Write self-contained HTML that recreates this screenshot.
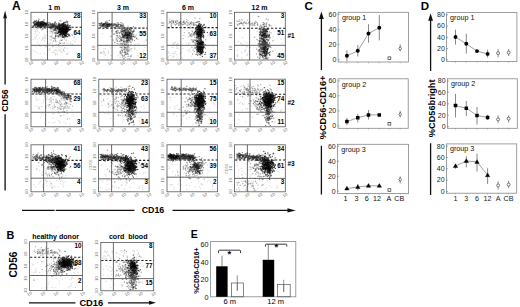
<!DOCTYPE html>
<html><head><meta charset="utf-8"><style>
html,body{margin:0;padding:0;background:#fff;width:520px;height:307px;overflow:hidden}
svg{display:block;font-family:"Liberation Sans",sans-serif}
.d{fill:none;stroke:#000;stroke-width:1.25px;stroke-linecap:round;filter:blur(.45px)}
</style></head><body><svg width="520" height="307" viewBox="0 0 520 307" ><text x="12.1" y="9.7" font-size="12" font-weight="bold" text-anchor="start" fill="#000">A</text><text x="54.3" y="9.6" font-size="7" font-weight="bold" text-anchor="middle" fill="#000">1 m</text><text x="123" y="9.6" font-size="7" font-weight="bold" text-anchor="middle" fill="#000">3 m</text><text x="188" y="9.6" font-size="7" font-weight="bold" text-anchor="middle" fill="#000">6 m</text><text x="259.5" y="9.6" font-size="7" font-weight="bold" text-anchor="middle" fill="#000">12 m</text><path d="M5.1 17V84.5M5.1 114.2V190.5" stroke="#111" stroke-width="1.3"/><path d="M5.1 10.4L3.2 18.2H7Z" fill="#111"/><text x="7.5" y="100.5" font-size="8.8" font-weight="bold" text-anchor="middle" fill="#000" transform="rotate(-90 7.5 100.5)">CD56</text><path d="M22 210.4H54.6M55.7 210.4H134.5M172.5 210.4H289" stroke="#111" stroke-width="1.2"/><path d="M295.8 210.4L287.5 208.2V212.6Z" fill="#111"/><text x="153" y="213.3" font-size="8.8" font-weight="bold" text-anchor="middle" fill="#000">CD16</text><clipPath id="k1"><rect x="31" y="12.3" width="50.599999999999994" height="47.7"/></clipPath><g clip-path="url(#k1)"><path class="d" stroke-opacity="0.7" d="M63.4 23.6h.1m2.5-1.6h.1m-7 4.3h.1m.4-2.2h.1m0 1.7h.1m1 1h.1m.1-1.7h.1m0 1.4h.1m.1-.2h.1m.2-2.3h.1m0 .5h.1m.5-.2h.1m.6 1.4h.1m.1-1.7h.1m.2 2.8h.1m.3 .1h.1m0-1.1h.1m0 1.1h.1m0-2.7h.1m0 2.5h.1m.1 .2h.1m.8-1.7h.1m.2-1h.1m.3 2.6h.1m.5 .1h.1m.9-1.1h.1m1.5 .2h.1m-11.9 2.4h.1m.5 .6h.1m.7-1.8h.1m.3 .2h.1m0 1.3h.1m0 .5h.1m0-.3h.1m-.1 1h.1m.5-.4h.1m.6-1h.1m0 1.3h.1m0 0h.1m0-2h.1m.1 .3h.1m-.1-.7h.1m0-.2h.1m-.1 2.3h.1m.5-.5h.1m.1 .2h.1m0-1.4h.1m.1 1.1h.1m0-.7h.1m-.1 .5h.1m-.1 1.2h.1m0-.2h.1m0-.6h.1m-.1 .7h.1m0-.7h.1m-.1-1.1h.1m-.1 1.9h.1m-.1-.6h.1m-.1-.3h.1m0-.1h.1m-.1-1.9h.1m0 2.8h.1m0-1.4h.1m0 1.1h.1m.1 .4h.1m-.1-1.2h.1m.1-.8h.1m-.1 1.8h.1m0-1.3h.1m-.1 0h.1m0-1.3h.1m0 1.3h.1m0 .6h.1m-.1-.5h.1m0-1.3h.1m0 2.3h.1m0-.8h.1m-.1-.7h.1m0-.3h.1m-.1 1.6h.1m-.1 .6h.1m0-.4h.1m0 .2h.1m-.1 .2h.1m-.1-.8h.1m-.1 .3h.1m.1-.1h.1m0-2.1h.1m0 .4h.1m-.1 0h.1m0 1h.1m-.1 1h.1m-.1-2.2h.1m0 .5h.1m0-.1h.1m-.1 1.5h.1m0 .4h.1m0-1.2h.1m0 1.2h.1m-.1-.7h.1m0 .8h.1m.4-1.5h.1m-.1-.1h.1m.2 1.1h.1m-.1 .3h.1m0-1h.1m0-1.2h.1m0 1.2h.1m0-.5h.1m-.1 .5h.1m.1 .3h.1m.1 0h.1m-.1-.4h.1m.1-.5h.1m.2 0h.1m-.1 1.1h.1m0 .6h.1m.7-.1h.1m0-2.6h.1m1.6 .1h.1m-12.7 4.7h.1m.3 .7h.1m1-1.4h.1m0 .4h.1m.2-1.5h.1m.4 2.2h.1m.1-1.4h.1m.3 .3h.1m.1 1.7h.1m-.1-1.9h.1m.6 .8h.1m-.1-.4h.1m.1 .7h.1m-.1-.8h.1m.1-.6h.1m.6 2.1h.1m0-2.4h.1m0 .3h.1m0 .9h.1m.4-1.2h.1m-.1 2.5h.1m0-.4h.1m-.1-.7h.1m0 .6h.1m0-1.7h.1m.2 .8h.1m0-1.4h.1m0 1.6h.1m.1-.5h.1m-.1-.1h.1m.1 1.1h.1m.1-1.1h.1m.1 1h.1m.1-.8h.1m-.1-.9h.1m-.1 1.5h.1m.2-1.1h.1m.2 1.3h.1m.5-1.5h.1m.1 .5h.1m.3 .7h.1m.3-.1h.1m-7.4 1.5h.1m1.5 .1h.1m.6 2.7h.1m.1-2.8h.1m0 .2h.1m0 1.1h.1m1.6 .8h.1m.1 .6h.1m.5-.9h.1m-.2 1.6h.1m.1-.5h.1m.3 .1h.1"/><path class="d" stroke-opacity="0.7" d="M59.7 23.9h.1m3 0h.1m.7-1.2h.1m.2 .9h.1m1-1.2h.1m-5.6 4.5h.1m2.6-2.6h.1m0 1.3h.1m0 .7h.1m.6 .5h.1m0-.1h.1m0-1.1h.1m.1 0h.1m-.1 1.1h.1m0-1.7h.1m0 1.2h.1m-.1 .5h.1m-.1-2.5h.1m.4 2.3h.1m-.1 .4h.1m0-.3h.1m-.1-.1h.1m.1 0h.1m.8 .4h.1m.2-.9h.1m0 .8h.1m.1-.1h.1m.6-1.1h.1m.3 .4h.1m.9 .9h.1m-9.5 .3h.1m.4 2.1h.1m.2-1.6h.1m0 1.5h.1m.2 .1h.1m.4-.3h.1m0-.3h.1m.1 .9h.1m.2-2.3h.1m.1 1.6h.1m0 .9h.1m.1-.5h.1m.2-.8h.1m-.1 .6h.1m.2-1.8h.1m.2 1.7h.1m0 .7h.1m0-1.5h.1m.1-1.1h.1m.3 2.8h.1m0-.5h.1m-.1-2h.1m-.1 2.1h.1m0-1.1h.1m-.1-1h.1m0 2h.1m0-2.2h.1m.1 2h.1m-.1-2.2h.1m-.1 1.3h.1m0 1.5h.1m.2-1.5h.1m-.1-.2h.1m-.1-.7h.1m.1 2.1h.1m0-1.8h.1m.1-.4h.1m.1-.3h.1m-.1 .1h.1m0 .8h.1m-.1 .5h.1m-.1-1h.1m-.1 1.7h.1m.5 0h.1m.3-.6h.1m-.1 .6h.1m0 0h.1m0-.6h.1m0 1.2h.1m.1 0h.1m-.1-2.3h.1m-.1-.1h.1m-.1 .8h.1m.1 .7h.1m0-1.1h.1m-.1 1.3h.1m0 .9h.1m.3-2.5h.1m.9 .7h.1m.9 1.3h.1m.5-1.8h.1m.6 1.9h.1m-12 2.3h.1m.8-.7h.1m0 .6h.1m.7-1.5h.1m.2 2.3h.1m-.1-2.3h.1m.2 .9h.1m.1 .4h.1m.2-.5h.1m-.1 1.3h.1m.1 0h.1m-.1-1.7h.1m-.1 2h.1m.4-1.5h.1m0-1.1h.1m0 0h.1m.1 .2h.1m.2 2.7h.1m.2-2.6h.1m0-.2h.1m0 2.6h.1m-.1-1.4h.1m-.1 .7h.1m0-.3h.1m0-.1h.1m0 .1h.1m-.1-.1h.1m-.1-1.4h.1m-.1 1.7h.1m0 .2h.1m-.1 .5h.1m-.1 0h.1m-.1-.1h.1m.2-2.4h.1m0 .1h.1m0-.1h.1m0 1h.1m0-.2h.1m-.1-.5h.1m-.1 2.2h.1m0-2.2h.1m-.1 .7h.1m-.1-1h.1m0 2.2h.1m0-2h.1m0 0h.1m.1 1.6h.1m-.1-1.2h.1m0-.5h.1m.2-.1h.1m0 2.2h.1m.4 .4h.1m0-1.6h.1m.1-1.1h.1m.4 1.9h.1m-.1-1h.1m0 .8h.1m0-.5h.1m.1-.3h.1m0-.8h.1m.2 .5h.1m.7 0h.1m-10.7 2.9h.1m1.2 1.1h.1m2.1-.6h.1m.7 .6h.1m.4-.2h.1m0-1.2h.1m-.1 .3h.1m0-.5h.1m.8 .7h.1m0 .7h.1m0-.1h.1m.3-.4h.1m.1 1.2h.1m.6-1.7h.1m1.7 .8h.1m1.2 0h.1m.2 .7h.1m0-.6h.1m0 .7h.1"/><path class="d" stroke-opacity="0.7" d="M62.6 23.8h.1m4.9-2h.1m-8.8 4.1h.1m1.6-.1h.1m.1-1.1h.1m.7 .8h.1m.1 .1h.1m.6 .5h.1m.7-1.3h.1m0 1.5h.1m.4-1.3h.1m0 1.2h.1m.2-.7h.1m0-.3h.1m0 .4h.1m.1 .2h.1m.1-.2h.1m0 .1h.1m.1-1.2h.1m.4 2.4h.1m-.1 0h.1m.2-.4h.1m.8-.9h.1m.5-.1h.1m0-.1h.1m.2-1.1h.1m-12.5 4.2h.1m3.7 1.3h.1m.5-2.8h.1m0 .1h.1m-.1 1.5h.1m.1 .2h.1m.1-1.1h.1m0 .5h.1m0-.5h.1m-.1 .5h.1m.3-.5h.1m.4 0h.1m0 2h.1m.1-1.5h.1m0-.3h.1m0-.6h.1m-.1 2.5h.1m0-.4h.1m-.1-.4h.1m0 .1h.1m-.1 .4h.1m0-2.3h.1m-.1 1.3h.1m0-1h.1m0 1.9h.1m0 .5h.1m-.1-.3h.1m.1-2h.1m0 .9h.1m0-1.3h.1m.1 .2h.1m.1 1.5h.1m0-.7h.1m0 .6h.1m-.1-1.6h.1m.1 .2h.1m0 .3h.1m0 1h.1m0 1.1h.1m.1-2.5h.1m.1 2.5h.1m.1-2.3h.1m-.1 2.3h.1m.1-.2h.1m.6-.6h.1m-.1-.7h.1m0-.5h.1m.3 1h.1m-.1 .6h.1m-.1-2.2h.1m-.1-.1h.1m.3 2.5h.1m0-1.8h.1m0 .9h.1m.1-.3h.1m.1 .4h.1m.1 .8h.1m.5-1.9h.1m0 1.9h.1m0-1.5h.1m.6 1h.1m.2 .3h.1m.7 .4h.1m-10.6 2.3h.1m0 .1h.1m.4 .5h.1m.3 .1h.1m.1-1.8h.1m.1 .3h.1m.4-.3h.1m.1-.7h.1m.4 1.4h.1m.2-.7h.1m-.1 .6h.1m.4 .6h.1m-.1 0h.1m0-1.3h.1m0 .4h.1m.3 .7h.1m-.1-1.7h.1m0 2h.1m-.1-2.1h.1m0-.1h.1m-.1 .5h.1m0-.4h.1m0 .7h.1m-.1 1.6h.1m-.1-1.3h.1m0 .7h.1m-.1-.5h.1m-.1-1.2h.1m-.1 1.8h.1m-.1-1.1h.1m0-.6h.1m-.1 .6h.1m0 .5h.1m0-1h.1m-.1 1.3h.1m.1-1.5h.1m.1 2.7h.1m0-.8h.1m.2-.9h.1m.1 1h.1m0 .3h.1m0-.2h.1m-.1-1.7h.1m0-.4h.1m.2 1.3h.1m0-1.1h.1m.1 1.2h.1m0 .4h.1m-.1-1.7h.1m.2 2.4h.1m-.1-2.1h.1m0 .1h.1m0-.6h.1m-.1 1.3h.1m.3 .6h.1m0-.6h.1m0 .6h.1m0 0h.1m1.6-1.9h.1m-8.7 4.6h.1m.1-1.6h.1m.3 .6h.1m1 .5h.1m0 1.6h.1m1.4-2.8h.1m0 1.3h.1m-.1-.2h.1m.2-.2h.1m0 .6h.1m0 .7h.1m.2-2h.1m0 1.4h.1m.4 .8h.1m.1-2.3h.1m.7 .2h.1m0 2.4h.1m.3-1.3h.1m0-1.3h.1m1.8 2.6h.1m.9 .1h.1m-6.9 1.5h.1m.5-.1h.1m.7-.7h.1m2.5 .2h.1"/><path class="d" stroke-opacity="0.4" d="M55.1 21.8h.1m9.5 .6h.1m-11.7 3.1h.1m.2-.5h.1m5-.2h.1m.2 .5h.1m1.4 .3h.1m1.8 .4h.1m2.6 .8h.1m2-2.5h.1m3.4 1.1h.1m-19.8 2.4h.1m5.6 .5h.1m.6 .1h.1m.8-.1h.1m.6-.3h.1m.4-.3h.1m5.3-.7h.1m2.2 1.2h.1m-13.2 2.1h.1m3.9 .2h.1m.4 .8h.1m-.1-.7h.1m.6 .4h.1m1.4 1h.1m.1 .3h.1m2.4-2h.1m2.1 2.3h.1m.3-1.3h.1m-10.5 4.3h.1m.2-2.1h.1m1.4-.2h.1m.7 2.4h.1m1.7 .1h.1m-.1-2h.1m.8 1h.1m4.9 .2h.1m6.6 .2h.1m-21.5 1.8h.1m2.9 1h.1m1.2-.9h.1m0 1.1h.1m1.9-2.2h.1m2.8 0h.1m.7 .7h.1m.9-.7h.1m1.3 .8h.1m1.4 .5h.1m2.4-.8h.1m-12.5 3.5h.1m.3 1.2h.1m6.3-1.3h.1m-2.5 3.1h.1m4.6 0h.1"/><path class="d" stroke-opacity="0.4" d="M59.9 20.4h.1m-4.7 2.6h.1m3.2 .6h.1m9-.5h.1m-17.9 3.7h.1m2.3-2.2h.1m4.4 2h.1m3.2-1.4h.1m-4.9 2.5h.1m-.1 2.1h.1m.2 .1h.1m.9-2.1h.1m.4 .6h.1m0 .6h.1m.7 .6h.1m4.7-2.5h.1m2.1 2.7h.1m5.6-1.6h.1m-18.6 4.7h.1m.5-1.8h.1m.6-.3h.1m.5 2.1h.1m1.4-.2h.1m.6-.8h.1m1.5 .8h.1m.7-1.3h.1m-.1 .6h.1m.6 .8h.1m2.2-.6h.1m.9-2h.1m.8 .2h.1m-6.4 2.6h.1m1.3 2.5h.1m.9-2.5h.1m1 1.3h.1m.2-.6h.1m.3 .9h.1m.7-1.6h.1m.5 0h.1m0 .6h.1m2.2 .8h.1m.6-.5h.1m-10.5 2.2h.1m.8 .1h.1m2.2 .6h.1m0-.8h.1m4.3 1.2h.1m1.5-.1h.1m-11.7 4h.1m8-.7h.1m4.7-.3h.1m-7.8 4.6h.1m1.9-1.4h.1"/><path class="d" stroke-opacity="0.4" d="M60.7 20.9h.1m-5.3 1.1h.1m.9 1.7h.1m9.8-2.5h.1m.6 1h.1m-14.7 4.1h.1m2.1-.9h.1m.4 .8h.1m1.4 .3h.1m.9-.7h.1m2-.5h.1m9.1 0h.1m-18.8 2.7h.1m4 1.1h.1m1.4-1.9h.1m0 2.4h.1m1.8-.1h.1m.3-1.3h.1m.6 .6h.1m.2 0h.1m.9-.9h.1m2.3 1.3h.1m1.2-.9h.1m-12.8 3.1h.1m3.2-1.2h.1m1.3 .7h.1m.2-.6h.1m2.1 .8h.1m.1 1.3h.1m1.6-1.4h.1m.1-.7h.1m.3 .6h.1m2.1 .9h.1m.7-.2h.1m1.6 .6h.1m-10.6 .8h.1m.7 1.8h.1m.2-1.8h.1m2.8 1.3h.1m.6 1.2h.1m.2-1.6h.1m4.9 .7h.1m0-1.1h.1m1.4-.2h.1m-16 2.7h.1m2 1.9h.1m1.3 .6h.1m1-2.5h.1m2.5 .7h.1m4 .6h.1m0 .4h.1m.2-1.7h.1m1.6 2.8h.1"/><path class="d" stroke-opacity="0.4" d="M34.7 20.6h.1m9.1 .1h.1m-9.9 1.1h.1m0 1.3h.1m.8-2.1h.1m2.7 1.7h.1m.3 .6h.1m0-.1h.1m.4 .3h.1m.9-.2h.1m.7 .5h.1m.3-1.1h.1m.2 .5h.1m0 .3h.1m1-1.8h.1m.4 2.1h.1m.2-.9h.1m-.1-.8h.1m.2 1.7h.1m.4-1.4h.1m.7 1h.1m4.1-.3h.1m.6 .3h.1m-.1-1h.1m4.6 .7h.1m.1 .1h.1m-21 2.2h.1m.2-1.4h.1m1.2 2h.1m0-1.1h.1m.1-.2h.1m.1-.1h.1m1 .3h.1m.3 .3h.1m-.1-1.1h.1m.1-.1h.1m.1 1.9h.1m.5-.7h.1m0 .9h.1m-.1-1.1h.1m.4 .7h.1m0-.2h.1m-.1-1.1h.1m.1-.2h.1m-.1 2.1h.1m0-1.6h.1m0 .1h.1m.1 1.3h.1m.5 .3h.1m.1-1.1h.1m0-1.2h.1m.4 .9h.1m.3 .5h.1m0-.7h.1m0 1.8h.1m.4-2h.1m.9 1.8h.1m.4-1.7h.1m.1 .4h.1m.1-.8h.1m.2-.1h.1m0 .6h.1m-.1 1.6h.1m0-2.2h.1m.3 .7h.1m.6 .2h.1m0 .6h.1m0 .4h.1m.2-2h.1m.5 1.2h.1m.6-.1h.1m-.1 .1h.1m.7 .5h.1m0-.9h.1m-.1 1.2h.1m0-.7h.1m0 .6h.1m1.4-1.9h.1m.5 1h.1m0-.7h.1m.3 1.8h.1m.6-2h.1m0 1.6h.1m0 .6h.1m0-2.3h.1m-.1 2.7h.1m.3-1.6h.1m.3 1.6h.1m.1-.2h.1m.4-2h.1m.1-.1h.1m-.1-.5h.1m0 2.7h.1m0-.8h.1m.2 .3h.1m.2 0h.1m.2-1.4h.1m.2 .3h.1m-.1 .9h.1m.3-.3h.1m.5-1.5h.1m.8 1.4h.1m0-.4h.1m.6 0h.1m0 1.6h.1m0-2.4h.1m.7 1.2h.1m-17.6 1.7h.1m2.2 1h.1m1.4-.5h.1m4.3-.7h.1m1 1.5h.1m.1-1.5h.1m.3 1.1h.1m.2 .9h.1m.4-2.1h.1m1 2.4h.1m.1-2h.1m.3 .3h.1m.2-.1h.1m.3 2.3h.1m0-1.6h.1m1.6-.4h.1m1-.4h.1m0-.4h.1m.4 .9h.1m-2.6 2.2h.1"/><path class="d" stroke-opacity="0.4" d="M43.9 19.6h.1m-10.5 2.9h.1m.3 .8h.1m.3-.5h.1m.6 .5h.1m.5 .3h.1m.2-2.3h.1m0 2.6h.1m.2-.1h.1m.4-1.4h.1m.2 .8h.1m.6-.3h.1m1.3-.6h.1m0 1h.1m.5-.7h.1m.1 1.3h.1m0-.5h.1m1.2 .3h.1m.1-.4h.1m.4-.6h.1m-.1 .6h.1m.1-.4h.1m.6 .9h.1m.7-.7h.1m1-.5h.1m0 .9h.1m0-.8h.1m1.4 1h.1m.1-.1h.1m3.9 .2h.1m1.3 0h.1m2-1h.1m-19.7 1.4h.1m1.6 .5h.1m.2 1.1h.1m.2-.2h.1m.3 .8h.1m-.1-2h.1m0 .5h.1m0 1.1h.1m.2-1.3h.1m.1-.6h.1m.3 1.1h.1m0-.4h.1m0-.3h.1m.2 0h.1m1 1.5h.1m-.1-.9h.1m.2-1.1h.1m0 2.1h.1m.3-.6h.1m0-1.4h.1m0-.1h.1m.2 1.1h.1m-.1-.4h.1m.6 1.8h.1m0-2.3h.1m.4 .9h.1m.1-.4h.1m.1-.2h.1m0 .4h.1m.4 1.2h.1m-.1-1.6h.1m.7 1.6h.1m.1-1.5h.1m.2 1.3h.1m.1-.9h.1m0-.1h.1m.3 .1h.1m.1 1.5h.1m.4-1.5h.1m.1-.3h.1m-.1 1.3h.1m1-1.7h.1m0-.1h.1m1.3 1.5h.1m.1 .5h.1m.1-.9h.1m.5 .8h.1m-.1-1.3h.1m.2 1.4h.1m-.1 0h.1m.3 .5h.1m.2-.2h.1m.2-.6h.1m0 .1h.1m0-.4h.1m.1 .7h.1m0 .1h.1m.7-.4h.1m.2 .9h.1m.3-2.7h.1m.5 .6h.1m.6 2h.1m.6-.6h.1m-.1 .5h.1m0-1.4h.1m.2 .9h.1m.4-.4h.1m.1 .8h.1m-.1-.9h.1m.9 .9h.1m1.1-1h.1m.1-.9h.1m.4 .3h.1m-19.3 3.2h.1m.3-.6h.1m.1-.6h.1m.1 .2h.1m1.2 .7h.1m2.3 .2h.1m.1 .3h.1m1.3-1.2h.1m3.4 .3h.1m1.1 .3h.1m.6 .5h.1m2.8-1h.1m.1-.3h.1m.1 .7h.1m.3-.7h.1m.1 2.8h.1m.2-2.6h.1m.4-.2h.1m1.4 .2h.1m0 1h.1m.4 1.6h.1m.2-.5h.1"/><path class="d" stroke-opacity="0.4" d="M32.9 22.7h.1m2.5 1.1h.1m.2 0h.1m.6-.4h.1m.4-1h.1m.1 .4h.1m.2-.5h.1m0 .7h.1m.4 .4h.1m0 0h.1m0-.6h.1m.7 .7h.1m.4-.2h.1m-.1-1.3h.1m.1 1.7h.1m1.1-.6h.1m.5-.1h.1m.4-.2h.1m1.3 1h.1m-.1-1.9h.1m1 2h.1m.3-1h.1m.7 .8h.1m1-.3h.1m1.3-.9h.1m4.1 1h.1m6-.9h.1m-25.3 3.8h.1m.9-.9h.1m.5-.3h.1m.1-.1h.1m.5-1.1h.1m.1 .3h.1m.2-.1h.1m.7 .2h.1m.2 0h.1m.2-.4h.1m.2 2.4h.1m0-1.8h.1m0 0h.1m.1 1.5h.1m0-1.6h.1m-.1 0h.1m.2 1.7h.1m.4-.4h.1m.7-.9h.1m.1-.7h.1m-.1 .4h.1m-.1 2.1h.1m0-1.9h.1m-.1 1.5h.1m0-2.1h.1m.3 1.1h.1m.2-1h.1m-.1 .2h.1m1.1 .3h.1m0 1.9h.1m-.1-2.2h.1m.3 1.2h.1m.7-.9h.1m.3 .8h.1m0 .8h.1m.1 .5h.1m.1-.7h.1m.1 .5h.1m0-1.3h.1m.3-.3h.1m.1-1.1h.1m.4 .7h.1m-.1 .7h.1m-.1-.7h.1m.3-.5h.1m0 .4h.1m.3 .6h.1m0 .9h.1m.4-.2h.1m.1-1.5h.1m-.1 1h.1m.2-.5h.1m.2-.4h.1m.4 .6h.1m.9 1.7h.1m.2-.3h.1m.1-2.5h.1m.3 0h.1m.3 .6h.1m0 .9h.1m-.1-.8h.1m.4 2.1h.1m-.1-2.7h.1m.1 .1h.1m-.1 .1h.1m0 1.1h.1m.2 .7h.1m.1-1.1h.1m.1 1.2h.1m.6-.4h.1m-.1 .7h.1m-.1-1.5h.1m.4 .1h.1m0-1.1h.1m.2 2.3h.1m.1-.9h.1m0-1.4h.1m.4 1.2h.1m.9 1.1h.1m1.6 .3h.1m.6-2.5h.1m.1 .3h.1m.3 2.3h.1m.5-1.2h.1m-20.4 2.1h.1m4.8-.3h.1m2.5 .1h.1m0 1.6h.1m1.9-1.9h.1m-.1 .1h.1m.5 .6h.1m1.3-.4h.1m2.8 1.5h.1m.3 .1h.1m.7-1.2h.1m1.4-.7h.1m.3 .7h.1m.4-.4h.1m.4-.4h.1"/><path class="d" stroke-opacity="0.5" d="M38.5 20.6h.1m-2.8 1h.1m1.1 0h.1m.3 1.7h.1m.8-.1h.1m.2-1.7h.1m1.4 1.8h.1m0 .1h.1m.6-1.3h.1m.3 .9h.1m0-1.1h.1m.1 .5h.1m.4-.3h.1m-.1 .2h.1m1.1 .5h.1m1.8 .8h.1m.3 .3h.1m1.3-1.7h.1m0 1.2h.1m.5-.2h.1m-14.5 2.7h.1m1.1-1h.1m1.3-.3h.1m.1-.3h.1m2.1 .5h.1m.4 .3h.1m0-.9h.1m.8 .5h.1m.4 1.1h.1m.4-1.5h.1m.6 2.4h.1m.2-1.5h.1m.2-.2h.1m1.7-.2h.1m1.2 0h.1m2.1 .2h.1m1.6-.5h.1m-14.2 3.2h.1m2.9 .1h.1m.5-.7h.1"/><path class="d" stroke-opacity="0.5" d="M36.3 20.4h.1m2.5-1.2h.1m-5.5 3.6h.1m.5-1h.1m1.7 .9h.1m.3 .4h.1m.5-.1h.1m.7-.9h.1m.4-1h.1m.2 1.3h.1m1.5-.5h.1m.2 .9h.1m-.1 .9h.1m.3-1.2h.1m.4 1.2h.1m.5-.2h.1m.4-1.5h.1m1.6 .7h.1m-.1 .8h.1m1.7 .4h.1m.7-.8h.1m-14.1 3h.1m1.5-1.3h.1m.7 1.5h.1m.7-1.5h.1m.4-.3h.1m.4 .8h.1m.2 .2h.1m.3 1h.1m1.1-.8h.1m.6-.3h.1m1.7 0h.1m-.1 .3h.1m.2-1.6h.1m.9 0h.1m.7 .9h.1m0 .3h.1m.8-1.3h.1m1.2 .9h.1m.5-.4h.1"/><path class="d" stroke-opacity="0.5" d="M34.5 21.8h.1m.4 0h.1m.6 1.7h.1m.4-.6h.1m2-.3h.1m.9-.2h.1m-.1 .2h.1m1-.5h.1m.9-.4h.1m0 2h.1m.5-2.6h.1m.3 2.7h.1m-.1-.7h.1m.3-1.1h.1m1.2 1.7h.1m0-1.3h.1m.2 .9h.1m-10 1.1h.1m.5-.1h.1m.7 2.5h.1m.9-2.1h.1m.7 .4h.1m-.1-.6h.1m.3 1h.1m1 .9h.1m1-1.1h.1m-.1-.7h.1m.2 .1h.1m.1 1h.1m.3-1.5h.1m.8 .6h.1m.1 .1h.1m.1 .3h.1m0 .4h.1m.6 .2h.1m0-.1h.1m0-1h.1m3.6 .1h.1m-6.5 3.1h.1m1.7 1.1h.1"/><path class="d" stroke-opacity="0.15" d="M37.3 28.9h.1m4.2 1h.1m7.8-1.8h.1m.9 1h.1m11.5 0h.1m4.4-1h.1m.8 .6h.1m2.4 .1h.1m-30.9 3.9h.1m10.7-.6h.1m1.9-.6h.1m2.6 .6h.1m4.3-2h.1m6.8 1.3h.1m-30.9 2.2h.1m1.2 2.3h.1m11-.9h.1m4.5-.2h.1m4.7-1.6h.1m5.8 1.7h.1m3 .4h.1m2.9-.9h.1m1-.9h.1m-25.4 5.2h.1m6.8-2.7h.1m15.1 1.9h.1m7-.4h.1m0 .7h.1m-32.8 2h.1m8.6-.3h.1m1-.5h.1m3 .6h.1m2.4 1.8h.1m2.9-1.2h.1m16.1-.9h.1m-23.7 3.5h.1m4 1.3h.1m13.5-.8h.1m2.2 .5h.1m0 .4h.1"/><path class="d" stroke-opacity="0.15" d="M34 29.5h.1m2.1-.3h.1m5.5 .3h.1m.8 .2h.1m9.4-1h.1m9.1-.4h.1m-26.3 3.1h.1m.7-.3h.1m21 1.2h.1m-11 3.2h.1m3.8-2.4h.1m7 1.1h.1m2 .1h.1m4.1 .1h.1m-.1 .8h.1m12.2-2h.1m-32.7 4.2h.1m.4 .3h.1m1.8 .4h.1m0-2h.1m3.5 0h.1m8.6 .8h.1m.2 1h.1m1.7-.8h.1m13.5-.6h.1m1 .6h.1m-41.8 2.4h.1m11.4 1.6h.1m6.8-.8h.1m8.2 0h.1m13-.1h.1m-33.7 4.7h.1m9.3-.7h.1m1.4-1.1h.1m5.6 1.6h.1m3.7-1.5h.1m3.9 .6h.1m2.7-.5h.1m4.2 1h.1m3.7-2.2h.1"/><path class="d" stroke-opacity="0.15" d="M37.8 28.7h.1m22.4-.5h.1m-24.9 3.8h.1m1.8-1.2h.1m9.2 .8h.1m2.3-.7h.1m1.2-.9h.1m.4 .8h.1m4.3-.8h.1m-18.3 4.6h.1m7.3-.3h.1m10.5-.2h.1m4.6 1.4h.1m1.9 0h.1m9.7-.9h.1m-37 2.5h.1m.4 1.7h.1m.1-1.8h.1m4 1h.1m2.8-.1h.1m2.1-1.6h.1m7.9 1.8h.1m14.9-1.3h.1m.4-.1h.1m.1-.2h.1m-31.3 3h.1m5.1 0h.1m.5-.4h.1m1.2 1.4h.1m3.6 1.3h.1m12.5-2.7h.1m14.5 2.7h.1m-37.7 .9h.1m11.8 .9h.1m1.1-1.6h.1m1.3 2.9h.1m10.2-2h.1m.5 .4h.1m4.9 .4h.1m2.9-1.7h.1"/><path class="d" stroke-opacity="0.15" d="M64.8 47.7h.1m-15.6 1.1h.1m-.1 .3h.1m.5-.6h.1m4.2 2.4h.1m2.1-1h.1m2.1 .3h.1m4.4 .2h.1m-15.3 2.4h.1m6.1-.3h.1m.9 1h.1m5.9-1.8h.1m.3-.4h.1m.5 1.5h.1m-6.9 2h.1"/><path class="d" stroke-opacity="0.15" d="M52.3 46.9h.1m3.7 .6h.1m-.8 2.4h.1m2.6-1.9h.1m2 2.8h.1m3.1-1.6h.1m-11.7 3.4h.1m5.2-.9h.1m6.3-.7h.1m1 .5h.1m1.4 2.4h.1m1.7-1.5h.1m-12 2h.1m1.3-.3h.1m10.3 .1h.1"/><path class="d" stroke-opacity="0.15" d="M47.2 46.1h.1m5.4 .4h.1m.8 0h.1m4.8-.3h.1m.9 .7h.1m2.4-.9h.1m-13.2 4.4h.1m.3-.6h.1m10.3-.4h.1m1.4-.6h.1m2.4 .5h.1m.8-1.2h.1m2.7 .3h.1m-14.5 3.8h.1m13.8 1.8h.1"/><path class="d" stroke-opacity="0.15" d="M45.8 46.4h.1m-12.4 4.5h.1m1.8 .4h.1m4.6 2.4h.1"/><path class="d" stroke-opacity="0.15" d="M40.1 46.6h.1m5.6 .4h.1m-9 5.8h.1"/><path class="d" stroke-opacity="0.15" d="M36.1 46.2h.1m8 7h.1m2.5 1.6h.1"/></g><rect x="31" y="12.3" width="50.599999999999994" height="47.7" fill="none" stroke="#555" stroke-width=".8"/><path d="M47.5 12.3V60M31 45.35H81.6" stroke="#444" stroke-width=".8" fill="none"/><path d="M31.5 27.3H81.6" stroke="#222" stroke-width="1.1" stroke-dasharray="2.2 1.8" fill="none"/><text x="80.5" y="18" font-size="6.3" font-weight="bold" text-anchor="end" fill="#000">28</text><text x="80.5" y="35.2" font-size="6.3" font-weight="bold" text-anchor="end" fill="#000">64</text><text x="80.5" y="57.6" font-size="6.3" font-weight="bold" text-anchor="end" fill="#000">8</text><text x="31" y="64.6" font-size="4.2" fill="#666" text-anchor="middle" transform="rotate(-30 31 63.5)">10</text><text x="43.6" y="64.6" font-size="4.2" fill="#666" text-anchor="middle" transform="rotate(-30 43.6 63.5)">10</text><text x="56.3" y="64.6" font-size="4.2" fill="#666" text-anchor="middle" transform="rotate(-30 56.3 63.5)">10</text><text x="68.9" y="64.6" font-size="4.2" fill="#666" text-anchor="middle" transform="rotate(-30 68.9 63.5)">10</text><text x="81.6" y="64.6" font-size="4.2" fill="#666" text-anchor="middle" transform="rotate(-30 81.6 63.5)">10</text><text x="28.4" y="60" font-size="4.2" fill="#666" text-anchor="middle" transform="rotate(-90 28.4 60)">10</text><text x="28.4" y="48.1" font-size="4.2" fill="#666" text-anchor="middle" transform="rotate(-90 28.4 48.1)">10</text><text x="28.4" y="36.1" font-size="4.2" fill="#666" text-anchor="middle" transform="rotate(-90 28.4 36.1)">10</text><text x="28.4" y="24.2" font-size="4.2" fill="#666" text-anchor="middle" transform="rotate(-90 28.4 24.2)">10</text><text x="28.4" y="12.3" font-size="4.2" fill="#666" text-anchor="middle" transform="rotate(-90 28.4 12.3)">10</text><clipPath id="k2"><rect x="97.8" y="12.3" width="49.500000000000014" height="47.7"/></clipPath><g clip-path="url(#k2)"><path class="d" stroke-opacity="0.5" d="M121.9 29h.1m.3 .9h.1m1.7-.2h.1m.2-2.4h.1m2 2.4h.1m.5 0h.1m0-.7h.1m.2 .7h.1m2-.6h.1m.9-1.4h.1m.6 2.2h.1m-12.6 2.7h.1m2.6-1h.1m.3 .1h.1m2-1.3h.1m2 2.3h.1m.1-2.6h.1m0 2.2h.1m0-.3h.1m.5 .4h.1m-.1-2h.1m.4 1.7h.1m0 0h.1m.1-1.6h.1m.2 .2h.1m.3 0h.1m0 .3h.1m0 .9h.1m.4 .5h.1m3.3-1.2h.1m-11.4 2h.1m2 2.3h.1m.4-1h.1m.4-1.5h.1m.3 2.4h.1m.8-2.3h.1m-.1 2.8h.1m.2-1.3h.1m.5-.2h.1m.2 1h.1m.1 .1h.1m0-2.5h.1m0 1.9h.1m0 .2h.1m.3 .6h.1m.1-1.2h.1m.1 .9h.1m.2-.4h.1m0-1.2h.1m.2 1.2h.1m0 .2h.1m0-.8h.1m-.1 .5h.1m.2-.8h.1m-.1 1.1h.1m.1-2h.1m.2 2.4h.1m.7-2.5h.1m.5 2.8h.1m0-1.9h.1m.8-.1h.1m-9.4 2.3h.1m-.1 1.6h.1m0 .2h.1m.7-1.1h.1m.3 .5h.1m.6 .1h.1m.8 .5h.1m-.1-.3h.1m0 .5h.1m1.3-.8h.1m1.8-.6h.1m.5 2h.1m0-.6h.1m.9-2.2h.1m1.6 .3h.1m-4.2 3.4h.1m1.8-.6h.1m1.5 .2h.1m.1 .2h.1"/><path class="d" stroke-opacity="0.5" d="M133.4 26.7h.1m-7.5 2.5h.1m1.6-.4h.1m.2 .3h.1m1.3-1.3h.1m.1 .6h.1m.2 1.4h.1m1.3-2h.1m.7 .6h.1m-8.6 4.1h.1m.1-1.8h.1m.7 .7h.1m-.1-.6h.1m1 .9h.1m.2 .6h.1m.6-1.2h.1m1.6 1.6h.1m.3-.5h.1m.6 .7h.1m.4-.3h.1m.2-.9h.1m.5-.2h.1m.7-.1h.1m1.6-.3h.1m-11.6 2.1h.1m.4 1.1h.1m1.7 1.4h.1m.6-.5h.1m0-.8h.1m0 1h.1m.7-1.1h.1m0 .2h.1m-.1-.7h.1m0 .8h.1m0 .8h.1m.3-2.3h.1m.4 2.8h.1m0-2h.1m0 .4h.1m.7 1.2h.1m-.1-2.3h.1m.2 2.5h.1m.3 0h.1m-.1-2.5h.1m0 .8h.1m-.1-1h.1m-.1 2.7h.1m0-2.4h.1m.3 .2h.1m0 .2h.1m0 1.6h.1m.5-1.3h.1m.2-.9h.1m.6 .4h.1m0-.3h.1m0 2.3h.1m-9.4 1.8h.1m1.1 .1h.1m0-1.3h.1m.7 .2h.1m.3-.2h.1m0 .1h.1m.4 .2h.1m1.2 1.5h.1m.3 0h.1m0-1.3h.1m.2 1.4h.1m0-.9h.1m.4-1h.1m0 1.6h.1m0-.1h.1m.4-.7h.1m1.7-.5h.1m0 .8h.1m.2 1.5h.1m.8-.9h.1m.1 .7h.1m1.2-2h.1m1.4 .4h.1m-6.3 2.2h.1"/><path class="d" stroke-opacity="0.5" d="M122 28.5h.1m3.2 1.2h.1m4.4 .1h.1m-7.2 1.3h.1m.1 .6h.1m.1-.6h.1m.2 .4h.1m0-1.1h.1m.1 .3h.1m.9 .2h.1m-.1-.7h.1m.7 0h.1m0 2.7h.1m1.4-.4h.1m.4-.8h.1m.2-.2h.1m.3 .7h.1m.5-.4h.1m.4 1.1h.1m.4-.2h.1m.6-2.6h.1m1.9 2.5h.1m.9-1h.1m.5-.5h.1m-12.1 4.4h.1m.8-1.3h.1m-.1-.7h.1m1.2 2.3h.1m0-.1h.1m.2-.6h.1m.2-.8h.1m0 .6h.1m.1-1.1h.1m.1 .5h.1m0 .9h.1m.4 .4h.1m-.1-1.4h.1m0 .6h.1m0-.1h.1m.1 .7h.1m.1-1.3h.1m0 .1h.1m-.1 1.2h.1m.4-.6h.1m0 .8h.1m0-.8h.1m.3 .2h.1m.7 .3h.1m-.1 .1h.1m0-.2h.1m-.1-.8h.1m0 .1h.1m.3 .8h.1m.1-1.8h.1m-5 3.4h.1m1 1.4h.1m.6-1h.1m.2-.5h.1m0 .3h.1m.1-.5h.1m.4 2.3h.1m-.1-.3h.1m.3-1.8h.1m.5 .9h.1m.5-.5h.1m.1 .6h.1m.2-1h.1m.3-.2h.1m.2 .4h.1m.2-.7h.1m.8 .6h.1m-7.1 4.2h.1m2-1h.1m.2-.8h.1m.7 1.1h.1m.7 0h.1m.7 .1h.1m-3.2 1.5h.1m1.4 .2h.1m2.9 0h.1"/><path class="d" stroke-opacity="0.4" d="M119.2 26.7h.1m3.5 .1h.1m-7.8 1.1h.1m6.2 1.7h.1m3.2-1h.1m.8-.9h.1m-13.8 3.4h.1m3.8 .6h.1m.7-.9h.1m4 0h.1m1.6 .9h.1m.1-.6h.1m1.5 1.1h.1m1.2-.2h.1m-5.9 3.5h.1m7.7-2.2h.1m.6 1.7h.1m.6 .1h.1m.8-.9h.1m1.1 .5h.1m-10.7 2.5h.1m1.9-.2h.1m.2-1h.1m5.6 2.9h.1m.4-2.1h.1m2.6 .4h.1m2.5-.1h.1m1.4-.9h.1m.7 2h.1m-19.8 1.1h.1m.3 1h.1m2 1h.1m1.4-2.2h.1m.1 .9h.1m1-.9h.1m1.1 2.6h.1m.7-2.6h.1m2.7 2.6h.1m0-1.9h.1m4.3-.6h.1m.7 1.4h.1m-15.2 3.1h.1m4.6 .3h.1m4.9-1.7h.1"/><path class="d" stroke-opacity="0.4" d="M121.1 25.3h.1m6.7 .7h.1m-10.5 2.5h.1m7.5 .4h.1m3-1.2h.1m5.8 2.1h.1m-18.1 1.7h.1m.1 .9h.1m.9-.5h.1m.7-1.2h.1m1.8 1.7h.1m5.2 0h.1m.3-2.3h.1m7.8-.1h.1m-17.3 3.4h.1m1.2 1.7h.1m4.1-.4h.1m2.8-.6h.1m.3 .2h.1m.3-.9h.1m1.5 2.1h.1m0-.1h.1m.7-1.2h.1m.5 .7h.1m4.9-.5h.1m-22.9 2h.1m5 2.4h.1m1.2-2.8h.1m1.9 2.4h.1m7.7-1.4h.1m0 1.4h.1m.4 .3h.1m-14.7 1.4h.1m4.1 1.3h.1m4.2-1.1h.1m5.7 .9h.1m1.3 0h.1m.7-1.3h.1m16.6 .1h.1m-24.5 3h.1m1.8 .4h.1m.8 3.8h.1m3.9-2h.1"/><path class="d" stroke-opacity="0.4" d="M124.9 27.6h.1m4.1 2h.1m.4-.3h.1m-8.8 2.5h.1m.2-1h.1m11.9 1.2h.1m-19.8 2.2h.1m.9-.3h.1m1.9 1.8h.1m.8-2.4h.1m2 .3h.1m2.8 .4h.1m.4 .6h.1m0 .7h.1m2-2.2h.1m2 2.4h.1m3.2-2.5h.1m.5 1.2h.1m.7 .9h.1m1.2 .7h.1m-15.5 2h.1m.3-.7h.1m1.6-.5h.1m1.2 1.2h.1m.1 .1h.1m1.6-1.4h.1m7 2.1h.1m6.6 .1h.1m-16.8 2.3h.1m.3-1.7h.1m.2 .1h.1m.4 .7h.1m.6 .3h.1m1.4-.3h.1m1.1 1.7h.1m.9-.7h.1m.2-.2h.1m.5-.5h.1m.8 .6h.1m6.7-.4h.1m-19.9 1.9h.1m7.7 2h.1m1.8 0h.1"/><path class="d" stroke-opacity="0.4" d="M106.9 20.8h.1m-5.3 1.7h.1m1.9 1.1h.1m.4 0h.1m.2-.1h.1m2.5 .4h.1m.7-.7h.1m.2 .7h.1m13.2-1h.1m-20.4 3.7h.1m-.1-1.5h.1m.6 1.5h.1m.9-2.3h.1m.1 .9h.1m.2 1.1h.1m2.7-1.1h.1m.7 1.6h.1m0-2.3h.1m.1 0h.1m.1 2.2h.1m.2-2.2h.1m0 .4h.1m.5-.2h.1m1 1.5h.1m0-1h.1m.4-.4h.1m1.3-.4h.1m1.5 .4h.1m.5 .6h.1m2 .5h.1m-.1-.4h.1m0-.6h.1m.3 1.4h.1m1.1-1.4h.1m-.1 1.8h.1m.8-2.5h.1m.1 0h.1m1.4 .5h.1m.8 1.3h.1m0 .6h.1m.7-.1h.1m1 .4h.1m-8.2 .3h.1m2.7 .2h.1"/><path class="d" stroke-opacity="0.4" d="M101.6 23.7h.1m3.9-.1h.1m.7-1.5h.1m5 1.7h.1m.1-.6h.1m2.9 .5h.1m1 .1h.1m1.3-1.3h.1m2.9 0h.1m2.6 1.1h.1m-22.8 1.7h.1m1.8 .9h.1m1.2-.8h.1m1.5 1.3h.1m.3-1.2h.1m.9-.7h.1m.5 .8h.1m.1-.6h.1m-.1 .5h.1m1.8-1.4h.1m.1 .2h.1m3.6 1.1h.1m.8-1.3h.1m-.1 1.1h.1m1.1 0h.1m.6-.8h.1m.4 1.9h.1m.2-1.5h.1m-.1 .1h.1m.1 1.1h.1m.5 .1h.1m.6-.2h.1m2.2 0h.1m.1-.1h.1m.1-1.2h.1m-.1 .2h.1m.3 .8h.1m.3-.8h.1m.8 .6h.1m1.4 .7h.1m-17.6 2.5h.1m14-.2h.1m.9-.7h.1"/><path class="d" stroke-opacity="0.4" d="M100.7 23.6h.1m2.8 .1h.1m1-.3h.1m.3-1.3h.1m.1 1.3h.1m.6 .4h.1m3.7 .1h.1m2.4 0h.1m.6-.1h.1m4.8-.6h.1m-17.7 3.3h.1m1.4-1.6h.1m.8-.7h.1m.6 1.6h.1m.1-1.1h.1m.2 1.1h.1m.1-1.5h.1m.6 1.3h.1m0-.5h.1m.2-.7h.1m.9-.1h.1m.7 2.2h.1m.8-.5h.1m.1-1.7h.1m.2 1.9h.1m.7-1.9h.1m1.9 1.5h.1m.5-.7h.1m2.9-.4h.1m.9-.3h.1m.2 1.7h.1m.4-.5h.1m0-.2h.1m.3 0h.1m.6-.5h.1m.2 1.5h.1m.7-1.6h.1m1.4 1.8h.1m.5-1.1h.1m.9 .7h.1m1.1-1.5h.1m.1 .9h.1m-10 1.4h.1"/><path class="d" stroke-opacity="0.5" d="M104 23.9h.1m1.6-.5h.1m-6.6 1.9h.1m.5-1.1h.1m1.7 1.3h.1m.5-.2h.1m2.1-.5h.1m0-.4h.1m.5-.4h.1m.5 2.9h.1m.3-1.6h.1m1 1.2h.1m0-1.6h.1m.5-.4h.1m.8 .2h.1m.2 1h.1m.3-.9h.1m.3-.4h.1m1 .7h.1m.8-.7h.1m.1 2.5h.1m-11.6 .7h.1m4.7-.1h.1"/><path class="d" stroke-opacity="0.5" d="M109.3 20.3h.1m-9.7 3h.1m5.9-1.1h.1m.9 1.5h.1m.4-1.4h.1m.9 .8h.1m1.4 .5h.1m1 .2h.1m-8.5 2h.1m.2-1.1h.1m.1 1.6h.1m.2-1.6h.1m2.8 1.2h.1m.5-1.6h.1m.8 .8h.1m0-.9h.1m.4 .1h.1m0 2.2h.1m2.2-1h.1m.4 1h.1m1.3-.9h.1m1.6-1.5h.1m4.6 .3h.1"/><path class="d" stroke-opacity="0.5" d="M98.8 23.6h.1m1.7 .2h.1m.6-.5h.1m0-.5h.1m1.5 1.1h.1m0-.3h.1m-2.9 1.6h.1m2.3-.6h.1m1 .4h.1m.3-.1h.1m.2 1.4h.1m2.6-1.4h.1m.4 1.7h.1m.1-.5h.1m.6-1h.1m.2 .1h.1m.3 1.1h.1m1.1-1.6h.1m-5.4 2.4h.1m1.1-.1h.1m-.1 .5h.1m7.5 .1h.1"/><path class="d" stroke-opacity="0.3" d="M126.2 35h.1m.9 2.4h.1m-3.4 3.8h.1m2.4-.9h.1m-7.6 3.6h.1m1.4 .3h.1m4.5-1.1h.1m.3 1.2h.1m1 .4h.1m.5-1.4h.1m1 .7h.1m.4-1.8h.1m-7.7 5.5h.1m.9-1h.1m2.8-1.1h.1m.4 1.7h.1m1.2 .4h.1m1.1-1.3h.1m-2.1 3.1h.1m.7 1h.1m.2-.7h.1m3-.1h.1m1.4-1.4h.1m-11.9 3.2h.1m.8 1.3h.1m.1 .9h.1m1.1-2.6h.1m2.5-.1h.1m.2 1.8h.1m0 1.1h.1m.1-2.3h.1m.7 1h.1m.1 .3h.1m.4-1.8h.1m1 .3h.1m-6.2 3h.1m.2 .5h.1m1.8 .8h.1m2.8-1.3h.1m1.2-.3h.1m-4.3 4.2h.1m0 .4h.1"/><path class="d" stroke-opacity="0.3" d="M124.3 38.7h.1m2.7-1.8h.1m2.6 1.6h.1m-6.6 2.5h.1m7 .2h.1m-6.9 1.1h.1m2.5 1.7h.1m.3 0h.1m-6.6 3.3h.1m1.2 .2h.1m2.9-2.1h.1m.2 2.3h.1m.7-2.5h.1m1.1 1.8h.1m1-2h.1m-5.8 5.4h.1m1.2-.7h.1m1.2 .4h.1m.5-2.1h.1m-.1 .8h.1m.5-.8h.1m.3 .5h.1m.8 1.1h.1m.2 1.3h.1m1.5-.1h.1m-8.8 1.7h.1m2 0h.1m0-1.3h.1m1.2 1.4h.1m1.1-.2h.1m.7 1.4h.1m1.7-.1h.1m-3 .9h.1m2.9 1.8h.1m.7-.3h.1m1.6 .5h.1m.2-.2h.1m.4-1.1h.1m0 1.3h.1m-8.7 1h.1m1.1 1.3h.1m3.8-.4h.1"/><path class="d" stroke-opacity="0.3" d="M121.1 40.9h.1m3.7 .8h.1m-4.4 1.5h.1m3.8 .9h.1m6.4 .5h.1m-9.2 .8h.1m.8 2.4h.1m.8-1.8h.1m.5 1h.1m2.9-.6h.1m.3 1.4h.1m.3-1h.1m0-.2h.1m.9 .9h.1m-7.7 2.3h.1m.1 .7h.1m.2-.4h.1m.9-2h.1m1-.1h.1m.3 1.7h.1m-.1-1.2h.1m2.9 .3h.1m.5 2h.1m.2-1.6h.1m.3 .8h.1m5.8-1.1h.1m-15 4.8h.1m.3-2.4h.1m.8 1.5h.1m3.2-.6h.1m.5-.3h.1m2 1.6h.1m.3-.7h.1m-5 2.5h.1m.1 .8h.1m-.1 .4h.1m1.7-.6h.1m.8-1.6h.1m.5 0h.1m-.7 3.3h.1m3.5 1.3h.1m.8 .2h.1"/><path class="d" stroke-opacity="0.15" d="M122.4 30.1h.1m.3 1h.1m-20.2 2.5h.1m27.4 2.1h.1m12.9-1.2h.1m-22 3.7h.1m17.3 1.5h.1m-7.6 2.4h.1m7 1.2h.1m-28.4 4.4h.1m10.6-1.2h.1m15.2-1.5h.1m2.3 0h.1m-18.1 5.6h.1m23.3-.2h.1m-21.4 5.4h.1m1.5 1h.1"/><path class="d" stroke-opacity="0.15" d="M118.1 30.7h.1m3.8 .1h.1m7.9 2.3h.1m2.6 2.8h.1m3.5-1.6h.1m3.2 1h.1m4.3 6.1h.1m.8 5.9h.1m-36.8 3.7h.1m23.2 .1h.1m11.7 .6h.1m-40.2 2.4h.1m17.7 1.6h.1m9.8-.7h.1m7.5 1.1h.1m4.5-1.9h.1m-23 3.2h.1"/><path class="d" stroke-opacity="0.15" d="M113.1 31h.1m12.3 1.4h.1m6.8 1.8h.1m12.3 .3h.1m-28.5 3.4h.1m-.6 2.9h.1m21.3-1.3h.1m-2.4 5.1h.1m-.7 2.7h.1m-12.5 1.6h.1m8.1-.4h.1m-29.9 4.9h.1m5.1 1.3h.1m5.1 .8h.1m7.2 .2h.1m19.2-.3h.1"/><path class="d" stroke-opacity="0.15" d="M105.5 48.6h.1m.1 .5h.1m-4.8 3.8h.1m3.2-1h.1m.6 2h.1"/><path class="d" stroke-opacity="0.15" d="M103.5 50.6h.1m.3-2.1h.1m-2.2 4.3h.1m2.4-.5h.1m3.7 .2h.1"/><path class="d" stroke-opacity="0.15" d="M100.9 52.2h.1m.5 .2h.1m1.8-.3h.1m4.8 1h.1m-3.1 2.4h.1"/></g><rect x="97.8" y="12.3" width="49.500000000000014" height="47.7" fill="none" stroke="#555" stroke-width=".8"/><path d="M112.1 12.3V60M97.8 45.35H147.3" stroke="#444" stroke-width=".8" fill="none"/><path d="M98.3 28.1H147.3" stroke="#222" stroke-width="1.1" stroke-dasharray="2.2 1.8" fill="none"/><text x="146.20000000000002" y="18" font-size="6.3" font-weight="bold" text-anchor="end" fill="#000">33</text><text x="146.20000000000002" y="36.0" font-size="6.3" font-weight="bold" text-anchor="end" fill="#000">55</text><text x="146.20000000000002" y="57.6" font-size="6.3" font-weight="bold" text-anchor="end" fill="#000">12</text><text x="97.8" y="64.6" font-size="4.2" fill="#666" text-anchor="middle" transform="rotate(-30 97.8 63.5)">10</text><text x="110.2" y="64.6" font-size="4.2" fill="#666" text-anchor="middle" transform="rotate(-30 110.2 63.5)">10</text><text x="122.6" y="64.6" font-size="4.2" fill="#666" text-anchor="middle" transform="rotate(-30 122.6 63.5)">10</text><text x="134.9" y="64.6" font-size="4.2" fill="#666" text-anchor="middle" transform="rotate(-30 134.9 63.5)">10</text><text x="147.3" y="64.6" font-size="4.2" fill="#666" text-anchor="middle" transform="rotate(-30 147.3 63.5)">10</text><text x="95.2" y="60" font-size="4.2" fill="#666" text-anchor="middle" transform="rotate(-90 95.2 60)">10</text><text x="95.2" y="48.1" font-size="4.2" fill="#666" text-anchor="middle" transform="rotate(-90 95.2 48.1)">10</text><text x="95.2" y="36.1" font-size="4.2" fill="#666" text-anchor="middle" transform="rotate(-90 95.2 36.1)">10</text><text x="95.2" y="24.2" font-size="4.2" fill="#666" text-anchor="middle" transform="rotate(-90 95.2 24.2)">10</text><text x="95.2" y="12.3" font-size="4.2" fill="#666" text-anchor="middle" transform="rotate(-90 95.2 12.3)">10</text><clipPath id="k3"><rect x="167" y="12.3" width="50.5" height="47.7"/></clipPath><g clip-path="url(#k3)"><path class="d" stroke-opacity="0.7" d="M197.7 26.9h.1m.7-1.9h.1m.1 1.6h.1m.2-.6h.1m.7 .4h.1m.2 .4h.1m1-2.3h.1m1.3 1.7h.1m1.1-.8h.1m-6.2 4.1h.1m0-1.3h.1m-.1 1.3h.1m.3-.8h.1m0-.7h.1m-.1 .7h.1m0-1h.1m0 1.1h.1m.1-.5h.1m.2 1.4h.1m-.1-2h.1m0 .9h.1m.3 .9h.1m0 .2h.1m0-1.4h.1m.1 .9h.1m.2-.5h.1m-.1-.4h.1m0-.1h.1m.3 1.3h.1m-.1 .4h.1m.2-2.6h.1m-.1 2.5h.1m.2-.6h.1m0-1.1h.1m.9-.2h.1m.8 0h.1m2.4-.7h.1m-10.3 4.2h.1m.2-.7h.1m1.5 1.3h.1m.1 .5h.1m.3 .2h.1m0-.2h.1m0-.3h.1m-.1 .6h.1m0 0h.1m.1-.3h.1m.6-.4h.1m.2 .2h.1m-.1-.4h.1m.1-.1h.1m0 .6h.1m.1-1h.1m.9 .4h.1m.4 .5h.1m.1-2.3h.1m0 .7h.1m.1-.1h.1m1 1.4h.1m1 .5h.1m2.9 .1h.1m-12.5 .6h.1m2-.2h.1m.2 1.5h.1m-.1-.6h.1m1.1 1.5h.1m-.1-.9h.1m0-.1h.1m-.1-1.3h.1m0 1.9h.1m0-.4h.1m0-1.6h.1m.3 1.6h.1m.2 .8h.1m.1-2.3h.1m.2 .9h.1m0-.9h.1m0-.1h.1m-.1 1.9h.1m.2 .9h.1m.2-1.1h.1m.1 .9h.1m1.5-1.8h.1m.5 1.9h.1m-5.4 1.6h.1m.2-.6h.1m0-.2h.1m1.9 2.2h.1m-.1-1.4h.1m.3-.9h.1m.2 .6h.1m.2 .6h.1m2.3-.6h.1m-4 3.4h.1"/><path class="d" stroke-opacity="0.7" d="M199.1 21.7h.1m-1 4.2h.1m.1-1.1h.1m.1 1.5h.1m.1-.4h.1m.9 .3h.1m-.1-.2h.1m.1 .7h.1m.6-.4h.1m-5.6 2.7h.1m.1-.4h.1m1.2 .4h.1m-.1-1.9h.1m0 1.7h.1m.7 .4h.1m.3-1.6h.1m.5 .9h.1m.1-.6h.1m.3 2h.1m0-2.8h.1m.1 1.7h.1m0-1.7h.1m-.1-.1h.1m.3 1.7h.1m-.1-.9h.1m.2 .5h.1m-.1 1.6h.1m.2-1.4h.1m.3 1.2h.1m.1-1.7h.1m.6 1.8h.1m.5-1.2h.1m.6 1.2h.1m1.9-2.5h.1m-10.1 4.2h.1m1.6 1.4h.1m.6-.5h.1m.4-.7h.1m0-.6h.1m.5 .9h.1m.2-2h.1m0 .6h.1m-.1 1.5h.1m.2-2.1h.1m0 1.9h.1m.7-1.9h.1m.2 1.7h.1m0 1.2h.1m-.1-.6h.1m.2-.7h.1m-.1-.3h.1m0 0h.1m0 .3h.1m0-.4h.1m.1-.6h.1m.2-.2h.1m-.1 1.9h.1m.6-1.4h.1m.2-.1h.1m1.2-.1h.1m-7.3 5.2h.1m0-2.3h.1m-.1 .6h.1m0-.2h.1m.3-.1h.1m0 2h.1m.1 0h.1m0-.9h.1m.2-.1h.1m0 .5h.1m.3-1.5h.1m-.1-.7h.1m.2 .5h.1m-.1 .6h.1m.1 .8h.1m-.1-1.7h.1m0 1.2h.1m.1 0h.1m.3-1.3h.1m0-.1h.1m-.1 .5h.1m.2 .8h.1m-.1-1.3h.1m.3 1.6h.1m.3 .6h.1m.2-1.2h.1m.1 .5h.1m.2 1.1h.1m-.1-1.9h.1m1 .2h.1m-3.8 4.2h.1m.2 .5h.1m.2-2.1h.1"/><path class="d" stroke-opacity="0.7" d="M197.1 22.1h.1m1.8 1.2h.1m.2 .4h.1m-2.5 2.2h.1m.4 .5h.1m.5 .5h.1m.3-1.4h.1m0 .9h.1m.1 .5h.1m.1-.1h.1m.7-2.2h.1m.2 1.6h.1m.2-2.1h.1m.1 2h.1m.1-.9h.1m1.4 1h.1m1.8-1.8h.1m-8.3 3.4h.1m.2 1.9h.1m0-.5h.1m1.2 .6h.1m.3-.3h.1m0-.3h.1m0 .6h.1m1.1-.5h.1m0 .4h.1m-.1-.8h.1m0-1.9h.1m.4 1.4h.1m.2 1.3h.1m-.1-.2h.1m.1-.4h.1m.3-.4h.1m0-1.1h.1m-.1 1.6h.1m.4-.2h.1m-5.6 3.8h.1m0-1.1h.1m.3 .6h.1m.6-1.1h.1m.3 .4h.1m-.1-.2h.1m.1 1.5h.1m0-2.5h.1m.1 2.4h.1m.2-.1h.1m.1-1h.1m.2 .7h.1m0 .4h.1m0-2.1h.1m-.1 2.1h.1m.1-2.8h.1m0 1h.1m0-.6h.1m.1-.2h.1m0 1.2h.1m.2-1.3h.1m-.1 .9h.1m.1 1.5h.1m.1-1.8h.1m0 1.2h.1m.1-1h.1m-.1-.5h.1m-.1-.2h.1m0 1.7h.1m-.1-.4h.1m.1-1.1h.1m.1 0h.1m.4 2.5h.1m-.1-1h.1m.1 .3h.1m.7-2.1h.1m.1 1.9h.1m1.2 0h.1m-8.3 1.2h.1m.6 1h.1m.5-.5h.1m.6 .8h.1m.4-.5h.1m.6-.6h.1m.3-.1h.1m.1 1.9h.1m.4 .3h.1m.1-1.4h.1m.4-.2h.1m.1-.9h.1m-.1 2.5h.1m-5.3 2h.1m2.2-1.3h.1m.2 .2h.1m.4-.4h.1m1.3 1.2h.1m1.7-.7h.1"/><path class="d" stroke-opacity="0.7" d="M197.4 41h.1m3.3 .1h.1m.5-.6h.1m0 1.4h.1m-4.5 1.7h.1m.3 .4h.1m.3-1.2h.1m.6 1.3h.1m0-1.4h.1m0 1.4h.1m.1-1.5h.1m0 1.4h.1m.2-1.1h.1m.2 1.3h.1m.2-1.7h.1m.2 2.3h.1m.4-1h.1m0 .6h.1m.1-2.1h.1m.4 1.8h.1m.7-1.7h.1m-.1-.3h.1m.4 2.5h.1m.4 .3h.1m-.1-.4h.1m0-1.9h.1m.2 1h.1m-7.6 3.6h.1m.3-.5h.1m.7 .5h.1m.1-1h.1m.4-.4h.1m.7 .5h.1m-.1-1h.1m0 1.8h.1m-.1-1.8h.1m0 .8h.1m-.1 .5h.1m0-.8h.1m.1 1.8h.1m.1-1.6h.1m0-.1h.1m-.1 1.9h.1m-.1-1.9h.1m0-.1h.1m.2-.3h.1m.6 .5h.1m-.1 1.2h.1m0 .7h.1m.2-2.4h.1m0-.1h.1m.5 .2h.1m0 .1h.1m.6 1.1h.1m.1 .9h.1m.5-.3h.1m-6.9 2.2h.1m1.5 .4h.1m.2-.9h.1m.3 .5h.1m.5-1.3h.1m.8 1.2h.1m.4 1.2h.1m.2-2.7h.1m-.1 .5h.1m0 .9h.1m.6-1.4h.1m.1 1.1h.1m0 1h.1m0-1.9h.1m.1 2h.1m-4.5 1.4h.1m.5 .3h.1m1 .7h.1m.2-.5h.1m-.1 0h.1m.4 .6h.1m.7 .7h.1m.3 .4h.1m0-1.9h.1m.3-.3h.1m0 .8h.1m2.6 .2h.1m-7.9 2.5h.1"/><path class="d" stroke-opacity="0.7" d="M198 38h.1m5.2-.2h.1m-2.4 3.1h.1m.3-1.7h.1m.4 2.4h.1m-4.4 1.6h.1m.2-1.1h.1m.2 2.8h.1m.1-.1h.1m.1 0h.1m.6-1.2h.1m.1 1.2h.1m-.1-.5h.1m0-1.7h.1m0 1.8h.1m0-1.5h.1m.6 .2h.1m0-.7h.1m-.1 .8h.1m.2 1.5h.1m0-1.6h.1m0 1.8h.1m.2-2.4h.1m0 .9h.1m0 .9h.1m0 .4h.1m.5-1.4h.1m-.1 1h.1m-5.1 1.3h.1m.2 .4h.1m.3-.2h.1m0-.8h.1m-.1 1.7h.1m.1 .2h.1m0-1h.1m.1 .6h.1m.2-.3h.1m.1-.3h.1m0 .5h.1m0 .7h.1m.3 .2h.1m0-1.5h.1m.2 0h.1m.1-.5h.1m.2 1h.1m.1 1h.1m-.1-.9h.1m.4 1h.1m.1-2.3h.1m-.1 .3h.1m1.1-.2h.1m-.1 1.7h.1m.7-.5h.1m1 .7h.1m-7.3 2h.1m.2 1.6h.1m-.1-2.4h.1m.6 2.6h.1m0-1.7h.1m0 .3h.1m.8 .1h.1m.1 .5h.1m0-1.9h.1m.1 2h.1m0 .4h.1m0-.9h.1m.1-1.4h.1m-.1 1.8h.1m.2-.3h.1m0-.7h.1m.3-.3h.1m.4 .5h.1m.7 .5h.1m.2-1.8h.1m-5.8 3.2h.1m1.6 .3h.1m1 .1h.1m.5 1.9h.1m.3-1.4h.1m.3 1.5h.1m.5-1.9h.1m.5-.5h.1m-1.9 3.8h.1"/><path class="d" stroke-opacity="0.7" d="M196.8 41.4h.1m1.1-.1h.1m2.8 .5h.1m-1.7 2.8h.1m.3-1.5h.1m.2 .2h.1m.2-.1h.1m0 1.2h.1m.4-.9h.1m-.1 .5h.1m.2-.8h.1m.4-.9h.1m0 1.5h.1m.2 1.1h.1m-.1-2.7h.1m-.1 .8h.1m.1 1.8h.1m.2-.8h.1m.4-2h.1m.1 .7h.1m1.7 2h.1m-8.4 .8h.1m-.1-.2h.1m.4 .1h.1m.4 1.3h.1m-.1 1.2h.1m0-2.7h.1m.2 1.7h.1m.4-1.9h.1m.3 .4h.1m.1 2h.1m.1-.3h.1m0-.2h.1m.4-.9h.1m.2 .9h.1m-.1-.2h.1m-.1 .4h.1m.4 .8h.1m0-2h.1m0 1.5h.1m.4-.5h.1m0-.3h.1m.4-1.4h.1m.2 2.1h.1m.7-.4h.1m-6.6 1.1h.1m.1 1.2h.1m.3 .1h.1m.5-.4h.1m-.1-.4h.1m.3-.4h.1m-.1 2.5h.1m.1-2.4h.1m.3 1.1h.1m.6 .9h.1m-.1-1.7h.1m0 .1h.1m0-.6h.1m.1 2.9h.1m0-2.4h.1m-.1 1.6h.1m-.1-.2h.1m-.1-.4h.1m.3 .4h.1m.6-1.8h.1m.3 2.2h.1m.8-.2h.1m.4-1.3h.1m-5.8 3.1h.1m.6-.9h.1m.7 2.1h.1m.5-1.4h.1m.8 .1h.1m.2-.5h.1m.1 0h.1m.6 2.2h.1m-.1-1.1h.1m.2-1.2h.1m1.3 .8h.1m-7.3 2.2h.1m3.7 .4h.1m2.3 1.9h.1m2.5-2h.1"/><path class="d" stroke-opacity="0.4" d="M195.1 17.8h.1m4.6 .9h.1m-1.9 3h.1m-.5 7.9h.1m-3.3 3h.1m3.3 0h.1m2-.1h.1m1.6-1.5h.1m-7.2 3.7h.1m.2-.7h.1m1.3 1.6h.1m.1-.5h.1m.9-1.6h.1m1.3 1h.1m1.3-.4h.1m.2 .3h.1m-5.9 2.8h.1m1.8-.3h.1m1.1-.9h.1m-5.7 4.2h.1m1.1-.1h.1m1.4 .2h.1m1.3 1.6h.1m1.1-1.3h.1m.3 .5h.1m1.9 .7h.1m.1-2.8h.1m-.1 1.2h.1m.2 1.3h.1m.5-2.5h.1m0 2.6h.1m2-.1h.1m-8.9 1.4h.1m1.1 1.3h.1m2.9-1.7h.1m1-.2h.1m.1 0h.1m.1 2.5h.1m.4 0h.1m-5.3 2.8h.1m.8-2.2h.1m1.2 1.6h.1m1.9-.3h.1m-6.7 3.2h.1m1.2-1.8h.1m1 .5h.1m5 .7h.1m-6.3 2h.1m2.5 1h.1m2.9-.4h.1"/><path class="d" stroke-opacity="0.4" d="M199.5 25.2h.1m-3.3 5.4h.1m3.6-.1h.1m-3.9 3.8h.1m1.8-1.3h.1m.5 1.2h.1m1.9-.4h.1m.3 1.9h.1m.2 0h.1m2.3 .1h.1m-7.4 3h.1m1.8-2.6h.1m.1 2.7h.1m.4-1.2h.1m-.1-1.3h.1m1 .6h.1m.2 .5h.1m.8-1.3h.1m-8.4 5.2h.1m1.9-1.5h.1m.9 .9h.1m.2 .5h.1m0-1.3h.1m.1 .5h.1m1.5 .7h.1m.1-1.4h.1m.1 .6h.1m-.1 .9h.1m-.1-1.5h.1m.2 1.5h.1m1.3-2.3h.1m2.1 1.9h.1m-5.1 3.1h.1m0 .6h.1m1.7-.2h.1m1.1 0h.1m.8-.8h.1m-7.8 1.7h.1m1.1 .2h.1m.8-.5h.1m1.7 1.6h.1m3.1-1.3h.1m.7 2.6h.1m-3.5 .1h.1m0 1.8h.1m0 .2h.1m6.4-1.4h.1m-12.7 5.4h.1m5.3 .1h.1m1.7 .4h.1"/><path class="d" stroke-opacity="0.4" d="M195.9 22.6h.1m2.5 5.2h.1m3.1 1.8h.1m-7.4 2.6h.1m2.4-1.7h.1m2.1 1.6h.1m.7-1.3h.1m.4-.8h.1m.5 1.7h.1m-3.9 2.6h.1m1.3 .9h.1m0-1.4h.1m1.1 2h.1m0-.2h.1m.5-.5h.1m.2-2.1h.1m-3.7 5.3h.1m.7-1.5h.1m.2 .7h.1m1.8-.9h.1m.5 .2h.1m2.3-.3h.1m-10 5.4h.1m2.7-.1h.1m.8-1.4h.1m1 .2h.1m-.1-1.2h.1m.5 2.3h.1m0-.3h.1m.1-1h.1m.4 .7h.1m.7-1.5h.1m5.2 .2h.1m-9.7 3.9h.1m1.8-.3h.1m.3-1.1h.1m.5 1.7h.1m.5-.1h.1m.9 0h.1m0 .1h.1m1.2 .1h.1m.1-.4h.1m.9 3.9h.1m-6.5 2.8h.1m.8-.6h.1m1.9 .4h.1m.6 .2h.1m2.2-1.8h.1m-1.1 3.3h.1"/><path class="d" stroke-opacity="0.3" d="M177.5 20.5h.1m9-1.1h.1m-17.6 3.8h.1m.4-1.3h.1m3.6-.5h.1m.1 1.2h.1m2.2-.6h.1m.8 1.8h.1m2.4-1h.1m-.1-.1h.1m.2 .3h.1m.6-1.2h.1m0 .5h.1m0-.6h.1m0 2.2h.1m2.8-1.3h.1m-.1-.8h.1m-.1 .2h.1m0 .3h.1m1 .2h.1m4.1 .1h.1m1.8 .7h.1m2.5 .5h.1m.5-1.7h.1m2.1 .3h.1m-25.1 1.7h.1m0 1.6h.1m.1 .7h.1m2.9-2.3h.1m1.1 1h.1m3.2-.1h.1m5-.7h.1m3.4 .8h.1m-.1 0h.1m1.3-.3h.1m6.1-.2h.1m1 .1h.1"/><path class="d" stroke-opacity="0.3" d="M169.6 19.8h.1m1.7 .5h.1m.9 .3h.1m.5 .2h.1m0-.3h.1m14.5 .1h.1m-18.5 1h.1m.9 .3h.1m.9-.4h.1m1.5 2.2h.1m-.1-.9h.1m.3-.9h.1m1.7-.9h.1m.3 1.3h.1m.5-.4h.1m.5 1.7h.1m.8-2h.1m.2 1.4h.1m2-.6h.1m.5-.4h.1m2.6-1h.1m1.8 2.5h.1m.6-1.6h.1m4.2 .9h.1m.1 .1h.1m1.7-.5h.1m.8 .6h.1m-14.9 1.1h.1m1.3 .8h.1m3.3-.3h.1m3.7 .4h.1m2.2-.4h.1m.1 0h.1m.1-.4h.1m4.1 .7h.1m.9 .1h.1m1.9 .6h.1"/><path class="d" stroke-opacity="0.3" d="M176.2 20.7h.1m-5.7 1.7h.1m.7 .9h.1m1.5-1.4h.1m2.1 .2h.1m3.5 .9h.1m.1-.1h.1m.3-.4h.1m.6-.9h.1m.3 1.6h.1m.6 .3h.1m1.5-1.1h.1m.5-.2h.1m.9-1.1h.1m.2 2.3h.1m1.8-1.8h.1m.6 .9h.1m.7 1h.1m2.3-.5h.1m.5-.5h.1m.1-1h.1m-.1 1.8h.1m2.8-.2h.1m-22.8 2h.1m4.1-.5h.1m2.7 .7h.1m3.2-.4h.1m.9-.9h.1m2.9 .1h.1m4.4 1.9h.1m1-1.7h.1m1.6 .6h.1m.1-.7h.1m.3 1.3h.1m.1 .2h.1m3.6 .1h.1"/><path class="d" stroke-opacity="0.15" d="M172.8 44.5h.1m.4-.4h.1m.7 .2h.1m2.8 .4h.1m.6-1h.1m.2 1.4h.1m-.1 3.2h.1m-2.3 3h.1m5.8 .8h.1m-8.9 3.7h.1m.9 .6h.1m-1.3 1h.1m.1-.1h.1"/><path class="d" stroke-opacity="0.15" d="M175.1 42.7h.1m6.5 1.5h.1m-10 3.3h.1m6.5-2.4h.1m1.5 4.2h.1m-6.5 4.5h.1m.5-2.1h.1m1.1 1.4h.1m4.4 .5h.1m-11.7 3h.1m2.1-.9h.1m-2.5 2.2h.1m13.3-.7h.1"/><path class="d" stroke-opacity="0.15" d="M172.7 42.5h.1m1.3 .8h.1m1.5-1.2h.1m.5 2.6h.1m-3.3 3h.1m3.3-.7h.1m.6 1.2h.1m-8.8 3.8h.1m.5 1h.1m3.1 .4h.1m.3 .1h.1m7.8-.7h.1m-3.6 1.9h.1"/><path class="d" stroke-opacity="0.15" d="M191.7 30.9h.1m13.4 .9h.1m2.4 3.7h.1m1.1-.7h.1m-18.3 7.8h.1m8.7-.6h.1m1.4 4.8h.1m-18.4 2h.1m6.4 2h.1m23.9 2.2h.1m-13.1 4.4h.1"/><path class="d" stroke-opacity="0.15" d="M184 29.6h.1m-.6 6h.1m10.1-1.4h.1m-7.8 8.9h.1m2.2 1.7h.1m7.5-2.3h.1m-1.9 4.7h.1m19.1-.7h.1m-25.6 4.2h.1m1.6-1.9h.1m16.4 8.7h.1"/><path class="d" stroke-opacity="0.15" d="M214 29.6h.1m-21.1 3.3h.1m9.5-1.1h.1m10.2 .6h.1m-29 2.9h.1m18.6-.8h.1m-12.4 17.7h.1m23 1.7h.1m-21.9 2.1h.1m6-.9h.1"/><path class="d" stroke-opacity="0.3" d="M189.7 27.7h.1m-.5 4.9h.1m2.1 .9h.1m.1 1.2h.1m1.8-.4h.1m4.3 0h.1m1.5 .2h.1m.2-1.2h.1m-11.6 3.5h.1m2-.8h.1m7.7 .2h.1m-3.1 4.5h.1m-6.7 2.4h.1m3.1 4.3h.1"/><path class="d" stroke-opacity="0.3" d="M190.2 28.2h.1m8.3 1.6h.1m-14.4 2.8h.1m14.4-.3h.1m-8.8 3.1h.1m.1 0h.1m1.3 .5h.1m.8-.8h.1m.6-1.7h.1m-1.8 3.2h.1m5.6 .4h.1m-4.7 5.1h.1m-.1 0h.1"/><path class="d" stroke-opacity="0.3" d="M192.3 31.1h.1m0 .4h.1m1.9 1.1h.1m-6 .6h.1m1 1h.1m.9 .3h.1m3.1 .7h.1m-.1-.3h.1m5.6-.4h.1m-16.6 4.2h.1m6.9-2.7h.1m1.1 3.7h.1m3.4 .1h.1"/></g><rect x="167" y="12.3" width="50.5" height="47.7" fill="none" stroke="#555" stroke-width=".8"/><path d="M180.8 12.3V60M167 45.35H217.5" stroke="#444" stroke-width=".8" fill="none"/><path d="M167.5 27.6H217.5" stroke="#222" stroke-width="1.1" stroke-dasharray="2.2 1.8" fill="none"/><text x="216.4" y="18" font-size="6.3" font-weight="bold" text-anchor="end" fill="#000">10</text><text x="216.4" y="35.5" font-size="6.3" font-weight="bold" text-anchor="end" fill="#000">63</text><text x="216.4" y="57.6" font-size="6.3" font-weight="bold" text-anchor="end" fill="#000">37</text><text x="167" y="64.6" font-size="4.2" fill="#666" text-anchor="middle" transform="rotate(-30 167 63.5)">10</text><text x="179.6" y="64.6" font-size="4.2" fill="#666" text-anchor="middle" transform="rotate(-30 179.6 63.5)">10</text><text x="192.2" y="64.6" font-size="4.2" fill="#666" text-anchor="middle" transform="rotate(-30 192.2 63.5)">10</text><text x="204.9" y="64.6" font-size="4.2" fill="#666" text-anchor="middle" transform="rotate(-30 204.9 63.5)">10</text><text x="217.5" y="64.6" font-size="4.2" fill="#666" text-anchor="middle" transform="rotate(-30 217.5 63.5)">10</text><text x="164.4" y="60" font-size="4.2" fill="#666" text-anchor="middle" transform="rotate(-90 164.4 60)">10</text><text x="164.4" y="48.1" font-size="4.2" fill="#666" text-anchor="middle" transform="rotate(-90 164.4 48.1)">10</text><text x="164.4" y="36.1" font-size="4.2" fill="#666" text-anchor="middle" transform="rotate(-90 164.4 36.1)">10</text><text x="164.4" y="24.2" font-size="4.2" fill="#666" text-anchor="middle" transform="rotate(-90 164.4 24.2)">10</text><text x="164.4" y="12.3" font-size="4.2" fill="#666" text-anchor="middle" transform="rotate(-90 164.4 12.3)">10</text><clipPath id="k4"><rect x="234.5" y="12.3" width="50.80000000000001" height="47.7"/></clipPath><g clip-path="url(#k4)"><path class="d" stroke-opacity="0.4" d="M266.6 22.9h.1m-6.8 3.4h.1m1.8 0h.1m1.9-.3h.1m.1 .7h.1m2.4-1.7h.1m2.3-.4h.1m1.9 1.3h.1m-13.8 2.2h.1m3 1.2h.1m1.3-1.9h.1m0 1.5h.1m4.6 .9h.1m.1-.6h.1m.1 .6h.1m1.1-1.7h.1m-7.8 3.8h.1m0 .2h.1m2.2-.2h.1m.1 1h.1m.1-.7h.1m.6-2.1h.1m1.5 1.8h.1m.7-1.5h.1m0 .4h.1m.8 .7h.1m1.9 .5h.1m-10 2.8h.1m.7-.7h.1m1.3 1.1h.1m.6 .2h.1m.5-.3h.1m.6-1.7h.1m-.1 2.2h.1m.1-.4h.1m.6-2.1h.1m.1 1.6h.1m.5-1.3h.1m.3 2.3h.1m-.1-1.2h.1m.4 0h.1m.1 1.4h.1m2.1-.2h.1m-9 1.8h.1m1.3 1.1h.1m1 .2h.1m.2-2.1h.1m1.5 2h.1m.2-.7h.1m-.1-.8h.1m.3 1.7h.1m.8-2.2h.1m.7 .5h.1m.5-1.2h.1m.8 .2h.1m-8.7 4.4h.1m2.4 .5h.1m0 .6h.1m-.1-2.3h.1m1.1 .6h.1m-.1-.8h.1m0 1.6h.1m0-.4h.1m-.1-.1h.1m0 .9h.1m.2-.6h.1m0 1.1h.1m.5-1.3h.1m0-.3h.1m.2 .9h.1m1.6-1.6h.1m1.2 0h.1m5 1.3h.1m-15 3.3h.1m.2 .2h.1m1.1 .4h.1m1.2-1h.1m.2 .8h.1m0-1.1h.1m.5 .7h.1m-.1-.4h.1m.5 1.1h.1m0-.1h.1m-.1 .2h.1m.1-1.6h.1m0 1.1h.1m.3 .2h.1m-.1-1.9h.1m.4 .6h.1m.1 1.6h.1m0 .1h.1m.3-2.2h.1m.2-.6h.1m-.1 .5h.1m0 2h.1m.4-.5h.1m.3-.9h.1m-.1-1.1h.1m.3 2.3h.1m1.2-1.4h.1m0 .7h.1m1.7-.6h.1m-10.6 3.5h.1m1.9 1.1h.1m.6-.4h.1m.2-2.3h.1m.5 2.5h.1m2.2-.8h.1m0-.7h.1m.5-.7h.1m.1 1.9h.1m0-.3h.1m-.1-.9h.1m0-.5h.1m.4 .1h.1m.6 .5h.1m1.4-.7h.1m-10 4.7h.1m.3 .7h.1m.1-1.5h.1m.9-.5h.1m1 .3h.1m1.5 0h.1m.6 1.5h.1m0 .3h.1m.6-1.1h.1m0 .2h.1m.3 .8h.1m.3-2.7h.1m.6 .6h.1m.8 1.7h.1m.1-1.2h.1m.5 .3h.1m-9.6 1.5h.1m2.2 .7h.1m.2 .9h.1m1-1.1h.1m1.5 0h.1m0 2.2h.1m.2-1.3h.1m.5 1.2h.1m.8-2.6h.1m1 .9h.1m.6 .1h.1m1 1.6h.1m.8-1.2h.1m0 .1h.1m-8.6 2.4h.1m.5 .5h.1m.1-.3h.1m2.7-.4h.1m0 .7h.1m-1.4 2h.1m3.3 1.6h.1"/><path class="d" stroke-opacity="0.4" d="M258.1 16.3h.1m.8 .5h.1m-1.6 6.2h.1m6.1-.1h.1m.9 .7h.1m-1.5 1.1h.1m6.2 .3h.1m-6.5 2.6h.1m4.7 1.4h.1m-7 1.3h.1m.8-.3h.1m.3 2.1h.1m.3-2h.1m0 .6h.1m.1 .3h.1m2.1 1.4h.1m.5-.6h.1m0 .3h.1m1.7 .8h.1m-6.8 .2h.1m-.1 2.5h.1m.9-.6h.1m.1 .4h.1m.9-.9h.1m.9 1.2h.1m-.1-1.2h.1m.2-1.4h.1m.4 .5h.1m-.1 0h.1m.6 1.6h.1m.2-1.7h.1m1.1 2.4h.1m2.1-1h.1m-15 2.3h.1m4.9-1.2h.1m.1 2.9h.1m-.1-.2h.1m.6-1h.1m1.2 .9h.1m.1 .3h.1m0 0h.1m.2-2.3h.1m.7 2h.1m.6-2.2h.1m.8 0h.1m1.7 .6h.1m.2-.1h.1m.1 2h.1m.9-2.7h.1m0 .6h.1m1.9 .9h.1m-13.4 1.7h.1m.9 1.4h.1m1.7 .7h.1m.6-.8h.1m1.9 1h.1m.5-1.2h.1m.3-.9h.1m0 2.3h.1m.2-1.2h.1m.3 .3h.1m0 .5h.1m.9-.4h.1m.3-.2h.1m.1-.9h.1m-.1-.1h.1m0 .1h.1m-.1-.1h.1m.5-.4h.1m1.1 1.4h.1m.7-.6h.1m.4-.5h.1m-9.3 4.4h.1m-.1-1.2h.1m1.2 1.8h.1m.1 0h.1m1.6-1.6h.1m0 .1h.1m-.1 1.6h.1m0-2.2h.1m.1 1.1h.1m.5 1h.1m.8-.5h.1m0-1.1h.1m-.1 .3h.1m0-.4h.1m.2 1.7h.1m-.1-1.2h.1m.3-1.6h.1m0 2.8h.1m.1-1.5h.1m1 1.6h.1m.4-.4h.1m.4 .4h.1m.6-.2h.1m.5-1.9h.1m-10.4 4h.1m-.1 .2h.1m-.1-1.1h.1m1.1 1.3h.1m.6 .6h.1m1.6-2.8h.1m.1 2.8h.1m.1-1.1h.1m.3 .1h.1m.2 .9h.1m0-2.4h.1m.7 1.4h.1m1.2 .8h.1m2-.6h.1m.1-.1h.1m.3-.5h.1m1.5 .3h.1m-10.9 3h.1m2.2 1h.1m.1-.1h.1m0-.5h.1m-.1-.4h.1m.4 .1h.1m0-1.1h.1m-.1 1h.1m1-.1h.1m0 .5h.1m.6-1h.1m.1 1.4h.1m0-1.9h.1m0 1.3h.1m1.1-.2h.1m.4 .5h.1m.5-1.1h.1m-6.4 2.5h.1m2.1 .2h.1m.9 .9h.1m.5-1.2h.1m1.9 2.1h.1m.3-2.4h.1m-8.2 3.8h.1m1.1-.6h.1m-.1 .3h.1m1-.5h.1m.9 2.3h.1m.6-.9h.1m1.7-.5h.1m.1 1.6h.1m1 .1h.1m.5-1.9h.1m2.9 .6h.1m-12.5 1.8h.1m2.2 1h.1m3.2 .7h.1m1.1 .1h.1m.6-1.4h.1m.4 .6h.1m2.2 .8h.1"/><path class="d" stroke-opacity="0.4" d="M266.4 18.9h.1m1.6 1h.1m-5.2 2.8h.1m-2.5 2.4h.1m.4 .8h.1m1.8-1.2h.1m1.5 .2h.1m.4 1.6h.1m1.2 .2h.1m-6.4 3.2h.1m.4-.9h.1m1.9 .3h.1m1.6-.3h.1m1 0h.1m1.7-.2h.1m.4 .6h.1m-8.4 2.8h.1m1.2-.6h.1m0-.5h.1m-.1 .4h.1m1 .4h.1m1.3-.8h.1m1.7 .1h.1m.2-.2h.1m.9 .3h.1m4.5 1.5h.1m-11.5 1.9h.1m.9 .9h.1m0-1.6h.1m1.5 .4h.1m-.1 1.4h.1m.2-.1h.1m.7-1.1h.1m.1 1.3h.1m.1-2.1h.1m2.4 2.1h.1m1.2-1.8h.1m-6.6 4.5h.1m.2-.4h.1m.1-.1h.1m.7 .6h.1m.9-.9h.1m-.1-.8h.1m-.1 1h.1m.2 0h.1m.3-.9h.1m-.1-1h.1m0 1.3h.1m.9 .5h.1m.3 .3h.1m.1-1.2h.1m0 0h.1m.8 0h.1m1.4 0h.1m.2 .6h.1m-9.4 3.2h.1m.6-.1h.1m.2 .1h.1m.5-1.7h.1m.5 2.5h.1m-.1-.9h.1m.3-.9h.1m.5-.4h.1m.5 2.1h.1m-.1-1.3h.1m.1-.4h.1m.1-.5h.1m-.1 1.2h.1m.2-1.2h.1m.7 .6h.1m-.1 .3h.1m.1 1.7h.1m.4-.8h.1m2.2-.1h.1m.4-.8h.1m0-.1h.1m-9.6 3.4h.1m.5-1.3h.1m.2 2h.1m0-.2h.1m-.1-.8h.1m0 .6h.1m.4 .1h.1m1 0h.1m.6-.2h.1m.1-1.3h.1m.2 1.4h.1m.1-1.3h.1m1.1 1.4h.1m-.1-.3h.1m.1 .3h.1m-.1-.7h.1m0 .7h.1m.2-1.3h.1m-.1 1.3h.1m.3-.9h.1m.1-.3h.1m.7 .2h.1m.3 1h.1m.5-.7h.1m-.1 1.5h.1m.2-2h.1m-7.2 4h.1m.4-1.5h.1m.5 .7h.1m.5 .7h.1m-.1 .8h.1m.8-.4h.1m.1-.8h.1m.4-1.1h.1m-.1 1h.1m.2 1.6h.1m.4-.1h.1m0-1.1h.1m.2-.3h.1m.2-.4h.1m.4-.8h.1m-.1 .3h.1m.1 2.4h.1m.9-2.6h.1m.8 2.4h.1m.9-1.8h.1m-12.1 3.3h.1m5.1 .4h.1m1-1h.1m.1-.3h.1m.8 2.5h.1m3.3-1.2h.1m-8.4 3.4h.1m.4 .5h.1m.2-1.4h.1m1.6 .3h.1m.5-.7h.1m0 .1h.1m.1 1.7h.1m.3-.4h.1m.5-1.2h.1m.7 .4h.1m0 1.5h.1m1.2 0h.1m0-2.4h.1m-.1 .3h.1m.2 .8h.1m.6-.4h.1m0 1.9h.1m2.5-1.4h.1m-13.1 1.7h.1m6.1 .8h.1m.9 .7h.1m1.4-.2h.1m.6-.4h.1m.4-1h.1m-3.8 3.1h.1m3.5 .8h.1"/><path class="d" stroke-opacity="0.5" d="M259.1 29.4h.1m-.1-.5h.1m3 .3h.1m2.1 .3h.1m.8 0h.1m.1 0h.1m1.4-.7h.1m-7.2 3.4h.1m2.1 .3h.1m0-.6h.1m1.3-.2h.1m0-1h.1m.5 1.4h.1m2 0h.1m0-.3h.1m.3 0h.1m.1-.9h.1m-5.9 4.1h.1m1.2 .4h.1m.4-.8h.1m.9-.7h.1m.3 1.7h.1m.2-2.2h.1m0 0h.1m.7 2h.1m.1-2.3h.1m3.1 1h.1m.2 1.3h.1m-9.7 3.4h.1m1.9-1.3h.1m.8-1.2h.1m2.1 .7h.1m1.3 0h.1m.5 .3h.1"/><path class="d" stroke-opacity="0.5" d="M269.2 25.8h.1m-6.5 3.5h.1m.6 .4h.1m4.6-.3h.1m-8 3.5h.1m.2-1.5h.1m.7 .5h.1m1.5 .8h.1m.2-.2h.1m.4-1.2h.1m.7 .1h.1m-.1-.9h.1m0 .5h.1m-.1-.2h.1m-.1 .9h.1m.4-1.6h.1m.8 0h.1m1.2 1.5h.1m-8.2 2.8h.1m.8-.2h.1m.8 1.7h.1m.8-.4h.1m1.7-.5h.1m.4-1.5h.1m.5 .8h.1m.1-1.1h.1m1.2 1.8h.1m.4 .3h.1m.6-.5h.1m-4.2 2.9h.1m2.4-1.3h.1m2.4-.1h.1m.7 .1h.1"/><path class="d" stroke-opacity="0.5" d="M264.7 26.6h.1m1.3-2.5h.1m-4.3 3.5h.1m4.1 1.5h.1m.1 .5h.1m-4.5 3h.1m1.3-2.6h.1m1.1 1h.1m.5 0h.1m.6-.8h.1m-.1 .4h.1m.1 .9h.1m-5.3 1.9h.1m.5 2.5h.1m.4-.3h.1m.6-2.2h.1m-.1 .2h.1m.2 .3h.1m0-.7h.1m0 .8h.1m0 .7h.1m.4 .1h.1m.1-.9h.1m.7 1.8h.1m.6-.7h.1m2.5 .1h.1m1 0h.1m-7.8 1.4h.1m.2 2.2h.1m2-2.7h.1m.1 1.3h.1m1.4 .3h.1m4 .4h.1"/><path class="d" stroke-opacity="0.5" d="M263.9 39.8h.1m2.5 2.6h.1m1.5 2.3h.1m-4.2 2.9h.1m1.1 .1h.1m.8-1h.1m-.1 .1h.1m1.2-.3h.1m-8.1 3.6h.1m2.5-1h.1m1.4-.2h.1m.3 1h.1m.1-.1h.1m-.1 .8h.1m.4-1.8h.1m.4 1.4h.1m.5 .7h.1m.6-2.7h.1m.8 .4h.1m.2 1.2h.1m0-1.1h.1m-5.1 4.5h.1m1.1-.2h.1m0-1.8h.1m.3 2.6h.1m0-1.7h.1m.2-.6h.1m0 1.4h.1m.9-1.5h.1m.1 2h.1m.2-1.3h.1m.2 1.7h.1m2.2-.7h.1m1.4-1.5h.1m2.3-.6h.1m-10.7 4.1h.1m2.6 .9h.1m1.6-.7h.1m2.5-.6h.1m-2.5 4h.1"/><path class="d" stroke-opacity="0.5" d="M265.1 41h.1m-3 3.9h.1m.9 2.9h.1m.7-1.6h.1m.9 .9h.1m.1-.3h.1m1.5-1.3h.1m1.9 1.5h.1m1.8 .3h.1m-9.4 1.2h.1m1.7 .7h.1m0 .1h.1m1-.1h.1m.3-.2h.1m0-.5h.1m-.1 .1h.1m-.1-.3h.1m.1 1.6h.1m.5 .8h.1m1.7 .1h.1m-8.5 .2h.1m3.4 .7h.1m.4-.2h.1m.4 .5h.1m.5-.1h.1m.5 1.2h.1m.6 .3h.1m-.1-.8h.1m.5 1.2h.1m.1-2.7h.1m.5 .4h.1m1.1 1.3h.1m-8.2 1.7h.1m.4 .1h.1m1.6 2.2h.1m2.6-1h.1m.4-.7h.1m1.1-1h.1m-7.3 4.1h.1m6 0h.1"/><path class="d" stroke-opacity="0.5" d="M260 41.6h.1m3.6-1h.1m.7 1.1h.1m-2.4 .8h.1m1.7 2.4h.1m.8-1.3h.1m-2.8 2.3h.1m1.4 1.7h.1m1.6-1.6h.1m.3 1.1h.1m3.2-.8h.1m-8.8 1.8h.1m.1 2.1h.1m.4 .6h.1m1.7-2.2h.1m.1-.2h.1m.6 .4h.1m.1-.8h.1m.4 .1h.1m.4 .8h.1m1.1 .7h.1m.7-.7h.1m.2 .7h.1m1-1h.1m-7.7 5.1h.1m2.3-1.6h.1m2.9 .9h.1m-.1-.8h.1m1.2 .8h.1m-7.6 1.4h.1m-.1 1.8h.1m1.8-.9h.1m2.2 1.2h.1m1.1-.5h.1m.2 0h.1m.2-1.4h.1m.2-.3h.1m3.3 .5h.1m-1.9 2.5h.1"/><path class="d" stroke-opacity="0.3" d="M242.2 19.8h.1m5 .2h.1m-7.9 3.5h.1m.3-2.1h.1m.9 2h.1m.6 .1h.1m.3 .1h.1m5.5 0h.1m.4 .2h.1m2.3 0h.1m.4-.4h.1m.8-.1h.1m2.8 .1h.1m.2-.6h.1m.4-1.6h.1m-17.8 3.6h.1m1.1-.3h.1m3.1-.4h.1m.7 1.3h.1m14.1-.9h.1"/><path class="d" stroke-opacity="0.3" d="M236.6 20.8h.1m2.5-1.1h.1m-.8 1.8h.1m2.2 2.1h.1m.2-.2h.1m.2-1h.1m1.8 0h.1m1.1 .5h.1m.7 .2h.1m.5-.7h.1m2.5 .2h.1m.9 .5h.1m.2-1.5h.1m2.3 1.4h.1m4.3-.5h.1m-19.6 1.7h.1m13.2 .7h.1m.7 .1h.1m1-.7h.1m2 .2h.1"/><path class="d" stroke-opacity="0.3" d="M241.2 19.8h.1m-3.6 1.5h.1m1.4 2.2h.1m1.6-.7h.1m2.1 .6h.1m1.4-1.9h.1m1.1 1.8h.1m.4-.3h.1m2.9-.6h.1m4.6 .9h.1m.7-.6h.1m0 .5h.1m-17.3 2.1h.1m14.7 .3h.1m.4-.2h.1m.7-.4h.1m.9 .3h.1m2.7-1.2h.1m0 1.4h.1m0-1.2h.1"/><path class="d" stroke-opacity="0.15" d="M241.1 43.4h.1m2.7 1.2h.1m2.9 2.2h.1m-9.8 3.4h.1m7.8-1.2h.1m-.1 2.5h.1m3.9 3h.1m-7.8 3.3h.1m.8 0h.1"/><path class="d" stroke-opacity="0.15" d="M238.5 41.2h.1m3.4 2.8h.1m5.1-1.2h.1m-.6 3.4h.1m-5.3 6h.1m7.4-.7h.1m-12 4.9h.1m-.1-.6h.1m9.3-.8h.1"/><path class="d" stroke-opacity="0.15" d="M240.5 43.1h.1m9.4 4.3h.1m-5.5 3.4h.1m.9-.3h.1m1.7 3h.1m1.8-1.7h.1m-12.2 2.6h.1m.7 1.5h.1"/><path class="d" stroke-opacity="0.15" d="M273.3 28.6h.1m-28.6 13.3h.1m37.5 1.6h.1m-25 6.6h.1m-14.6 3.6h.1m33.5-.8h.1m-26.1 1.3h.1m9.3 .5h.1m.8 2.5h.1"/><path class="d" stroke-opacity="0.15" d="M238.9 31.4h.1m3-1h.1m24 .1h.1m-23.7 6.9h.1m30.8-.9h.1m7.2 2.4h.1m-11.9 8.6h.1m-21.7 7.7h.1m34.4-.9h.1"/><path class="d" stroke-opacity="0.15" d="M257.4 31.4h.1m2.9 13.1h.1m8.5 .4h.1m-1.6 3.7h.1m7.6 1.3h.1m-16.1 3.5h.1m19.4-.6h.1m-.8 1.2h.1"/></g><rect x="234.5" y="12.3" width="50.80000000000001" height="47.7" fill="none" stroke="#555" stroke-width=".8"/><path d="M249.6 12.3V60M234.5 45.35H285.3" stroke="#444" stroke-width=".8" fill="none"/><path d="M235.0 28.3H285.3" stroke="#222" stroke-width="1.1" stroke-dasharray="2.2 1.8" fill="none"/><text x="284.2" y="18" font-size="6.3" font-weight="bold" text-anchor="end" fill="#000">3</text><text x="284.2" y="34.6" font-size="6.3" font-weight="bold" text-anchor="end" fill="#000">51</text><text x="284.2" y="57.6" font-size="6.3" font-weight="bold" text-anchor="end" fill="#000">45</text><text x="234.5" y="64.6" font-size="4.2" fill="#666" text-anchor="middle" transform="rotate(-30 234.5 63.5)">10</text><text x="247.2" y="64.6" font-size="4.2" fill="#666" text-anchor="middle" transform="rotate(-30 247.2 63.5)">10</text><text x="259.9" y="64.6" font-size="4.2" fill="#666" text-anchor="middle" transform="rotate(-30 259.9 63.5)">10</text><text x="272.6" y="64.6" font-size="4.2" fill="#666" text-anchor="middle" transform="rotate(-30 272.6 63.5)">10</text><text x="285.3" y="64.6" font-size="4.2" fill="#666" text-anchor="middle" transform="rotate(-30 285.3 63.5)">10</text><text x="231.9" y="60" font-size="4.2" fill="#666" text-anchor="middle" transform="rotate(-90 231.9 60)">10</text><text x="231.9" y="48.1" font-size="4.2" fill="#666" text-anchor="middle" transform="rotate(-90 231.9 48.1)">10</text><text x="231.9" y="36.1" font-size="4.2" fill="#666" text-anchor="middle" transform="rotate(-90 231.9 36.1)">10</text><text x="231.9" y="24.2" font-size="4.2" fill="#666" text-anchor="middle" transform="rotate(-90 231.9 24.2)">10</text><text x="231.9" y="12.3" font-size="4.2" fill="#666" text-anchor="middle" transform="rotate(-90 231.9 12.3)">10</text><clipPath id="k5"><rect x="31" y="79.2" width="50.599999999999994" height="47.599999999999994"/></clipPath><g clip-path="url(#k5)"><path class="d" stroke-opacity="0.5" d="M47.5 86.8h.1m3.7-.6h.1m.2 .6h.1m-19 1.8h.1m.8 .2h.1m.3 .7h.1m0-.3h.1m.1 .2h.1m0-.5h.1m.5-1.4h.1m0 2.2h.1m.5-.2h.1m0-1.3h.1m-.1 1.2h.1m.3 .4h.1m0-1h.1m-.1 .4h.1m.4 .3h.1m.2-.1h.1m.3-1.3h.1m.3 .1h.1m1.2 .7h.1m.2-1h.1m.2 1.7h.1m.1-.9h.1m.1 .7h.1m.4-.1h.1m.3 .5h.1m.2-.6h.1m.9-.5h.1m.3-.9h.1m0 1.3h.1m.3-.7h.1m.8 .6h.1m.6-1.1h.1m.5 2h.1m.1-1.7h.1m.5 1.6h.1m0-.1h.1m0-1.5h.1m.1 1.3h.1m.3 .4h.1m-.1-.5h.1m.1 .1h.1m.7-.6h.1m.1 .2h.1m.3 0h.1m.4-.2h.1m0 1h.1m1.8-.6h.1m.3-.3h.1m.2 0h.1m-.1 .8h.1m.2-2h.1m0 .8h.1m.3 1.2h.1m1.7-.1h.1m2.8-.6h.1m.6 .6h.1m-26 2h.1m.5-.8h.1m1.5-.3h.1m0-.6h.1m.2 .2h.1m-.1 1.5h.1m0-1.3h.1m0 1.1h.1m0-1h.1m.2 .1h.1m.1-.3h.1m.3 .8h.1m.1-.2h.1m0 .6h.1m0 .7h.1m.3-1.1h.1m0-.1h.1m1.1-.4h.1m.4-.4h.1m.6 2.5h.1m.6-2.2h.1m.3-.1h.1m.8 0h.1m.1 2.3h.1m.9-2h.1m0 1h.1m.1-1.1h.1m0 .9h.1m.1 .3h.1m.2 0h.1m2.2-.2h.1m0-1.1h.1m.1-.2h.1m.4 1.4h.1m.4-.3h.1m.4 .5h.1m0-.3h.1m1.2-1.6h.1m-.1 .5h.1m.1-.1h.1m-.1 .6h.1m.5-.1h.1m.5-.8h.1m0 0h.1m.2 .5h.1m.2-.2h.1m.3 2.1h.1m-.1-1.1h.1m-.1-1h.1m1 .4h.1m1.3-.2h.1m.5 .5h.1m.4-.3h.1m0-.4h.1m.5-.2h.1m0 2h.1m.1 .3h.1m0-2.2h.1m0 .1h.1m.2 0h.1m.3 2h.1m.3-.5h.1m1-1.6h.1m.2 .5h.1m-25.5 3h.1m8.5-.4h.1m0 .7h.1m13.4-.8h.1"/><path class="d" stroke-opacity="0.5" d="M45.8 86.8h.1m-13.1 2.8h.1m1.3 .1h.1m.4-2h.1m1.3-.5h.1m0 .7h.1m.1 1.6h.1m.2-.6h.1m-.1 .7h.1m-.1-.1h.1m.5 0h.1m.6 .2h.1m.5 0h.1m.1-2.4h.1m.3 1.8h.1m0-1h.1m.4 1.8h.1m.5-.8h.1m-.1-1.7h.1m.1 1.9h.1m1-1.3h.1m.9 1.8h.1m.3-2.3h.1m.1 2.4h.1m2.2-.7h.1m.2-2h.1m.7 1.6h.1m.8 .9h.1m.3 .2h.1m.2-.9h.1m.4-.3h.1m.3-.4h.1m.4 1h.1m1.4 .6h.1m-.1-1.7h.1m.2 1.5h.1m.4-.4h.1m.9-.8h.1m.6-.1h.1m.2-.9h.1m1.1 2.2h.1m.3-1.2h.1m.7 1.1h.1m.4-1.1h.1m1.3 .8h.1m.5 .3h.1m-25.5 .8h.1m.5 .2h.1m-.1-.4h.1m-.1 2.6h.1m0-2h.1m.3 1.5h.1m1-2.2h.1m.1 .9h.1m0 .4h.1m.1 .4h.1m0-.1h.1m-.1-1.2h.1m.7 .2h.1m.6 .6h.1m-.1-1h.1m.2 1.4h.1m.6-.6h.1m.5 1.1h.1m-.1-.4h.1m0-1h.1m-.1 .6h.1m.5 .6h.1m.1-1.2h.1m0 .4h.1m1.6-.1h.1m-.1-.7h.1m0-.4h.1m.2 2.4h.1m0-.2h.1m1-.1h.1m.1 0h.1m-.1-2h.1m.2 .6h.1m0 0h.1m.2 1.8h.1m0-.7h.1m0-1.6h.1m1.5 .9h.1m0-.1h.1m.3 0h.1m.1-.2h.1m0-.5h.1m0 2.4h.1m0-2.1h.1m.3 0h.1m.3 1.4h.1m0-.9h.1m0-.3h.1m-.1 1h.1m.6-.2h.1m-.1-.4h.1m.6-.7h.1m.4-.3h.1m.3-.2h.1m.3 1.6h.1m1-.6h.1m-.1 .3h.1m.2-1.3h.1m.2 1.2h.1m.2-.7h.1m1 .4h.1m0-.4h.1m.1-.3h.1m.2 .2h.1m.3 .3h.1m.7 .1h.1m-.1 1.7h.1m.2 .1h.1m.2-2.5h.1m0 .9h.1m.2 1.3h.1m0-1.8h.1m0 1.2h.1m1.1-.7h.1m.3 .3h.1m.2-.7h.1m-19.4 3.6h.1m7.7-1.2h.1m2.2 0h.1m3.8 .2h.1m3.5 .2h.1"/><path class="d" stroke-opacity="0.5" d="M33.5 89.1h.1m.8 .1h.1m.3-.7h.1m1.4 .3h.1m.3 .9h.1m.3-.5h.1m-.1-.5h.1m.4 .9h.1m.1 .2h.1m0-.3h.1m.5 0h.1m.1-.6h.1m.3-1.2h.1m.2 .5h.1m-.1 .1h.1m0 .6h.1m.6-.1h.1m.1 .2h.1m0 .3h.1m.2-.9h.1m.1 .3h.1m.1 .8h.1m.1-.4h.1m0 .5h.1m.5-1.1h.1m.2-1.4h.1m.3 2.2h.1m0 .5h.1m.6-.5h.1m1 .6h.1m0-.7h.1m.2-1.5h.1m1 1.8h.1m.1 .4h.1m.9-1.4h.1m-.1 .2h.1m.2 .8h.1m-.1-.9h.1m0 .2h.1m0 1h.1m.9-.4h.1m.6-.3h.1m.4 .8h.1m0-.4h.1m.1-.1h.1m1-.6h.1m.2 1.1h.1m.6-.1h.1m.1-2.7h.1m.3 1.9h.1m.8-1.2h.1m.1 1.9h.1m.4-2.1h.1m.4 2.2h.1m1.4-.3h.1m.3-2.2h.1m.5 1.7h.1m.4-1.3h.1m-25.6 4.2h.1m1.1-1.7h.1m.7-.2h.1m0 1.4h.1m.2 .2h.1m1.5-.6h.1m.3 .1h.1m.4-.4h.1m.4-.5h.1m-.1 1.4h.1m.2 .3h.1m0 .8h.1m.3-1.8h.1m0 .9h.1m.2-1.3h.1m.5-.5h.1m.1 .7h.1m.4 1h.1m2.5-.4h.1m.7-.9h.1m.1 .5h.1m.2 1.4h.1m.4-.1h.1m.3-2h.1m.3 .3h.1m.1 1.9h.1m.1 .5h.1m0-2.3h.1m0-.3h.1m.2-.2h.1m0 .1h.1m.2 .9h.1m-.1 1.8h.1m-.1-.6h.1m-.1-2.3h.1m.7 .6h.1m0-.2h.1m.3 .3h.1m0 .3h.1m-.1-.3h.1m0-.6h.1m.2 1.3h.1m.1 .3h.1m-.1-.9h.1m.3-.3h.1m.1 1.3h.1m.7-.4h.1m.1 .7h.1m.1 .5h.1m0-2.5h.1m1 .3h.1m.8 1.5h.1m.2-1.7h.1m0 1.9h.1m.4-1.4h.1m.1 1.5h.1m.3-.6h.1m.3-.9h.1m.1-.2h.1m.8-.2h.1m.2 .6h.1m1.4-.1h.1m-19.6 2.9h.1m11.5-.5h.1m2.1-.1h.1m.7 .7h.1m.5-.4h.1m3.9 .4h.1"/><path class="d" stroke-opacity="0.5" d="M55.1 88.1h.1m1.7 1.2h.1m-.5 2.2h.1m1.3 1.3h.1m.8-.4h.1m.3-1.7h.1m-.1 .9h.1m0-1.3h.1m-.1 1.1h.1m.4 1.4h.1m0-2.3h.1m.6 .7h.1m0 1.4h.1m1.1-.2h.1m1.8-.8h.1m-5.6 3.5h.1m.3-1.3h.1m2.8-.7h.1m.6 1.6h.1m.2 .2h.1m0-.7h.1m-.1 1h.1m0-1.6h.1m3.2 0h.1m.7 1.9h.1m.8-.2h.1m.2-.1h.1m.5 .2h.1m2 .2h.1m-6.7 1h.1m.3-.4h.1m.6 1.4h.1m.2-.6h.1m0 .8h.1m.2-.7h.1m.1-1.1h.1m1.6 0h.1m.4 1h.1m0-.3h.1m.1 .4h.1m1.8-.5h.1m.3 1.6h.1m-4.6 1h.1m2.5-.2h.1"/><path class="d" stroke-opacity="0.5" d="M57 89.3h.1m-1.7 .9h.1m1.3 .9h.1m1.1 .7h.1m.4-.2h.1m.3 1h.1m1.1-2.6h.1m0 2.4h.1m.5-.1h.1m.4-.4h.1m.2 .2h.1m.6 0h.1m-.1 .1h.1m.1 .5h.1m0-1.4h.1m1.5 1.6h.1m-5.2 1.8h.1m.5 1.1h.1m.4-2.8h.1m1.1 1h.1m.2-.6h.1m3 1.7h.1m.9-.1h.1m.8 .6h.1m0-.6h.1m.9-.9h.1m.5 1.6h.1m1.6-.1h.1m.8-2h.1m-6.8 3.6h.1m1.6 1h.1m.1-.2h.1m0-.4h.1m.8 .6h.1m.3-.1h.1m.7-.7h.1m1.9-1.1h.1m.1 2h.1m.2-2h.1m.1 2.1h.1m.3 .3h.1m-1.2 1h.1m.6 2h.1"/><path class="d" stroke-opacity="0.5" d="M58.3 88.3h.1m-1.9 2.4h.1m.5 .2h.1m.4 .6h.1m.1-.8h.1m.3 .8h.1m.6 1.1h.1m.4-.9h.1m.4 1h.1m.7-.9h.1m3.3 .9h.1m-7.6 .7h.1m3.9 0h.1m-.1 0h.1m.8-.3h.1m0 1.5h.1m0 .7h.1m0-.7h.1m-.1-.7h.1m1.5 1.3h.1m0-1.4h.1m.4-.3h.1m0 .6h.1m0-.5h.1m-.1 .8h.1m.3 .4h.1m0-.7h.1m.4 1.5h.1m2.5 .3h.1m.1-1.8h.1m.9 1.5h.1m-8.4 .5h.1m1.9 .6h.1m1 1.4h.1m3-.8h.1m.4-.1h.1m-.1 .1h.1m1.6-.4h.1m0 1.4h.1m.6-.6h.1m-2.8 1.5h.1m2.9 1.7h.1m-.1 0h.1"/><path class="d" stroke-opacity="0.15" d="M54.1 94.4h.1m9.5 .6h.1m-19.4 1.3h.1m18.9 2.5h.1m2.5-1.6h.1m-22 2.1h.1m2.4-.3h.1m2.1 .3h.1m7.6 1h.1m.1 .8h.1m14.7-1.7h.1m-28.6 3.2h.1m8.2 0h.1m.4 .9h.1m8.1 1.3h.1m10-.8h.1m-34.1 1.7h.1m5.2 .9h.1m.4 .1h.1m7.2-1.1h.1m-.1 .2h.1m4.7-.4h.1m5 1.8h.1m.1-.6h.1m-21.4 1.4h.1m1.5 1h.1m17.7 .6h.1m.3-1.2h.1m2.2 .7h.1m1 .1h.1m10.5 .3h.1"/><path class="d" stroke-opacity="0.15" d="M44.3 95.8h.1m17-1h.1m-10.5 2.9h.1m1.9-1.4h.1m1.4 .5h.1m.1 0h.1m15.3-.8h.1m-26.3 4.6h.1m5.8 1.3h.1m1.2-.5h.1m4.4-1.2h.1m7.1 .1h.1m6.9 .7h.1m-21.8 3.5h.1m.8 .3h.1m11.4-2.7h.1m5.7 .5h.1m0 .5h.1m-27.8 4.5h.1m6.5-2.1h.1m-.1 1.8h.1m1.3-1.8h.1m1.7 1.4h.1m.1-1.1h.1m1.7 1.5h.1m4-1.2h.1m9.5 1.4h.1m.5-.5h.1m1.2 1.3h.1m3.5-.1h.1"/><path class="d" stroke-opacity="0.15" d="M39.2 94.4h.1m24.6 1.3h.1m-28.2 1.3h.1m8.5 .4h.1m2.5 1.4h.1m.4-2h.1m3 1.3h.1m1.1 0h.1m10.1 .7h.1m-26.1 .8h.1m.9 .4h.1m1.5-.8h.1m22.9 .8h.1m3.7 .7h.1m-15.4 4h.1m.6-2.4h.1m2.8 .2h.1m.4 1.9h.1m.2-.1h.1m1-2.3h.1m4 2.2h.1m4.9-.3h.1m4.3 0h.1m-30.1 2.8h.1m6.9 .9h.1m5.9-1.3h.1m7.7-1h.1m5.7 .5h.1m-26.7 2.9h.1m19.5 .5h.1"/><path class="d" stroke-opacity="0.3" d="M68.9 95.3h.1m-19.1 3.6h.1m10.9-.2h.1m2.1-.5h.1m3.3-.4h.1m-6.9 2.5h.1m7.3-1h.1m-10.7 3.3h.1m1.8 .6h.1m.2-.3h.1m1.9 1.7h.1m1-.4h.1m3.9 .1h.1m.3-.8h.1m-8.8 3.9h.1m9.3-1.3h.1m.6 0h.1m-15 2.6h.1m10.3-.1h.1m.3 1.3h.1m1.5-1.7h.1m1.7 2.3h.1m-8 2.6h.1m5.1-1.5h.1"/><path class="d" stroke-opacity="0.3" d="M61.7 97.8h.1m2.8 0h.1m9.2 0h.1m-16.5 3.1h.1m6.6-1h.1m3.2-.1h.1m-10.2 2.6h.1m3.6 .7h.1m2.9 1h.1m2-1.4h.1m.5 .8h.1m.5-.7h.1m3.1 1.7h.1m-15.7 2.4h.1m.3-.2h.1m6.3-.4h.1m.9 0h.1m4.2 1.2h.1m-6.4 1.6h.1m3-1h.1m4.5 0h.1m-10.2 3.5h.1m2.1 3.9h.1"/><path class="d" stroke-opacity="0.3" d="M67.5 94.9h.1m-4.3 2h.1m5.4-.7h.1m-18 4.3h.1m.2-.4h.1m1.9-.4h.1m2.6 2.1h.1m0-2.7h.1m3.6 2.3h.1m5.2-2.4h.1m-15.3 5.5h.1m14.9-1.4h.1m.7-1.1h.1m-11.8 5.2h.1m6.8-1h.1m4 .3h.1m4.1 .3h.1m3.3-.8h.1m-13.5 2.2h.1m1.5 0h.1m2.2 3.5h.1m1.3 .7h.1m2.6 1.2h.1"/><path class="d" stroke-opacity="0.15" d="M52.6 113.6h.1m-11 1.3h.1m32 1.6h.1m-6.5 3.1h.1m-18.5 2.7h.1m5.7-.1h.1m4.9 .6h.1m9.9 1.3h.1"/><path class="d" stroke-opacity="0.15" d="M41.9 113.3h.1m19.2 2.9h.1m2.5-1h.1m3.4 3.2h.1m2.2 .2h.1m-11.1 1.9h.1m1.1 1.6h.1m5.7 1.6h.1"/><path class="d" stroke-opacity="0.15" d="M53.9 113.7h.1m-13.3 3.8h.1m4.9 1.3h.1m7.2-.8h.1m-.3 4.9h.1m11.1-1.1h.1m-19.2 1.5h.1"/></g><rect x="31" y="79.2" width="50.599999999999994" height="47.599999999999994" fill="none" stroke="#555" stroke-width=".8"/><path d="M45.6 79.2V126.8M31 112.3H81.6" stroke="#444" stroke-width=".8" fill="none"/><path d="M31.5 94H81.6" stroke="#222" stroke-width="1.1" stroke-dasharray="2.2 1.8" fill="none"/><text x="80.5" y="84.8" font-size="6.3" font-weight="bold" text-anchor="end" fill="#000">68</text><text x="80.5" y="100.7" font-size="6.3" font-weight="bold" text-anchor="end" fill="#000">29</text><text x="80.5" y="123.5" font-size="6.3" font-weight="bold" text-anchor="end" fill="#000">3</text><text x="31" y="131.4" font-size="4.2" fill="#666" text-anchor="middle" transform="rotate(-30 31 130.3)">10</text><text x="43.6" y="131.4" font-size="4.2" fill="#666" text-anchor="middle" transform="rotate(-30 43.6 130.3)">10</text><text x="56.3" y="131.4" font-size="4.2" fill="#666" text-anchor="middle" transform="rotate(-30 56.3 130.3)">10</text><text x="68.9" y="131.4" font-size="4.2" fill="#666" text-anchor="middle" transform="rotate(-30 68.9 130.3)">10</text><text x="81.6" y="131.4" font-size="4.2" fill="#666" text-anchor="middle" transform="rotate(-30 81.6 130.3)">10</text><text x="28.4" y="126.8" font-size="4.2" fill="#666" text-anchor="middle" transform="rotate(-90 28.4 126.8)">10</text><text x="28.4" y="114.9" font-size="4.2" fill="#666" text-anchor="middle" transform="rotate(-90 28.4 114.9)">10</text><text x="28.4" y="103" font-size="4.2" fill="#666" text-anchor="middle" transform="rotate(-90 28.4 103)">10</text><text x="28.4" y="91.1" font-size="4.2" fill="#666" text-anchor="middle" transform="rotate(-90 28.4 91.1)">10</text><text x="28.4" y="79.2" font-size="4.2" fill="#666" text-anchor="middle" transform="rotate(-90 28.4 79.2)">10</text><clipPath id="k6"><rect x="98.8" y="79.2" width="50.39999999999999" height="47.599999999999994"/></clipPath><g clip-path="url(#k6)"><path class="d" stroke-opacity="0.7" d="M132.8 87.3h.1m-4.2 5h.1m.4-1h.1m.8 .6h.1m1.2 .4h.1m.5-.8h.1m-6.4 3.2h.1m1.4-.8h.1m.3 1.3h.1m.3-.5h.1m.2 1h.1m2.8-.3h.1m.2-2.1h.1m-.1 2.2h.1m.2-1.7h.1m.7 1.2h.1m.6 .8h.1m-8.9 3h.1m2.7-1.2h.1m.3-.7h.1m0 .4h.1m.1 1.5h.1m0-.6h.1m1 .5h.1m0-.4h.1m.1-1.8h.1m0-.4h.1m0 1.8h.1m-.1-.2h.1m.4 .3h.1m.1 0h.1m0-1.4h.1m-.1 1.3h.1m.2 .4h.1m0-.8h.1m.4 1.1h.1m0-1.1h.1m.2-1.1h.1m.4 1.5h.1m.2 .4h.1m.7 .1h.1m0 .1h.1m0 .1h.1m-10 3.2h.1m2.2-1.3h.1m-.1-.4h.1m.1 1.1h.1m.1-1h.1m-.1-1.1h.1m.7 1h.1m.1 1.2h.1m0 .4h.1m0-2.6h.1m-.1 1h.1m.2 .9h.1m.5-.3h.1m0 0h.1m.8-1.3h.1m.2 2h.1m0-2.3h.1m0 1.9h.1m.2-.3h.1m0-.1h.1m-.1-.3h.1m.1-1.2h.1m-.1 1.9h.1m.1-.9h.1m.2 .8h.1m0-.7h.1m.2-.1h.1m.2-.6h.1m-.1 .4h.1m.3 .3h.1m-.1-.2h.1m-.1 0h.1m.3-.9h.1m0 1.5h.1m-.1-.5h.1m.1 1.3h.1m.1 .1h.1m.4-2.4h.1m.8 2.6h.1m.8-2.4h.1m-10.1 3.6h.1m.2 1h.1m.2-1.7h.1m.6 1.3h.1m.4-1.1h.1m0 1h.1m-.1-1.3h.1m.7 0h.1m.2 1.4h.1m-.1-.1h.1m0-1.4h.1m0 1.6h.1m0 .2h.1m0-1.7h.1m.5 1.2h.1m0 1.2h.1m.3-1.5h.1m.4-.6h.1m.4 2.3h.1m.4-.5h.1m.1-1h.1m0-.5h.1m.2 .3h.1m-.1-.9h.1m.2 1.6h.1m.2-.5h.1m0 .1h.1m.3 1.1h.1m.6-1h.1m0 0h.1m.3 .5h.1m.9-.4h.1m.8-.9h.1m-8.4 2.7h.1m1.1 1.8h.1m.5-.7h.1m2.4 .8h.1m0-.3h.1m.7-1.2h.1m1.2 2h.1m.6-.7h.1m.3-.1h.1m.1 3.6h.1m-11.7 1.1h.1"/><path class="d" stroke-opacity="0.7" d="M129.7 86h.1m-1.2 4h.1m3 1.3h.1m1.2 1.4h.1m-7.8 2.9h.1m2.5-1.3h.1m1.3 .8h.1m.6-.6h.1m.5 .7h.1m.2-.4h.1m1.2 .8h.1m.1-1.3h.1m.3 .3h.1m.6 0h.1m.7 .6h.1m-8.2 3.4h.1m.3-.9h.1m0-1.2h.1m-.1 .3h.1m2.2 2.1h.1m0-2.6h.1m.2 1.3h.1m.1-.8h.1m1.1 .1h.1m0 .3h.1m0 1.5h.1m.5-1.5h.1m0 1h.1m-.1 .2h.1m-.1-2.3h.1m.3 2.1h.1m.4-1.6h.1m.7 2.3h.1m.2-2.2h.1m-.1 .3h.1m0 .4h.1m.4-1.3h.1m-10.6 4.5h.1m3.3-.1h.1m0 .9h.1m.2-1.8h.1m-.1 .5h.1m.3 1.8h.1m0-2.9h.1m0 .9h.1m.5 1.6h.1m-.1-2.1h.1m.1 .8h.1m-.1 1.2h.1m.3-2.4h.1m-.1 1.9h.1m.2 .8h.1m-.1-.7h.1m.1-1.1h.1m-.1-.4h.1m-.1 1.6h.1m-.1-2.1h.1m.2 .5h.1m-.1 2.4h.1m0-2.1h.1m0-.6h.1m0 .1h.1m0 1.5h.1m.1 1h.1m0-1.2h.1m0 1.1h.1m.2-1.2h.1m0 .9h.1m-.1-1.5h.1m0-.7h.1m0 1.1h.1m-.1-.8h.1m0 1.5h.1m0-1.8h.1m.2 1.4h.1m-.1-1h.1m.2-.4h.1m.2 .8h.1m.4-.1h.1m0 0h.1m-.1 .9h.1m.2 .6h.1m-.1-1.8h.1m.5-.3h.1m.5 .9h.1m.3-.7h.1m-8.3 4h.1m1.1 0h.1m.1 1.1h.1m.8-.6h.1m0 .8h.1m0-2.8h.1m.2 2.9h.1m-.1-1.2h.1m.3-1h.1m.1 2h.1m0-2h.1m.1 1.1h.1m.4 .3h.1m-.1 0h.1m.4-.6h.1m-.1 .2h.1m-.1 .6h.1m-.1 .6h.1m.1-2.3h.1m0 1.5h.1m-.1-.3h.1m.4-.6h.1m-.1-.3h.1m0-.4h.1m.6 1.1h.1m.1-1.1h.1m.1 1.6h.1m.2 .1h.1m.8-1.4h.1m.5 1.5h.1m-6.8 1.4h.1m1.1-.4h.1m.3 1.5h.1m.2 .3h.1m.1-1.6h.1m1.3 .6h.1m.9 .4h.1m1 .7h.1m1.7-.4h.1m-7 2.7h.1m.2-1h.1"/><path class="d" stroke-opacity="0.7" d="M128.9 88.6h.1m5.3 .4h.1m-6.1 3.9h.1m1.6-1.1h.1m.2 1.1h.1m2.3-1h.1m.4 .3h.1m2.1 .3h.1m-10.4 1.9h.1m2.3 1.2h.1m.4-.9h.1m.4-.1h.1m0 .4h.1m1.9-.8h.1m.9-.1h.1m1.3 1.4h.1m.4 .2h.1m0-.9h.1m3 .7h.1m-12.6 1.2h.1m2.4-.2h.1m.4 1.3h.1m.2 .3h.1m.8-2h.1m0 1.8h.1m.2 0h.1m.4 .3h.1m.1-.4h.1m-.1-.3h.1m0 .8h.1m.3-2.2h.1m-.1 2.5h.1m.2-.4h.1m-.1-2.2h.1m-.1 0h.1m0 .8h.1m.1 .2h.1m.2 1.8h.1m.1-.8h.1m.1 .4h.1m-.1-1.3h.1m.1 1.7h.1m.1-1.6h.1m-.1-.7h.1m.2 1h.1m.2 .3h.1m.1-1.6h.1m0 .2h.1m.1 2.5h.1m.1-.4h.1m0-.4h.1m0 .7h.1m.2-.8h.1m.1 .7h.1m.3-.7h.1m.6 .1h.1m0-.3h.1m1-.3h.1m1.7-.5h.1m-12.1 2.3h.1m.3 .6h.1m.5-.4h.1m.2 1.8h.1m.2-.1h.1m0-.6h.1m.3-1.5h.1m0 2.5h.1m-.1-.6h.1m-.1-1.6h.1m.3-.2h.1m-.1 1.4h.1m.3-.7h.1m.1-.1h.1m-.1 1.4h.1m0-.8h.1m-.1 1h.1m.3-1h.1m.7 1.4h.1m-.1 0h.1m0-2.7h.1m.1 1.2h.1m0-1.1h.1m-.1 2h.1m-.1 .6h.1m.1-1.8h.1m0 .1h.1m.1 1h.1m-.1-1.9h.1m-.1 .9h.1m.2-.9h.1m.7 1.9h.1m0 .1h.1m0-.4h.1m0-.9h.1m.9-.6h.1m.1 .2h.1m.1-.1h.1m1.7 1.8h.1m.4-2h.1m-14.4 4.3h.1m5.9-.6h.1m0-.3h.1m.9 1.5h.1m.1-2h.1m.2 1h.1m0 1.4h.1m.1-2.2h.1m.2 2.5h.1m.1-.1h.1m0-1.7h.1m1.9 .3h.1m.4 .3h.1m1.1 .1h.1m1.2-1.1h.1m-8.8 3.2h.1m.1 1.5h.1m0-1.6h.1m1.1 .4h.1m.7 .3h.1m.1 .5h.1m.1-.2h.1m.7 .5h.1m.6-.9h.1m0 1.1h.1m1.1-1.7h.1m-1.6 2.5h.1"/><path class="d" stroke-opacity="0.5" d="M128 103.5h.1m.6-.8h.1m.2 .2h.1m0-.5h.1m.5 2h.1m.4 .5h.1m.3-.5h.1m1.1-1.4h.1m3.2 1.5h.1m-7.4 .8h.1m.9 1.4h.1m1.3 .6h.1m0 .4h.1m.1-2h.1m1.1 1.7h.1m.3-2.1h.1m.4 2.3h.1m2.3-1.9h.1m.1 1.3h.1m-8.1 3.6h.1m1.1-.5h.1m.7 .3h.1m.2 .2h.1m.3-1.3h.1m.9-1.2h.1m.8 .9h.1m.1 1.6h.1m.1-.5h.1m.1-2.1h.1m.2 2.3h.1m.3-1.6h.1m-4.7 3.9h.1m.4-1.4h.1m.9 1.5h.1m.5-1.1h.1m.6 1h.1m.2-1.2h.1m.2 2.2h.1m-.1-1.4h.1m.3 .7h.1m-.1 0h.1m0 .2h.1m.2-1.3h.1m.1 .8h.1m-.1 1.1h.1m.1-2.4h.1m2.3 1.4h.1m-9.6 3h.1m2.8 .8h.1m.6-.3h.1m.3-.3h.1m.5-.7h.1m2-.9h.1m.7-.1h.1m1.9 2.4h.1m-7.4 1.8h.1m1.9-1.4h.1m.3 1.5h.1m.9-.3h.1m.1 .1h.1m2.6-1.1h.1m-7.1 3.7h.1m5.2 1.5h.1m.3-.9h.1m-3.8 2h.1m4.3 1.3h.1"/><path class="d" stroke-opacity="0.5" d="M128.2 99.7h.1m3.2 1.9h.1m-.1-2.2h.1m1.3 2.4h.1m-7.8 .2h.1m2.7 2.1h.1m.8 0h.1m.6-1.1h.1m1.8 .4h.1m2.3-.3h.1m.2 .2h.1m1-.7h.1m-11.3 3.6h.1m3.2 .7h.1m1.2-1.5h.1m.8 1.3h.1m.6 .9h.1m.1-2.5h.1m.5 .1h.1m.7 1.2h.1m2.4-.5h.1m-6.8 5h.1m1.4-1.8h.1m.1 1.4h.1m1-2.2h.1m.1 .8h.1m0 .4h.1m1.1 1.1h.1m0-2.4h.1m.9 1.9h.1m.2 .8h.1m-7.2 .7h.1m1.2-.2h.1m-.1 2.5h.1m.7-2.3h.1m1.2 .9h.1m.6-.6h.1m.3 .4h.1m.1 1.1h.1m.1-1.6h.1m0 1.5h.1m.4 .3h.1m.4 .1h.1m.2-.5h.1m-.1-1.4h.1m0 .4h.1m0 1.5h.1m3.6-.8h.1m-11.1 1.8h.1m3.2 1.8h.1m.5-1.3h.1m0-.5h.1m.5 .2h.1m1 1.7h.1m1.3-1.5h.1m1.4 .8h.1m-4.3 3.4h.1m0-2h.1m0 1.2h.1m.1-.6h.1m.8 1.2h.1m0 .3h.1m1-.5h.1m.7-1.6h.1m-2.8 2.8h.1m1 2.2h.1"/><path class="d" stroke-opacity="0.5" d="M127.3 100.8h.1m.6-.2h.1m1.6-.5h.1m1-1.1h.1m1.9 4.3h.1m-3.5 3.7h.1m2.3-1.3h.1m.7 1.7h.1m.4 .5h.1m1-1.6h.1m.3 .8h.1m1.8 .7h.1m-9.9 1.5h.1m.6 1.4h.1m.4 0h.1m.1-.7h.1m.7-1.6h.1m0 1.4h.1m.7-1.8h.1m.1 2.2h.1m.6-.1h.1m.1-1.2h.1m1.8-.7h.1m1 .5h.1m.4 1.6h.1m1.2-.8h.1m-9.7 2.8h.1m.2 .7h.1m2.1 .2h.1m-.1-.8h.1m-.1-1.1h.1m.2 1.2h.1m.6-1.3h.1m.1 .8h.1m1.6 1.6h.1m-.1-1.8h.1m.1 1.3h.1m.4 .7h.1m.5-.5h.1m.3-1.7h.1m.9 1.7h.1m.5-2.3h.1m-7.9 5.9h.1m.8-1.2h.1m.3-.5h.1m0-1h.1m.5-.1h.1m1 1.1h.1m1.1 1.3h.1m.7-1.4h.1m1.1-.6h.1m1.5 0h.1m-8.1 4.8h.1m1.1-.1h.1m.5-.3h.1m2-1.4h.1m0 2.2h.1m.1-1.7h.1m-3.4 2.3h.1m.5 .8h.1m2.5 1.2h.1m2.3-.3h.1m-.1-1.5h.1m-4.6 4h.1m0-1.1h.1"/><path class="d" stroke-opacity="0.3" d="M111.9 92.6h.1m8-.5h.1m-6.9 2.6h.1m3.7-.7h.1m2.8 .4h.1m9.2-.4h.1m-13.4 4.8h.1m2.4-1.5h.1m-15 2.4h.1m.1 .7h.1m10.8-.8h.1m6.5-.2h.1m1-.1h.1m.1 1.2h.1m1.1-.3h.1m1.5-.5h.1m-17 4.4h.1m3.5 .4h.1m8.8-.1h.1m7.7-2.4h.1m-20.4 5h.1m5.2 .5h.1m-.1-.7h.1m3.1-.9h.1m1.1-.2h.1m2.3 1.2h.1m.9 .8h.1m3.1-1h.1m.7-.9h.1m.2-.6h.1m1.9 .4h.1m-6.6 6.7h.1m.6 1.5h.1m-3.8 1h.1m.2 .9h.1m10.7-1.5h.1m1.4 0h.1"/><path class="d" stroke-opacity="0.3" d="M128.1 86.7h.1m-12.3 .4h.1m5 .1h.1m-3.9 5h.1m7.3-.5h.1m-1.2 2.9h.1m-2.2 1.7h.1m2.5 2.5h.1m2.3-2h.1m-11.8 5h.1m3.8-.4h.1m3.8 .1h.1m1.6-1.5h.1m9.1-.3h.1m-18.2 3.7h.1m3.8-.1h.1m2.9-.6h.1m.2-.5h.1m1.1 2h.1m1.1 .2h.1m-12.1 3.3h.1m4-1.4h.1m4.5-.1h.1m.7-.8h.1m1.1-.2h.1m.5-.2h.1m4.5 .9h.1m-11.5 4.3h.1m3.7 .6h.1m.9-2.1h.1m.9-.2h.1m1.2 1.1h.1m6.8 .4h.1m.9-.8h.1m4.3-.5h.1m-6.2 3.6h.1m-10.7 3.2h.1"/><path class="d" stroke-opacity="0.3" d="M131.3 88.6h.1m-11.8 4.3h.1m1.9 2.3h.1m.6 .3h.1m-6.6 1.8h.1m.1-.5h.1m.5 1.2h.1m3.8-1h.1m7.5 .8h.1m-11.8 4.1h.1m.5-.8h.1m4.9-1.1h.1m1.6 0h.1m3.1 .2h.1m4.4 .8h.1m0-.8h.1m-23.1 3.7h.1m8.9 .3h.1m4-2.1h.1m3.1 1.7h.1m5.1-.9h.1m5.3 .6h.1m-25.5 2.5h.1m1.6-1h.1m6 1.9h.1m1.4-1.3h.1m4 2.3h.1m3-.3h.1m3.1-1.4h.1m.7 1.5h.1m4.7-2.6h.1m-21.5 3.1h.1m1.9 .8h.1m6.1 1.3h.1m2.7-1.3h.1m4.8 .7h.1"/><path class="d" stroke-opacity="0.4" d="M102.9 89.7h.1m0-.5h.1m.3-.1h.1m.8-.1h.1m.3 .6h.1m2.6-.3h.1m1 .1h.1m.2 .1h.1m1.9-.9h.1m.7 .5h.1m.2 .7h.1m.1-.3h.1m3.9-.1h.1m5.9 .5h.1m2-1.2h.1m1.5-.2h.1m.5 1.2h.1m-19.8 1.6h.1m0-.7h.1m.1 .4h.1m.6-.8h.1m1.5 .6h.1m1.4 .2h.1m.4 .6h.1m.8-1.6h.1m.1 2h.1m1.8-1.5h.1m.7 .3h.1m.1 .4h.1m0-.9h.1m.3 0h.1m0 .4h.1m0 .5h.1m.9 .7h.1m1-.9h.1m1.9-.4h.1m-.1 .2h.1m.1-.2h.1m.3-.6h.1m.5 1h.1m.4 .5h.1m3.4-.7h.1m1.2-.5h.1m0 1.8h.1"/><path class="d" stroke-opacity="0.4" d="M103.5 89.8h.1m0-.1h.1m.1 .2h.1m1.5-.2h.1m1.5 .2h.1m3-2.1h.1m1.1 2.1h.1m.3-.6h.1m1-.4h.1m.2 .4h.1m0 .6h.1m5.1-1.1h.1m1.2 1h.1m.7 .1h.1m1-.6h.1m4.1 .6h.1m-22.7 .1h.1m1 .9h.1m0 .2h.1m.6-.4h.1m.1-.7h.1m.2 .6h.1m1.2-.4h.1m.5 .2h.1m2.4-.4h.1m.1 .4h.1m1.6 1.9h.1m.5-1.6h.1m.5-.2h.1m2.3 .8h.1m.9-.6h.1m.6 .3h.1m.3 .4h.1m.4-1.2h.1m.5 1.3h.1m1-1.4h.1m.2 0h.1m1.1 1h.1m.8 .8h.1m-.1-.8h.1m0-.6h.1m1.5-.2h.1m1.2 1.3h.1"/><path class="d" stroke-opacity="0.4" d="M104 88.4h.1m.6 1.5h.1m0-.1h.1m2.5 0h.1m.3-.1h.1m3.6-1.3h.1m.7 .7h.1m1.5 .7h.1m.1-.8h.1m3.3 .7h.1m.7-.4h.1m.1 .3h.1m.3-.1h.1m.8 .3h.1m2.8-.7h.1m.2 .6h.1m.6 0h.1m.5-.3h.1m2.1-.5h.1m-.1 .5h.1m-22.8 2.5h.1m1.8-1.8h.1m.8 1.2h.1m.5 .6h.1m.9-1.5h.1m1.4 1.3h.1m.4-1h.1m.3 .4h.1m.9 .8h.1m.4-.8h.1m0 .7h.1m.5-.4h.1m.6-1h.1m-.1 .3h.1m3.2-.3h.1m1 .3h.1m.7-.4h.1m.2 .1h.1m.9-.4h.1m1.2 .2h.1m2.2 .5h.1m1.1 .3h.1m.5-.3h.1"/><path class="d" stroke-opacity="0.15" d="M112.2 93.6h.1m17.6 .1h.1m-.1 4.3h.1m6.5 0h.1m5.5 0h.1m-40.7 1.9h.1m22.4-.6h.1m7.6 .7h.1m-8.4 3h.1m6.4-.1h.1m.5-.8h.1m-1.3 3h.1m5.7 1.6h.1m6.2 .2h.1m2.1-1.5h.1m-19.7 3.1h.1m8.2 2.1h.1m1.4-.5h.1m-33.7 2.1h.1m9.2 1.5h.1m30.5-2.1h.1m-15.5 4.3h.1m16 .9h.1m-30.2 1.8h.1m2.5 .1h.1m9 3.2h.1"/><path class="d" stroke-opacity="0.15" d="M102.2 95.3h.1m13.3-.5h.1m5.9-1h.1m-13.9 4.9h.1m4.3-2.1h.1m22-.3h.1m-24.4 5.1h.1m5-1.3h.1m-13.8 1.9h.1m5.8 .8h.1m13.6 1.7h.1m1.1-2.2h.1m10 1.1h.1m-6.7 3.3h.1m-8.3 3.3h.1m4.4 0h.1m-17.4 3.2h.1m24.9-.4h.1m-7.3 3.2h.1m12.2 .2h.1m-11.3 3.1h.1m-.5 .8h.1m10.3 1.9h.1m5.4-1.2h.1m2.5 0h.1m-1.8 3.3h.1"/><path class="d" stroke-opacity="0.15" d="M125.7 94.8h.1m5.7 .6h.1m4.3-2.2h.1m-20.1 5.5h.1m1-1.7h.1m19.4 1.1h.1m-34.3 3.4h.1m42 0h.1m-9.9 1.7h.1m-32.7 2.2h.1m27.9 .3h.1m-3.9 5h.1m5.3 .2h.1m12.5-2.8h.1m-41.1 3.8h.1m4.5 1.8h.1m.5-2.7h.1m28.4 .3h.1m-24.5 4.5h.1m4.9-1.1h.1m7.5 .5h.1m10.4-.1h.1m3.1 2.6h.1m2.7 1.2h.1m-8.7 2h.1m7.9 1.7h.1"/></g><rect x="98.8" y="79.2" width="50.39999999999999" height="47.599999999999994" fill="none" stroke="#555" stroke-width=".8"/><path d="M113.2 79.2V126.8M98.8 112.3H149.2" stroke="#444" stroke-width=".8" fill="none"/><path d="M99.3 94H149.2" stroke="#222" stroke-width="1.1" stroke-dasharray="2.2 1.8" fill="none"/><text x="148.1" y="84.8" font-size="6.3" font-weight="bold" text-anchor="end" fill="#000">23</text><text x="148.1" y="100.7" font-size="6.3" font-weight="bold" text-anchor="end" fill="#000">63</text><text x="148.1" y="123.5" font-size="6.3" font-weight="bold" text-anchor="end" fill="#000">14</text><text x="98.8" y="131.4" font-size="4.2" fill="#666" text-anchor="middle" transform="rotate(-30 98.8 130.3)">10</text><text x="111.4" y="131.4" font-size="4.2" fill="#666" text-anchor="middle" transform="rotate(-30 111.4 130.3)">10</text><text x="124" y="131.4" font-size="4.2" fill="#666" text-anchor="middle" transform="rotate(-30 124 130.3)">10</text><text x="136.6" y="131.4" font-size="4.2" fill="#666" text-anchor="middle" transform="rotate(-30 136.6 130.3)">10</text><text x="149.2" y="131.4" font-size="4.2" fill="#666" text-anchor="middle" transform="rotate(-30 149.2 130.3)">10</text><text x="96.2" y="126.8" font-size="4.2" fill="#666" text-anchor="middle" transform="rotate(-90 96.2 126.8)">10</text><text x="96.2" y="114.9" font-size="4.2" fill="#666" text-anchor="middle" transform="rotate(-90 96.2 114.9)">10</text><text x="96.2" y="103" font-size="4.2" fill="#666" text-anchor="middle" transform="rotate(-90 96.2 103)">10</text><text x="96.2" y="91.1" font-size="4.2" fill="#666" text-anchor="middle" transform="rotate(-90 96.2 91.1)">10</text><text x="96.2" y="79.2" font-size="4.2" fill="#666" text-anchor="middle" transform="rotate(-90 96.2 79.2)">10</text><clipPath id="k7"><rect x="167" y="79.2" width="50.5" height="47.599999999999994"/></clipPath><g clip-path="url(#k7)"><path class="d" stroke-opacity="0.7" d="M197.6 92.4h.1m.4 .5h.1m1.3-1.5h.1m1.8 1.1h.1m.1 .3h.1m-7.4 .9h.1m1.5 1.7h.1m2.4 .3h.1m.2-.6h.1m-.1-.1h.1m.3 .9h.1m.2-.8h.1m0-1.2h.1m.1 1.2h.1m0-1.5h.1m0 .2h.1m.9 1.6h.1m.1 .2h.1m0-.4h.1m.4-2h.1m.5 .3h.1m.5 1h.1m.2-.7h.1m-9 4h.1m2.7 1h.1m0-1.2h.1m.5 .3h.1m-.1 .3h.1m.1-1.8h.1m0 1.3h.1m.1-.8h.1m.2 1.7h.1m0-1.9h.1m.1 2h.1m-.1 .2h.1m-.1-1.4h.1m.1 .3h.1m-.1-1.5h.1m.2 1.1h.1m.1 1.2h.1m.2-1.9h.1m0 2.2h.1m-.1 0h.1m.2-2.7h.1m-.1-.1h.1m.4 1.1h.1m.2 1.4h.1m-.1-.5h.1m.1-1.6h.1m0 .5h.1m0-.4h.1m-.1 2.3h.1m0-2.4h.1m0 .4h.1m-.1 .5h.1m0-.7h.1m0 1.6h.1m0-.5h.1m.1-1.3h.1m.5 .5h.1m0 1h.1m.3-1.3h.1m.2 2h.1m-10.9 .4h.1m2.5 .7h.1m.3 1.7h.1m.5-1.3h.1m0 .6h.1m.1 .6h.1m.2-2.3h.1m.1 .2h.1m.5 .2h.1m.2 .3h.1m-.1 .5h.1m0 0h.1m-.1 1.3h.1m-.1-.4h.1m0-.6h.1m.3-.6h.1m0-.2h.1m-.1-.5h.1m0-.3h.1m.2 .8h.1m.2 .6h.1m.1 1.5h.1m0-2.6h.1m.5-.2h.1m.1 1.7h.1m-.1-1.6h.1m0 2.6h.1m.2-1h.1m.3 .9h.1m0 .1h.1m0-2.2h.1m0 1.2h.1m-.1 1.1h.1m0-1h.1m.1 .2h.1m.7-.8h.1m0 .2h.1m.1 1.2h.1m0-2.4h.1m-.1 1.8h.1m.2 .2h.1m0-.7h.1m0 1.3h.1m.4-2h.1m1.1 1.7h.1m-9.7 1.9h.1m.1 1.3h.1m.6-2.6h.1m.6 1.2h.1m.1 .8h.1m0-1.5h.1m.2 1.1h.1m.1 .3h.1m0 0h.1m.3-.6h.1m.3-.8h.1m-.1 .3h.1m0-.5h.1m.1 1.2h.1m-.1-1.5h.1m0 .3h.1m0-.1h.1m-.1 1.5h.1m0-.9h.1m.2-.8h.1m-.1 2.7h.1m0-2.2h.1m.1-.5h.1m.3 1.7h.1m0-.1h.1m0-.9h.1m.3 1.6h.1m0-.5h.1m.2-1h.1m0 .5h.1m-.1 .6h.1m.7-1.7h.1m-.1 .8h.1m.2-.6h.1m.3-.2h.1m.2-.1h.1m.1 .7h.1m.1 .1h.1m1.6 .6h.1m-9.4 1.9h.1m1.7 1.5h.1m.3-2h.1m0 .3h.1m.1-.3h.1m0 1.4h.1m-.1-1.2h.1m0 1.3h.1m.5-.9h.1m.2 1.8h.1m.4-2.2h.1m.2 0h.1m.2 .9h.1m1-.4h.1m.4-.6h.1m.4 .6h.1m.3 .5h.1m-3.8 1.8h.1m.3 2.2h.1m-2.1 2.8h.1"/><path class="d" stroke-opacity="0.7" d="M197.8 90.8h.1m0 .9h.1m5.4-.5h.1m.8 1.2h.1m-6.7 2.6h.1m1-.9h.1m0 .3h.1m0 .5h.1m0 .6h.1m0-.6h.1m.1-1h.1m.3 .5h.1m.1 .7h.1m-.1-1.7h.1m.4 1.9h.1m-.1-1.5h.1m.6 1.6h.1m1.5 .5h.1m.5-.6h.1m1.3-.3h.1m-10.2 1.8h.1m.6 1.8h.1m.8-.8h.1m0-1.1h.1m.9 1.1h.1m.3 1.1h.1m0-1.3h.1m.1 .9h.1m.2-2.5h.1m.1 2.7h.1m0-1.8h.1m.1 .4h.1m.4 1.1h.1m0-2.2h.1m0 2.5h.1m.2-1.1h.1m-.1-.6h.1m-.1 1.7h.1m0-.3h.1m0-.7h.1m.2 .4h.1m-.1-.7h.1m-.1-.6h.1m.2 .8h.1m-.1 1h.1m.6-.8h.1m0-.4h.1m.1-.9h.1m-.1 1.8h.1m.1-.9h.1m0-.1h.1m-.1 1.5h.1m.9-2.7h.1m.2 2.4h.1m0-1.8h.1m.4 1.2h.1m1.2-1h.1m.1 1.4h.1m-9.5 2.1h.1m.3-.4h.1m0-.4h.1m.3 2.1h.1m.2-1.9h.1m.1 1.9h.1m.1 .1h.1m0-2h.1m-.1 .5h.1m-.1 1.6h.1m.2-1.5h.1m0 .8h.1m-.1-1.7h.1m.1 .4h.1m.2 .3h.1m.2 1.2h.1m0-1.8h.1m0 .2h.1m0 .3h.1m-.1 1h.1m0 .5h.1m-.1-1.7h.1m0-.2h.1m.1 1.3h.1m-.1 .2h.1m0-.7h.1m-.1 .1h.1m.2-1.4h.1m-.1 .4h.1m0 0h.1m-.1 0h.1m-.1 .6h.1m.4 1.3h.1m-.1-1.5h.1m0 .2h.1m.2 .5h.1m.3-.5h.1m-.1 .7h.1m.1-.7h.1m-.1 1.7h.1m.1-.4h.1m0-1.5h.1m-.1 .6h.1m0-1.3h.1m.1 .3h.1m.9 1.3h.1m0-.7h.1m.7 .6h.1m.4 .2h.1m-10.1 2.7h.1m.6 .4h.1m.3-1.3h.1m.6-.5h.1m.7 1.5h.1m.6-1.7h.1m-.1 1h.1m.1 1h.1m-.1-1.4h.1m-.1 1.5h.1m0 .6h.1m0 .1h.1m0-2h.1m-.1-.4h.1m0 .9h.1m.3-.1h.1m0 1.6h.1m.1-1.2h.1m0 0h.1m.1-1.3h.1m0 1h.1m.5 .4h.1m0-.4h.1m.1-.7h.1m.7 .5h.1m0 .9h.1m0-1.6h.1m0 0h.1m.1 .4h.1m0-.7h.1m-.1 .6h.1m.1-.4h.1m.3-.1h.1m.4 .4h.1m0 2.1h.1m.1-1.1h.1m.7-1.7h.1m1.1 2.4h.1m-10.3 2.5h.1m.6-.3h.1m1.4-.2h.1m.2-1.4h.1m.4 .9h.1m-.1-.9h.1m.2 1.8h.1m1.1 .5h.1m1.7-1.9h.1m0-.3h.1m-.1-.1h.1m0 .1h.1m0 2.8h.1m.2-1.8h.1m.3 .9h.1m.3 .1h.1m.1-1.9h.1m.8 2.5h.1m-4 2h.1m3.8-1.5h.1m-5.3 4.9h.1m2.6-2.1h.1"/><path class="d" stroke-opacity="0.7" d="M204.9 88.7h.1m-6 2.5h.1m1.4 .9h.1m3.5 .7h.1m-9.8 3h.1m1.5-.3h.1m-.1-.4h.1m1-.1h.1m.3 .5h.1m.2-.6h.1m-.1-.1h.1m2.8-.6h.1m0 1.2h.1m.2-.2h.1m0-1.5h.1m.4 2.1h.1m.1-1.1h.1m.2 .6h.1m0 .1h.1m.4 .4h.1m-7.7 1.1h.1m.1 1.7h.1m.1-1h.1m.4 .2h.1m0-.8h.1m.3 .5h.1m.1 1.1h.1m0 .1h.1m.1-1.1h.1m.1 1h.1m0-.4h.1m.8 .4h.1m-.1-.1h.1m.1-1.3h.1m-.1 .2h.1m.6-.4h.1m-.1-.5h.1m.4 .6h.1m0 1.8h.1m-.1-.3h.1m.1-2h.1m-.1 2.1h.1m-.1-.4h.1m-.1 0h.1m.2 0h.1m-.1-.6h.1m.2 .6h.1m.1 .2h.1m0-2h.1m.1-.4h.1m0 2h.1m.1-.4h.1m0-.2h.1m.1 .5h.1m-.1 .1h.1m.2 .4h.1m-.1 .3h.1m0-2.2h.1m-.1 1.8h.1m.1-.7h.1m.1 .8h.1m-.1-2.2h.1m0-.2h.1m.4 .1h.1m.9 .4h.1m1.2-.2h.1m-10 4.8h.1m.2 .5h.1m.1-2.1h.1m.1 1.4h.1m.7 .2h.1m.4-2.1h.1m0 1.8h.1m0-1.3h.1m.4-.4h.1m0 2.6h.1m0-1.7h.1m-.1-.7h.1m0-.3h.1m0 .9h.1m-.1 1.5h.1m.1 0h.1m.1-2h.1m.1 2h.1m0-.1h.1m0-.6h.1m-.1-.9h.1m.1 1.3h.1m.1-1.3h.1m.2 2h.1m-.1-2.6h.1m-.1 2.2h.1m.4-1.2h.1m.9-.2h.1m.1 1.2h.1m-.1 .6h.1m-.1-1.3h.1m0 .7h.1m.5 .5h.1m0-2.3h.1m.1 2.3h.1m-.1-2.6h.1m.3 2.2h.1m.4-.4h.1m.8-.1h.1m0 .8h.1m-9.9 1.4h.1m.2-.1h.1m1-.8h.1m0 1.7h.1m.4 .7h.1m-.1 .2h.1m.1-2.5h.1m.4 .8h.1m.1 .2h.1m.1 1.4h.1m.2-2.4h.1m.2 2.2h.1m-.1 .3h.1m-.1-2h.1m0 2h.1m0-.2h.1m0-1.5h.1m.4 .1h.1m-.1-.8h.1m.1 1.9h.1m-.1-1.8h.1m0 1.3h.1m-.1 0h.1m.3 1h.1m0-.5h.1m.1-2.2h.1m0 0h.1m-.1 1.3h.1m.1-.6h.1m0-.6h.1m.3 .3h.1m.3-.1h.1m.1 1.2h.1m.5 .8h.1m0 0h.1m0-1h.1m0 .1h.1m1.1 .6h.1m.8-1.3h.1m-10.4 3.3h.1m2.9 0h.1m.5-.8h.1m.2 .5h.1m.4 2.1h.1m.3-2.9h.1m.1 .1h.1m.1 2.4h.1m.6-1.1h.1m0-1.3h.1m.1 .8h.1m1 .7h.1m.6-.9h.1m1.1-.4h.1m.2 2.1h.1m-8.5 1.4h.1m1.6 .7h.1m.3-.1h.1m.8-.1h.1m4.6-.1h.1m1.2-.2h.1"/><path class="d" stroke-opacity="0.5" d="M195.6 97.5h.1m1.8 3.7h.1m.9 2h.1m.5 .1h.1m.1 1.5h.1m.7-.2h.1m.7-.6h.1m-3.8 2.1h.1m.6-.3h.1m.1 2.1h.1m.2-.2h.1m1.4-1.7h.1m0 1.1h.1m2.6 .1h.1m-.1 .4h.1m-4.7 2.7h.1m.5-2h.1m1 .2h.1m.1 .9h.1m.9-.7h.1m.3 2.2h.1m1.6-.1h.1m-9.2 1.1h.1m2.6 .3h.1m1.5 1.4h.1m-.1-2.4h.1m.4 .6h.1m1.2 1.1h.1m.7 .8h.1m.7-1.4h.1m.5 .6h.1m.4-.8h.1m-.1 1.2h.1m-6.8 1.5h.1m1.6 1h.1m.3-1.7h.1m-.1 2.5h.1m.1-2.1h.1m0 1.4h.1m.4-.9h.1m.1-1h.1m-.1 2.7h.1m-.1-.9h.1m1.2-.2h.1m.3-1.4h.1m1.9 .8h.1m1.9-.3h.1m-9.9 4.4h.1m.5-2.1h.1m1.1 0h.1m.3 .2h.1m1.1-.1h.1m.2 .3h.1m.2 .7h.1m.7 .7h.1m.3-.3h.1m.7 0h.1m.5-.6h.1m-5.4 2.7h.1m.9 .4h.1m1.2-.8h.1m2.5 .6h.1m-.1 .2h.1m.1 .6h.1m-.1 1.3h.1m-2.7 2.8h.1"/><path class="d" stroke-opacity="0.5" d="M195.8 104.8h.1m3.3-1.8h.1m0 1.5h.1m-1.2 .6h.1m1.2 2.5h.1m.4-.1h.1m.2-.6h.1m1.4-1.1h.1m1.8 0h.1m-.1-.4h.1m-8.5 3.8h.1m2 1.7h.1m.2-1.2h.1m.1-1.7h.1m.7 1.5h.1m0 .1h.1m0-.9h.1m0 1.8h.1m0-.8h.1m.2 .4h.1m.2-.8h.1m0 1.6h.1m.1-.9h.1m1.5-1.2h.1m-5.2 2.9h.1m.9 1.7h.1m.1-1h.1m2.4 1.3h.1m.1 .1h.1m.3-1.6h.1m.6 1.1h.1m.1-1.1h.1m0 0h.1m.1-.3h.1m-4.8 3.1h.1m.2 .8h.1m.1-.1h.1m0 .2h.1m0-.3h.1m.6-.4h.1m0 1.3h.1m.3-2.1h.1m.2 .5h.1m-.1-.1h.1m.5 2.1h.1m.2-.4h.1m.2-2.4h.1m.2 0h.1m.7 2h.1m0-.1h.1m.6 .7h.1m-6.3 1.5h.1m1.1 1.7h.1m1.5-.8h.1m0-1.5h.1m0 1.5h.1m.2-1.6h.1m.5 1.4h.1m.3 .5h.1m-2.6 3.5h.1m.3-1.3h.1m1.3-.1h.1m.2 .3h.1m1.4-.6h.1m-2.8 4.1h.1m1.9-1.9h.1"/><path class="d" stroke-opacity="0.5" d="M195.3 104.4h.1m3.8-.2h.1m-1 1.5h.1m0 2.1h.1m0-2.5h.1m.8 .1h.1m2 1.8h.1m-5.4 3.7h.1m.7-.1h.1m.1-2.2h.1m.2 2.1h.1m.5-1.7h.1m.3 1.7h.1m.3-1.7h.1m.2-.4h.1m.1 2h.1m.1-2.4h.1m2.3 2.2h.1m.3-.3h.1m.9 .8h.1m-8.2 2h.1m1.4-1.1h.1m.4-.3h.1m1 1.2h.1m0 1.2h.1m.3-2.3h.1m.2 .8h.1m.6-.5h.1m.1 .9h.1m.1-.2h.1m0-.9h.1m-.1 1.3h.1m.6-.5h.1m-.1 .4h.1m.7 1h.1m-5.4 1.8h.1m1.3 .5h.1m.4 .5h.1m.2-.6h.1m.6-1.8h.1m0 1.5h.1m.5 1h.1m-.1-2.5h.1m.2 1.6h.1m.8-.9h.1m-.1 1h.1m-3.9 1.4h.1m0 1.6h.1m1.6-1.7h.1m0 2.5h.1m-.1-2.7h.1m.3 1.6h.1m.2 .1h.1m.4-.9h.1m.5 1.3h.1m.1-2.2h.1m.1 .1h.1m.6-.1h.1m-.1 2.4h.1m-6.7 3.4h.1m1.3-2.7h.1m.4 .6h.1m.4-.7h.1m.6 .5h.1m1.7 .7h.1m-1.6 2.6h.1"/><path class="d" stroke-opacity="0.4" d="M196.2 90.8h.1m-6.1 4.2h.1m2-.4h.1m-3 3.7h.1m.8 .1h.1m4.1-.7h.1m2.2 1h.1m4.3-.8h.1m-10.2 1.7h.1m.9 1.1h.1m2 1h.1m.2-2.5h.1m6.9 2.2h.1m-11.4 1.3h.1m.2 0h.1m1.8 1.1h.1m.4 1h.1m.3-2.7h.1m2.4 .4h.1m1.1 1.8h.1m-10.2 2.5h.1m1.7-1.5h.1m1.4 1h.1m.6-.5h.1m3.2 0h.1m1.3-.3h.1m1.2 1.1h.1m2.8 .4h.1m-5.8 3.7h.1m.5-1.7h.1m0 .9h.1m1.8-.1h.1m5.3 .1h.1m-16.2 3.6h.1"/><path class="d" stroke-opacity="0.4" d="M191.5 92.2h.1m-5.4 5.7h.1m2.9-.1h.1m2.8-.3h.1m.6-.4h.1m5.4 .7h.1m-13.4 4.1h.1m2.8-.8h.1m2.8-.5h.1m-.1-.5h.1m.4 1h.1m.2 .5h.1m6.7-2h.1m-12.4 5.2h.1m2.4-.6h.1m2-1.6h.1m.1 .6h.1m.2 1.1h.1m2.6-1.7h.1m1.8 1.1h.1m-5.8 1.6h.1m1.2 1.2h.1m1.2-.9h.1m1.1 .8h.1m0-1.1h.1m-.1 .3h.1m5.3 2.3h.1m.2-.6h.1m-20.7 2h.1m15.1-.5h.1m2.2 1.4h.1m1-1.5h.1m2.1 .9h.1"/><path class="d" stroke-opacity="0.4" d="M191.8 89.1h.1m11.7 3.8h.1m-12.8 5.7h.1m8.9-.3h.1m-12.1 1.4h.1m.8-.4h.1m.5 .2h.1m2.3 1.2h.1m1.3 1.1h.1m1.1-2.1h.1m6.8-.5h.1m.8 2.5h.1m-13.8 2.8h.1m3.2-1.7h.1m.1 2h.1m1.5-2.4h.1m.2 .8h.1m.2 1h.1m4.4-.8h.1m-15.6 3.7h.1m5.3-1h.1m6 .6h.1m.2-.5h.1m1.2 1.6h.1m2.3-1.3h.1m-13.5 4.1h.1m2.2 .3h.1m8.4-2.5h.1m-9.8 3.7h.1m.3 1.3h.1m2.7-1.7h.1m8.4 .2h.1m.5 .1h.1"/><path class="d" stroke-opacity="0.4" d="M171.6 86.8h.1m14.7-.4h.1m-15.1 3.2h.1m-.1-2h.1m.6 2.1h.1m1.4-.4h.1m.9-2.3h.1m0 .2h.1m.3 1.2h.1m1.8 .9h.1m1.6-.4h.1m.5-.2h.1m-.1 .2h.1m.3 .8h.1m1.5 0h.1m.7-.4h.1m.9-.7h.1m.2 .2h.1m.3 .1h.1m.8-.9h.1m.1 1.7h.1m.9 0h.1m2.6 0h.1m.2-.4h.1m.2-.4h.1m.3-.9h.1m.3 1.1h.1m0-1.1h.1m0 1.8h.1m1.9-1.3h.1m.8 1.2h.1m.1-.1h.1m.8-.9h.1m.7 .3h.1m1.3 .4h.1m-23 .9h.1m1.5 0h.1m.2 .7h.1m5.5-.8h.1m2.2-.1h.1m6 .5h.1m.1 .1h.1m.6-.7h.1m2 .5h.1"/><path class="d" stroke-opacity="0.4" d="M172.3 86.8h.1m-2.1 2.4h.1m1.5-.2h.1m0-1.4h.1m.6-.2h.1m.4 1h.1m1 .9h.1m.4-1.6h.1m.5 .7h.1m.4-1.4h.1m.1 2h.1m1.3 .3h.1m1.6-1.3h.1m.3 .1h.1m.1-.6h.1m.1 1.6h.1m.3 .5h.1m5-1h.1m.5-.2h.1m.8 .8h.1m0-.2h.1m.6-.2h.1m.5 1.1h.1m1.6-1.6h.1m.2 .4h.1m1.3 .8h.1m1.1-1.5h.1m0 1h.1m.3-1.1h.1m1.4 1.4h.1m.3 .3h.1m.2-.9h.1m-19.9 1.9h.1m1-.5h.1m2.5 .4h.1m2.9-.5h.1m3 .6h.1m4.3 0h.1m.2-.5h.1m.5 .5h.1m.6 .3h.1m.8-.2h.1m2.4-.1h.1"/><path class="d" stroke-opacity="0.4" d="M171.8 87.9h.1m.2 1h.1m.9 .5h.1m1.4-.7h.1m1.3 .1h.1m.4 .4h.1m.5-1.1h.1m1.3 1.2h.1m.5-.1h.1m.2-.5h.1m0 .3h.1m.6-.4h.1m.2 1h.1m1.3-1.5h.1m1.4 0h.1m.1 .9h.1m.8-.1h.1m.1 .1h.1m.7 .8h.1m.9-1h.1m1.2 .7h.1m1.1-.1h.1m.1 .5h.1m1.5-1.1h.1m.2 1h.1m2.2-1.2h.1m1.6 1.2h.1m.6 0h.1m.5-1.9h.1m-23.9 2.1h.1m1.7 0h.1m.8 .7h.1m4 0h.1m1.9-.5h.1m.2 .1h.1m2.5-.3h.1m1.7 .6h.1m.1-.5h.1m5.3 .4h.1m0-.3h.1m.9 .8h.1m.6-.8h.1m.6-.1h.1"/><path class="d" stroke-opacity="0.15" d="M182.8 97.8h.1m22.1 .3h.1m-17.7 6.2h.1m18.8-1.3h.1m-36.2 4.7h.1m17.4-2.3h.1m11.3 3.6h.1m9.6-1h.1m-24.3 3.2h.1m-11.5 2.8h.1m3.2 1.9h.1m6.9-1h.1m23.6 .7h.1m7-1.3h.1m-32.8 5.4h.1m7.6-2.1h.1m16 1.1h.1m-9.2 4.2h.1m17.5-2.5h.1m-21.2 4.5h.1"/><path class="d" stroke-opacity="0.15" d="M195.3 95.6h.1m13.1 3.3h.1m-11.6 2.2h.1m.5-2.1h.1m13.9 2.9h.1m2.2 1.6h.1m-39.3 5.2h.1m14.5-.3h.1m20.3 1.6h.1m-36 3.6h.1m4-.8h.1m3.9 2.9h.1m1.3 1h.1m18.5-1.6h.1m-15.4 3.7h.1m12.9-.3h.1m10.3-.8h.1m2.1-.1h.1m-.4 4h.1"/><path class="d" stroke-opacity="0.15" d="M181.4 92h.1m8.1 3.5h.1m.9 .4h.1m9.7-.3h.1m-31.5 1.9h.1m1.5-.2h.1m3.9 .5h.1m19.6-.8h.1m-23.9 2.8h.1m23.3 .9h.1m20.8 4.2h.1m-40.1 1.5h.1m2.1-.7h.1m22.1 3h.1m7.7 .6h.1m-23.2 5.8h.1m1.9-.6h.1m23.3 4.4h.1m-28 1.6h.1"/></g><rect x="167" y="79.2" width="50.5" height="47.599999999999994" fill="none" stroke="#555" stroke-width=".8"/><path d="M181.2 79.2V126.8M167 112.3H217.5" stroke="#444" stroke-width=".8" fill="none"/><path d="M167.5 94H217.5" stroke="#222" stroke-width="1.1" stroke-dasharray="2.2 1.8" fill="none"/><text x="216.4" y="84.8" font-size="6.3" font-weight="bold" text-anchor="end" fill="#000">15</text><text x="216.4" y="100.7" font-size="6.3" font-weight="bold" text-anchor="end" fill="#000">75</text><text x="216.4" y="123.5" font-size="6.3" font-weight="bold" text-anchor="end" fill="#000">10</text><text x="167" y="131.4" font-size="4.2" fill="#666" text-anchor="middle" transform="rotate(-30 167 130.3)">10</text><text x="179.6" y="131.4" font-size="4.2" fill="#666" text-anchor="middle" transform="rotate(-30 179.6 130.3)">10</text><text x="192.2" y="131.4" font-size="4.2" fill="#666" text-anchor="middle" transform="rotate(-30 192.2 130.3)">10</text><text x="204.9" y="131.4" font-size="4.2" fill="#666" text-anchor="middle" transform="rotate(-30 204.9 130.3)">10</text><text x="217.5" y="131.4" font-size="4.2" fill="#666" text-anchor="middle" transform="rotate(-30 217.5 130.3)">10</text><text x="164.4" y="126.8" font-size="4.2" fill="#666" text-anchor="middle" transform="rotate(-90 164.4 126.8)">10</text><text x="164.4" y="114.9" font-size="4.2" fill="#666" text-anchor="middle" transform="rotate(-90 164.4 114.9)">10</text><text x="164.4" y="103" font-size="4.2" fill="#666" text-anchor="middle" transform="rotate(-90 164.4 103)">10</text><text x="164.4" y="91.1" font-size="4.2" fill="#666" text-anchor="middle" transform="rotate(-90 164.4 91.1)">10</text><text x="164.4" y="79.2" font-size="4.2" fill="#666" text-anchor="middle" transform="rotate(-90 164.4 79.2)">10</text><clipPath id="k8"><rect x="234.5" y="79.2" width="50.80000000000001" height="47.599999999999994"/></clipPath><g clip-path="url(#k8)"><path class="d" stroke-opacity="0.7" d="M267.6 89.9h.1m-3.8 1.6h.1m1.7-1.4h.1m-2.4 5.7h.1m2-.6h.1m.3 .7h.1m.1-2.6h.1m0 .3h.1m.2 1.2h.1m.5 .5h.1m.8-2.1h.1m0 .6h.1m1-.6h.1m0 1.7h.1m0-.6h.1m0-.6h.1m.3 .4h.1m1.2 .3h.1m0 .9h.1m0 .5h.1m.1-.8h.1m.7-1.9h.1m2.9 1.9h.1m-13.1 2.5h.1m1.2 .3h.1m-.1 .2h.1m1-.8h.1m.3 1.2h.1m.9-1.7h.1m.1-.2h.1m0 2.2h.1m1-2.5h.1m0 .8h.1m.1 1.6h.1m-.1-.4h.1m.5-1.7h.1m.6 1.4h.1m-.1 .3h.1m0 .5h.1m-.1-.6h.1m0-1.4h.1m-.1-.1h.1m.5 .1h.1m-.1 1.9h.1m0-1.7h.1m.3 1.3h.1m.1 .1h.1m0-.9h.1m0 1.5h.1m0-2h.1m.1 1h.1m-.1 1h.1m0-.9h.1m1.2-1.8h.1m.1 .8h.1m.3-.3h.1m0 2.2h.1m.6-.5h.1m.3-.3h.1m.1 .7h.1m.3-1.9h.1m.3 .7h.1m-12.8 2.6h.1m.7 1.4h.1m-.1-1.5h.1m.2 1.5h.1m.8-2.6h.1m.5 2.8h.1m.1-1.4h.1m.3 .8h.1m0-.4h.1m.8 .8h.1m.1-1.1h.1m0 1.3h.1m0-2.1h.1m.1-.5h.1m.1 2h.1m0 .7h.1m.2-1.6h.1m.1 .1h.1m-.1 1.5h.1m-.1-2.8h.1m.1 .9h.1m0 .2h.1m-.1 .4h.1m0-1.4h.1m-.1 .6h.1m0 1.7h.1m.4-.9h.1m0-1.5h.1m0 2.3h.1m.2 .5h.1m.1-1.7h.1m0 .3h.1m-.1-.5h.1m0-.7h.1m-.1 1.8h.1m-.1-.5h.1m0 .2h.1m.1 .9h.1m.3-.4h.1m.1-1.6h.1m.2-.5h.1m0 1.6h.1m.1-1.6h.1m0 2.1h.1m0 .1h.1m.2-1.2h.1m.5-.9h.1m.4 1.3h.1m0 1h.1m0-2.3h.1m.1 1.2h.1m3.9 1.3h.1m-13.6 2.4h.1m.2-2.1h.1m.4 .2h.1m0 .9h.1m.1-.8h.1m.1 1.4h.1m.2-1h.1m.4-.3h.1m0-.5h.1m0 .4h.1m.7 2h.1m0 0h.1m.2-.7h.1m.1-.5h.1m-.1-.4h.1m0 .8h.1m0-1.6h.1m0 2.9h.1m0-1.2h.1m.3-.3h.1m.2 1.2h.1m-.1-1.8h.1m0-.1h.1m.2 .7h.1m-.1-.8h.1m0 1.2h.1m.1-1.6h.1m0 1.6h.1m-.1-1.4h.1m0 1.7h.1m-.1-1.4h.1m-.1-.2h.1m.5 2.1h.1m.3-1.4h.1m0 .1h.1m-.1-.3h.1m0-.7h.1m.5 .8h.1m-5.8 2.2h.1m.3 1.7h.1m.2-1.2h.1m.2 1.9h.1m.8-2.4h.1m.4 .9h.1m.5 .5h.1m0-1.2h.1m1.3 1h.1m.3-.1h.1m0-.9h.1m-.1 1.7h.1m0-.1h.1m2.3-1.1h.1m-3.6 2.1h.1"/><path class="d" stroke-opacity="0.7" d="M263.9 92.9h.1m2.6-.7h.1m-.1 .6h.1m.4 .1h.1m2-1h.1m-4.4 2.6h.1m1.4 1.3h.1m-.1-2.2h.1m.2 .8h.1m.5 .5h.1m1.2 .7h.1m.6-.4h.1m0 .1h.1m-.1 .2h.1m.3-1.2h.1m-.1 1.1h.1m.3 0h.1m.1-1.4h.1m1.5 1.9h.1m.1-1.9h.1m.8 0h.1m-.1 1.8h.1m.3-.6h.1m-11 3.3h.1m0-1h.1m1-.1h.1m.5-.5h.1m.8 .5h.1m.2-.7h.1m.2 1.1h.1m.1-.7h.1m0 1.5h.1m.2-1.1h.1m0-1.2h.1m.2 2.5h.1m-.1-.8h.1m-.1-1.6h.1m.3 1.7h.1m.5-.1h.1m0-1.4h.1m0-.3h.1m0 2.1h.1m0 .5h.1m.4-2.2h.1m0 2h.1m-.1-2.4h.1m0 .7h.1m.1 .8h.1m0 .7h.1m.7-.2h.1m.3-1.9h.1m0 1.3h.1m0 1h.1m-.1-1.8h.1m.2-.6h.1m0 2.6h.1m0-2h.1m0 1.8h.1m.1-2h.1m.1 2.2h.1m.2 0h.1m.1-2.1h.1m0 2h.1m.3-1.1h.1m4-.3h.1m.4-.1h.1m-17.2 3.8h.1m2.7-1.8h.1m.8 .9h.1m.1-.9h.1m0 .3h.1m.2 .9h.1m-.1-.3h.1m-.1 1.4h.1m.1 .3h.1m.7-.4h.1m.1-2.4h.1m.1 2.7h.1m-.1-2.8h.1m.4 .3h.1m.1 2.3h.1m.6-1.8h.1m0 2.1h.1m-.1-.4h.1m0-2.5h.1m.2 2.1h.1m0 .3h.1m.1-2.3h.1m-.1 1.5h.1m.2-1.6h.1m0 1.4h.1m.2-.9h.1m0 .9h.1m-.1-1.3h.1m0 2.3h.1m0-.1h.1m.2-2h.1m-.1 1.3h.1m-.1 .6h.1m0-1.9h.1m.1 1.5h.1m.1-1.6h.1m0 2.4h.1m0-.8h.1m-.1 .6h.1m0-2h.1m0 2h.1m.1 .1h.1m.1-.1h.1m.1-.9h.1m.1 .8h.1m.2-.8h.1m0 .5h.1m0-1.7h.1m.8 2.3h.1m.2-1h.1m.1-1h.1m.5 1h.1m1.1-.4h.1m-15.6 3.2h.1m1.4 .4h.1m-.1 .7h.1m2.1-2.1h.1m2.1 1.8h.1m.1 .1h.1m-.1-2h.1m.6 2.4h.1m0-2.1h.1m.3-.4h.1m.3 1.9h.1m0-2h.1m0 .2h.1m.1-.3h.1m.1 1.2h.1m.6-.7h.1m-.1 1h.1m0 1.4h.1m-.1-1.1h.1m.8-.4h.1m.1-.6h.1m-.1 .2h.1m-.1 .1h.1m.1-1h.1m0 2.4h.1m.5-1.5h.1m.2-.4h.1m0-.1h.1m.9 2.4h.1m1.4-2.9h.1m.7 2.5h.1m1.4-1.6h.1m-14.4 4.7h.1m-.1-2.6h.1m4.6 .2h.1m.2-.1h.1m.1 .5h.1m0-.2h.1m1-.2h.1m.1 1.9h.1m.3-1h.1m.1 1.3h.1m1-1.4h.1m.3 1.5h.1m.9-1.6h.1m.6 .3h.1m2-.3h.1m-5.3 5.9h.1"/><path class="d" stroke-opacity="0.7" d="M264.3 87.7h.1m6.6 2.1h.1m-6.2 1.8h.1m.7 1.2h.1m2.6 0h.1m.1-2.1h.1m.3 1.8h.1m2.1-.3h.1m1 .6h.1m-9 1.7h.1m.4 1.4h.1m.6-2.6h.1m.1 2.4h.1m.2-2.1h.1m.1 2.3h.1m.4-2.2h.1m.8 .4h.1m0 1h.1m.1-1.4h.1m.4 1.8h.1m.3-1.1h.1m.4-.5h.1m.3 .2h.1m-.1 1.5h.1m.9 0h.1m.3-.9h.1m.6-.8h.1m.8 1.4h.1m.9 .2h.1m.8 .2h.1m.5-.3h.1m-13 3.5h.1m1.1-1.3h.1m1.4-.9h.1m0-.5h.1m.1 1.8h.1m0-.2h.1m.7-1.3h.1m.3 1.2h.1m.1 1h.1m0-.9h.1m.1-.3h.1m.3-1.2h.1m.1 1.8h.1m.7 .4h.1m-.1 0h.1m0 .3h.1m.1-2.7h.1m-.1 1.2h.1m.4 1.1h.1m-.1-1.1h.1m.2 1.5h.1m.2-.2h.1m-.1-.4h.1m.1-2.1h.1m0 .1h.1m0 .3h.1m.1 .9h.1m0-1.1h.1m.3 .1h.1m.2-.4h.1m0 .8h.1m0 1.3h.1m.2 .1h.1m0-1.9h.1m.1 2.2h.1m0-2.1h.1m.1 .3h.1m.3 2.1h.1m.1-1h.1m.6-.4h.1m.4-1.2h.1m.3 1.4h.1m.1 1h.1m.5 .1h.1m.1-1.7h.1m-11.5 3.1h.1m.7 1.5h.1m.4-2.3h.1m-.1 .9h.1m.3-.9h.1m0 .5h.1m.2 .6h.1m.2 1h.1m.1-1.7h.1m.3 1.8h.1m-.1-.8h.1m.1-1.7h.1m-.1 2.1h.1m.2 .4h.1m0-2.3h.1m-.1 2.3h.1m.5-2.3h.1m.2 0h.1m.2 1.1h.1m-.1 .9h.1m.2-1.5h.1m-.1 1.4h.1m.1 .8h.1m.2-.9h.1m.1 .1h.1m0 .6h.1m-.1-2.2h.1m.3 .9h.1m0 .8h.1m.1-1.3h.1m-.1 1.8h.1m.1-2.3h.1m.7 .9h.1m.1-.8h.1m0 .5h.1m.1-.4h.1m-.1 .7h.1m.1 1.1h.1m.2-1.6h.1m-.1-.4h.1m.1 .1h.1m.3 0h.1m-10.7 3.5h.1m2.5-.6h.1m.2-.4h.1m-.1 .9h.1m.2 0h.1m0 1.2h.1m-.1-2h.1m.5 .3h.1m.1 .3h.1m.4-.7h.1m.1 1h.1m.1 1.8h.1m-.1-1.6h.1m0 .5h.1m.2 .4h.1m.2-.7h.1m.1-.3h.1m.8 0h.1m-.1 1.4h.1m0-.7h.1m0-1.8h.1m-.1 .5h.1m-.1 1.3h.1m.2 .1h.1m0 .9h.1m.3-1.6h.1m.2-.1h.1m.1 .2h.1m0 1.4h.1m1.2-2.1h.1m1.2-.4h.1m.6 .5h.1m1 1.9h.1m-11.3 1h.1m.5 .2h.1m1.2-.2h.1m.1-.6h.1m1.4 .9h.1m.2 .3h.1m.3-1h.1m.6 1.3h.1m.1-.6h.1m.2 .1h.1m.4 .2h.1m1.5 .1h.1m0 .2h.1m1.7-.5h.1m-4.4 3.1h.1"/><path class="d" stroke-opacity="0.5" d="M271.1 94.6h.1m-5.3 3.5h.1m.7 .7h.1m.7 .4h.1m.3-.1h.1m.9 2.1h.1m-5.6 2.6h.1m2.2 0h.1m1.7-1.3h.1m1.6 .2h.1m.1 1.5h.1m.7-.4h.1m0 .6h.1m1.9-1.5h.1m-6.4 2.2h.1m1.5 1.2h.1m.7-.3h.1m1.9-.1h.1m-5.9 2.9h.1m.1 1.7h.1m1.3-1.8h.1m-.1 1.4h.1m.8-.4h.1m.2-1.3h.1m0 1.7h.1m1.6 .3h.1m1.2-2.4h.1m.5 .6h.1m.4 1.6h.1m-6.3 .9h.1m1-.1h.1m.3 1.2h.1m0-1h.1m.1 .2h.1m.1 1.9h.1m.9 .5h.1m.2-1.2h.1m0-.5h.1m1.8 0h.1m-2.4 2.7h.1m.1-.5h.1m.2-.3h.1m.2 .3h.1m.7 2.3h.1m2.3-.1h.1m.4-1h.1m-4.6 4h.1m.1-.8h.1m.2 .6h.1m.6-1.4h.1m.8 1.2h.1m.4-.6h.1m.8 0h.1m1.7-.4h.1m-7.9 2.6h.1m.7 1.1h.1m1.3-1.5h.1m.8 3.7h.1m1 1.6h.1m.1 0h.1"/><path class="d" stroke-opacity="0.5" d="M271 95.3h.1m-6.2 6.4h.1m2.4-.3h.1m.3 .4h.1m1.6-.3h.1m-3 2.1h.1m1.6 .8h.1m.9-1.5h.1m.9-.9h.1m.8 .9h.1m-2 3.5h.1m.5 .1h.1m0 1.1h.1m.3-.5h.1m-8.3 2.2h.1m4.2 .8h.1m.4-2h.1m.5 .6h.1m.2 .5h.1m0 1.6h.1m2.3-1.1h.1m.5-.9h.1m.2 .9h.1m-5.3 4.2h.1m.7-.3h.1m0-1.6h.1m-.1 .9h.1m.1 .3h.1m0-.5h.1m0-.9h.1m0 1.6h.1m.8-.5h.1m0-.7h.1m.5 .6h.1m.1-.7h.1m1 1h.1m1.8-1.8h.1m1.4 .8h.1m-11 3.5h.1m3.6 .8h.1m.3 .2h.1m.1-2.5h.1m-.1 .8h.1m.3-.9h.1m.2 .7h.1m.5 1.3h.1m.8-1.8h.1m2.4-.1h.1m-7.3 3.7h.1m2.2 .5h.1m.4-.5h.1m0 1.7h.1m1.1-2.1h.1m.5 .4h.1m0-.8h.1m.1 1.9h.1m-2.9 1.1h.1m.9 .6h.1m.7 2.3h.1"/><path class="d" stroke-opacity="0.5" d="M268.6 95.2h.1m1.9 .9h.1m-3 3h.1m-1 3.4h.1m.8 .5h.1m.1 .5h.1m2.5 .3h.1m-5.3 3.6h.1m.7-.9h.1m-.1 1.3h.1m.2-2.7h.1m1 2.5h.1m.9-.8h.1m1.1-.2h.1m.3-.8h.1m.2 1.3h.1m0 0h.1m1.1-.6h.1m-6.2 1.7h.1m1.5 2.2h.1m.6 .3h.1m0-1.8h.1m.3 .4h.1m.5 .2h.1m.3 .6h.1m.3-.3h.1m-.1 .6h.1m2.7-2.3h.1m-6.7 4.6h.1m1.1-1.6h.1m.1 .4h.1m.8 0h.1m0 2.1h.1m.7-1.7h.1m.1 1.1h.1m0-.4h.1m.2-.8h.1m1.2 .2h.1m-5.7 2.1h.1m1.2 .6h.1m3.5 1.3h.1m.6 .2h.1m.4 .4h.1m.2-.4h.1m-6.9 1h.1m.4 2.4h.1m.5-.8h.1m0-.4h.1m.7-.3h.1m.3 .6h.1m.3-1.1h.1m.1-.2h.1m0 1.3h.1m1-.4h.1m-2.4 4.4h.1m1.6-.1h.1m.3-2.4h.1m2.9 1.5h.1m-6.6 3.7h.1"/><path class="d" stroke-opacity="0.4" d="M256.1 97.9h.1m4.1-1.1h.1m.5 2h.1m2.2-.5h.1m-7.7 2.2h.1m2 1.2h.1m2.8-.3h.1m3.6 0h.1m.9-.9h.1m4 0h.1m1.1-.6h.1m-17.3 3.6h.1m2.2-.4h.1m3 1.1h.1m1.6 .5h.1m1-1.8h.1m.9 .5h.1m.9 .2h.1m-.1 .1h.1m.4 .4h.1m.1-.3h.1m.1-1.5h.1m0 1.9h.1m1.1 .4h.1m-8.8 2.9h.1m2.3-1.1h.1m.4-.2h.1m.8-.5h.1m1.5 1.6h.1m2-1.3h.1m.6 0h.1m1.5 1.8h.1m-8.3 1.4h.1m.3 .7h.1m.2-1.2h.1m0-.7h.1m.6 .9h.1m2.9 .2h.1m.8-.2h.1m-2.7 3h.1"/><path class="d" stroke-opacity="0.4" d="M258.2 98.9h.1m2.6-2.2h.1m1.5 1.9h.1m.6-.4h.1m-9.9 1.7h.1m1.9 1.1h.1m1.4 .3h.1m3.8-2.2h.1m1.3 1.9h.1m-6.2 3.2h.1m1.2 .1h.1m.2 .1h.1m1.7-1.6h.1m.2 .5h.1m1.4-.7h.1m2.9 1.5h.1m.5 .8h.1m.8-1.2h.1m4.8-1.1h.1m.5 1.9h.1m-15.6 1.5h.1m.1 .6h.1m-.1-.8h.1m1.8-.4h.1m3.3 .8h.1m1.2 .8h.1m2.6 .2h.1m2.4 0h.1m1-2.1h.1m2.4 .8h.1m-14.6 2.3h.1m3.7 2.4h.1m2.6-2h.1m1.3 0h.1m1.6 .6h.1m-6.4 2.4h.1m2.6 .3h.1m3.6 .2h.1m-9.8 1.9h.1m7.8 1.1h.1"/><path class="d" stroke-opacity="0.4" d="M262.5 89.1h.1m-3 4.8h.1m0 .6h.1m4.9 1.1h.1m.7-1.1h.1m-5.6 1.5h.1m2.3 1.5h.1m4-1.4h.1m-16 4.8h.1m.4-.1h.1m2.8 .7h.1m2.8-.3h.1m1-.2h.1m.4-1.7h.1m.7 2.6h.1m.8-2.5h.1m2.7-.3h.1m0 .3h.1m1.2 2.1h.1m.6 0h.1m1.3-1.9h.1m2.1 .4h.1m-19.9 3.6h.1m5.6 1.2h.1m-.1-2.4h.1m4.1 2.2h.1m.2-.2h.1m2-1.8h.1m1.7 1.5h.1m3.2-.5h.1m.4-1.6h.1m-7.3 5.1h.1m3.7-1.2h.1m-6.9 3.2h.1m.6 0h.1m.4 .5h.1m3.4-.2h.1m5.3 1h.1m2.1-2.1h.1m-10.8 5.8h.1"/><path class="d" stroke-opacity="0.3" d="M258.6 85.8h.1m-22.8 3.8h.1m8.1-2.2h.1m2.5 1.7h.1m.2 .6h.1m1-.2h.1m.2 .2h.1m1-2.7h.1m.2 2.1h.1m1.8-1.9h.1m3.2 1.7h.1m2.5 .4h.1m12.4-.7h.1m-34.5 2.4h.1m3.9-.6h.1m.5 .4h.1m1.8 1.4h.1m-.1 .7h.1m2.5-.2h.1m1.6-.2h.1m1.2-2.4h.1m0 1.7h.1m.1-1.8h.1m.2 1.3h.1m.1 .5h.1m1.7 .7h.1m.2-1.4h.1m1.7 1h.1m.5-1.9h.1m.8 .5h.1m.5 .5h.1m2.9 1.7h.1m1.3-.1h.1m.7-1.5h.1m-23.3 2h.1m5.5 .1h.1m8.1 .8h.1m2.7-1.2h.1m3.1 1.7h.1m.7-.6h.1"/><path class="d" stroke-opacity="0.3" d="M244.7 86.8h.1m3.3-2.3h.1m.1 1.7h.1m9.2-1h.1m12.3 .2h.1m-33.6 2.9h.1m9.9 0h.1m.3 1.6h.1m.6-1.8h.1m1.3 1.1h.1m3.5-.9h.1m1.7 .2h.1m3.2-.3h.1m.5 1.1h.1m2.4 0h.1m-20.6 2.1h.1m4 .4h.1m2.6-.8h.1m.6 1.7h.1m.6-2.1h.1m.6 1.6h.1m1.3-.1h.1m1.5-2h.1m.4 2.4h.1m2-2.1h.1m1.5 2.4h.1m-.1-1.1h.1m.6 .1h.1m2 .4h.1m3.6 .1h.1m-19 1.2h.1m1.5 1.3h.1m3.2 .7h.1m1.9 .4h.1m4.3-2.9h.1m5.3 1.7h.1m2.2-1.6h.1m11.2 .5h.1m-31.7 3.1h.1"/><path class="d" stroke-opacity="0.3" d="M235.8 85.6h.1m5.1 .9h.1m2-1h.1m10.1 .9h.1m7.1-2h.1m-23.6 3.1h.1m3.9 1.8h.1m2.8 .4h.1m.7-1.8h.1m.5 .8h.1m.1 .8h.1m.5 .4h.1m.6-.1h.1m.1-1.4h.1m4.8-.1h.1m3.6 1.3h.1m-17.2 3.3h.1m1-2.4h.1m4.2 1.2h.1m5.7-.2h.1m1.3 .7h.1m.8 .4h.1m2.7 0h.1m.2 .2h.1m.8-2.1h.1m2.7-.4h.1m1.2-.3h.1m1.7 .4h.1m3.6 .9h.1m-28.3 1.9h.1m5 .9h.1m.9-.9h.1m4.7 .6h.1m4.9 .8h.1m3.2-.8h.1m2.2 .8h.1m7.2 .6h.1m-18.4 .8h.1m14.2 1.3h.1"/><path class="d" stroke-opacity="0.15" d="M256.5 95.7h.1m13.5-1.1h.1m-29.7 1.7h.1m1.9 1.1h.1m38.7 .7h.1m-43.7 1.4h.1m21.9-.5h.1m-9 4.1h.1m2.6 2.2h.1m4.5 1.5h.1m14.9-1.3h.1m2.2 1h.1m-33.3 3.4h.1m4.8 0h.1m20.1-1.9h.1m-2 6.1h.1m-19.7 8h.1m35.1-1.1h.1m-21.5 3.1h.1m19.4 0h.1"/><path class="d" stroke-opacity="0.15" d="M262.7 95.5h.1m-15 .7h.1m12.4 1h.1m-19.7 4.8h.1m1.3 1.3h.1m1.7 .9h.1m9.1-.3h.1m15.9-1.2h.1m-18.4 3.2h.1m6.8 1.8h.1m4.5-.7h.1m-16.8 1.4h.1m29.4 3.2h.1m6.4 1.3h.1m-42.5 1.6h.1m30.3-.1h.1m-17.3 2.8h.1m12.6 .4h.1m11.3 .2h.1"/><path class="d" stroke-opacity="0.15" d="M250.9 94.7h.1m-6 4.2h.1m12.1-1.3h.1m-19.4 2.2h.1m33.3-.5h.1m-32.4 4.1h.1m3.3 .7h.1m37.2-1.2h.1m-32.1 5.5h.1m10.8 1.9h.1m3.8-1.6h.1m17.9 1.5h.1m1.4-.2h.1m-27.7 1.9h.1m26.1-.5h.1m-17.5 3.6h.1m-24.4 4.8h.1m35.5 2.3h.1m3.8-2h.1"/></g><rect x="234.5" y="79.2" width="50.80000000000001" height="47.599999999999994" fill="none" stroke="#555" stroke-width=".8"/><path d="M250 79.2V126.8M234.5 112.3H285.3" stroke="#444" stroke-width=".8" fill="none"/><path d="M235.0 94.3H285.3" stroke="#222" stroke-width="1.1" stroke-dasharray="2.2 1.8" fill="none"/><text x="284.2" y="84.8" font-size="6.3" font-weight="bold" text-anchor="end" fill="#000">15</text><text x="284.2" y="101.0" font-size="6.3" font-weight="bold" text-anchor="end" fill="#000">74</text><text x="284.2" y="123.5" font-size="6.3" font-weight="bold" text-anchor="end" fill="#000">11</text><text x="234.5" y="131.4" font-size="4.2" fill="#666" text-anchor="middle" transform="rotate(-30 234.5 130.3)">10</text><text x="247.2" y="131.4" font-size="4.2" fill="#666" text-anchor="middle" transform="rotate(-30 247.2 130.3)">10</text><text x="259.9" y="131.4" font-size="4.2" fill="#666" text-anchor="middle" transform="rotate(-30 259.9 130.3)">10</text><text x="272.6" y="131.4" font-size="4.2" fill="#666" text-anchor="middle" transform="rotate(-30 272.6 130.3)">10</text><text x="285.3" y="131.4" font-size="4.2" fill="#666" text-anchor="middle" transform="rotate(-30 285.3 130.3)">10</text><text x="231.9" y="126.8" font-size="4.2" fill="#666" text-anchor="middle" transform="rotate(-90 231.9 126.8)">10</text><text x="231.9" y="114.9" font-size="4.2" fill="#666" text-anchor="middle" transform="rotate(-90 231.9 114.9)">10</text><text x="231.9" y="103" font-size="4.2" fill="#666" text-anchor="middle" transform="rotate(-90 231.9 103)">10</text><text x="231.9" y="91.1" font-size="4.2" fill="#666" text-anchor="middle" transform="rotate(-90 231.9 91.1)">10</text><text x="231.9" y="79.2" font-size="4.2" fill="#666" text-anchor="middle" transform="rotate(-90 231.9 79.2)">10</text><clipPath id="k9"><rect x="31" y="144.8" width="50.599999999999994" height="47.0"/></clipPath><g clip-path="url(#k9)"><path class="d" stroke-opacity="0.7" d="M59 155.5h.1m2.6-.8h.1m-4.9 3.7h.1m4.3-.6h.1m4.7 .3h.1m-12.3 3h.1m1.3-.8h.1m1 1.6h.1m.5-2.4h.1m0 .3h.1m.2 1.1h.1m0-1.5h.1m.5 2h.1m0-.9h.1m.1-.1h.1m.2 1.3h.1m.6-.1h.1m.9-1.2h.1m.6 .8h.1m0-1.1h.1m0 1.8h.1m0-1.5h.1m.4 1.2h.1m.2-2.4h.1m.5 1.7h.1m.3 .6h.1m.4 .4h.1m-.1-1.8h.1m1.9-.6h.1m1.8 1.6h.1m-12.4 2.5h.1m.9 0h.1m0-.8h.1m.1 .2h.1m.3 1.3h.1m-.1-.4h.1m.4 .4h.1m.1-.8h.1m0-.5h.1m0 .9h.1m0-.5h.1m0-.9h.1m.1 1.6h.1m.2-1h.1m-.1 1.6h.1m-.1-.1h.1m.1-.2h.1m0-1.7h.1m0 .6h.1m.3 .5h.1m.2 .7h.1m0-1h.1m0 .7h.1m0-2.1h.1m0 1.9h.1m0-.2h.1m-.1-1.6h.1m-.1 1.2h.1m0 0h.1m0 1h.1m.2-.2h.1m-.1 .6h.1m0-2.7h.1m-.1 1.9h.1m.4-.4h.1m0-.9h.1m0 1.6h.1m0-1.3h.1m-.1 1.4h.1m.1-.9h.1m0 1.4h.1m0-2.9h.1m0 2.3h.1m0-1.6h.1m-.1 1.7h.1m.3-1.4h.1m0 1h.1m0 .3h.1m.2-1.1h.1m.2-.7h.1m.6-.1h.1m.5 2.1h.1m1.2-.4h.1m.1-.1h.1m.3-1.8h.1m.6 1.8h.1m-13.8 2.4h.1m1-.4h.1m1.7 1.4h.1m.5-.1h.1m.1-1.8h.1m.6-.5h.1m-.1 1.2h.1m.1 .3h.1m.2 .1h.1m-.1-1.1h.1m0 .6h.1m.4-.2h.1m.1 .1h.1m.4 .8h.1m0 .8h.1m0-2.5h.1m.3 .8h.1m.1 .7h.1m-.1 .2h.1m0-.1h.1m0-.5h.1m-.1-1.1h.1m-.1 .9h.1m0 .7h.1m0-1.4h.1m-.1 .1h.1m.2 0h.1m0 2.1h.1m-.1-.2h.1m0-2h.1m.2 .3h.1m.1-.3h.1m0 1.1h.1m.4-1h.1m.4 2h.1m.1-.5h.1m0-1.3h.1m.3-.4h.1m0 1.2h.1m0-.1h.1m1.1-.3h.1m5.2 .6h.1m-15.8 2.5h.1m2.9 0h.1m1-.4h.1m.8 .1h.1m.3 2h.1m.2-1.4h.1m-.1-1.1h.1m.5-.3h.1m1.3 2.5h.1m1.8-1.5h.1m-7.1 3.6h.1m5.6-1.4h.1"/><path class="d" stroke-opacity="0.7" d="M66.4 155.9h.1m-14.1 2.9h.1m.7 .1h.1m3.5 0h.1m1.7-1.1h.1m.1 .9h.1m1.8-.3h.1m-4.6 2.8h.1m-.1-1.3h.1m1.5-.8h.1m.4 2.4h.1m1.2-1.5h.1m.5 1.6h.1m0-.8h.1m.2 .5h.1m.2 .2h.1m0-.5h.1m-.1 .5h.1m.3-1.1h.1m0 1.3h.1m.3-.3h.1m.4-1.5h.1m.1 .5h.1m.5-.3h.1m0-.5h.1m1.1 2.1h.1m.5-1h.1m.3-.5h.1m1.4-.5h.1m.9 .3h.1m-12.3 4.9h.1m0-1.6h.1m.3-1.1h.1m.1 1.5h.1m.8 .6h.1m0-.9h.1m.1 1.2h.1m0-.6h.1m.2 .5h.1m-.1 .1h.1m.2-.6h.1m.2-.2h.1m0-.5h.1m.1-.3h.1m-.1-.2h.1m.1 1.7h.1m.1-.5h.1m.1-.7h.1m0 1.2h.1m0-1.5h.1m-.1-.6h.1m0-.3h.1m-.1 2.8h.1m.1-1.2h.1m.4 1h.1m-.1-1.1h.1m0 1.1h.1m-.1-.9h.1m.1 .6h.1m-.1-.9h.1m.3 0h.1m0-1h.1m.1 1.4h.1m-.1-.6h.1m1.3 1.6h.1m.1-.5h.1m0-1.9h.1m0 .1h.1m-.1-.1h.1m0 2.2h.1m-.1-.6h.1m.2 .2h.1m-.1-.3h.1m.1 .3h.1m.5-1.9h.1m.7 .4h.1m.6 .4h.1m-.1 1h.1m-13.5 2.5h.1m2.8-.4h.1m0-.7h.1m.1 .4h.1m1.1 .4h.1m.2 0h.1m.3 .8h.1m.2-.7h.1m-.1 .9h.1m0-1.3h.1m.1 1.3h.1m0-.6h.1m0 0h.1m0-1.2h.1m0-.4h.1m-.1 2.3h.1m0-.7h.1m-.1-.2h.1m.3 1.2h.1m-.1-2h.1m0-.2h.1m.4 1.9h.1m0-1.8h.1m0-.7h.1m0 .9h.1m.1-.5h.1m0 1h.1m0 .9h.1m0-.8h.1m0-1.3h.1m1 .9h.1m.1-.6h.1m-.1 2.1h.1m.5-2.1h.1m.1-.5h.1m-.1 .6h.1m.4 1.3h.1m-.1-1.7h.1m0 1.6h.1m1-.6h.1m.4-.8h.1m-9.4 4.7h.1m2.4 .2h.1m.2-1.1h.1m.7-.7h.1m.4 1.7h.1m.1-1.9h.1m-.1 .8h.1m.2 .5h.1m-.1-.3h.1m-.1 .9h.1m-.1-1.9h.1m.2 1.8h.1m.8-1.2h.1m.1 1.3h.1m.6-1.3h.1m.1-.3h.1m-.1 1.2h.1m.5 1h.1m.3-1h.1m.7 .7h.1m-3.4 .7h.1"/><path class="d" stroke-opacity="0.7" d="M65.5 155.5h.1m-9.8 1.2h.1m.7 1.6h.1m1.2-.6h.1m1.1 .7h.1m1.1-.9h.1m.2 .6h.1m.3-.8h.1m.1 1.2h.1m4.9-1.9h.1m-8.9 3.4h.1m-.1 1.4h.1m.5-1.5h.1m.1 0h.1m.5 1.8h.1m.3-1.5h.1m.1 1.4h.1m.2 .2h.1m-.1-.6h.1m0 .4h.1m0-.4h.1m.7-.7h.1m-.1 .4h.1m.3-.6h.1m.1 1.5h.1m-.1-2h.1m.5-.6h.1m.6 2.2h.1m-.1-.4h.1m0-.1h.1m.9 .2h.1m0 .2h.1m.6-.4h.1m.7-.9h.1m.2 1.3h.1m-11.9 2.8h.1m.2-1.7h.1m1.1 .3h.1m.9 1.5h.1m.6 .3h.1m0-1.2h.1m.9 1h.1m.2-2.2h.1m0 2h.1m.2-1.4h.1m.1 1.6h.1m.1 0h.1m-.1-1.4h.1m-.1 1.3h.1m-.1-1.7h.1m.1 .7h.1m0-1h.1m.2 .7h.1m-.1 1.8h.1m-.1-2.5h.1m0 2h.1m.1-.6h.1m.3 .9h.1m.1 .1h.1m-.1-.5h.1m.1 .3h.1m0-1.3h.1m-.1 .6h.1m0-1.1h.1m0 1.7h.1m0-1.8h.1m.1 .6h.1m.2 1.2h.1m.4-.6h.1m0-1.3h.1m0 2.1h.1m.2-.7h.1m-.1-1.7h.1m.1 .9h.1m.1 1h.1m.4 .9h.1m.5-1.3h.1m0 .2h.1m-.1 .6h.1m.1 .5h.1m2.1-1.9h.1m-15.4 3.8h.1m3.8-1.4h.1m.2 1.7h.1m.3 .1h.1m.1-1h.1m.1 1h.1m0 .3h.1m.4 .4h.1m.5-1.1h.1m.2 .3h.1m0-.1h.1m-.1 .1h.1m.7 0h.1m.4-1.6h.1m.1 1.9h.1m0-1.9h.1m.2-.1h.1m-.1 .8h.1m0 .4h.1m0 .4h.1m-.1-.3h.1m.2-1.2h.1m0 .3h.1m0 2.1h.1m.3-2.7h.1m.1 1.9h.1m.1 0h.1m.2-1.6h.1m.1 .2h.1m.1-.6h.1m0 .6h.1m.1 0h.1m-.1 .3h.1m.9 .4h.1m.1-.5h.1m-.1 1.6h.1m.1 .3h.1m.1-2.2h.1m.2 2.2h.1m.1-2.4h.1m.3 .2h.1m.8 .1h.1m-12 3.3h.1m3.5 .1h.1m.2 1.5h.1m.3-1.2h.1m.4 1.3h.1m0-1.7h.1m0 0h.1m.5-.8h.1m.9 1.4h.1m.6-1h.1m.4 1.7h.1m-.1 .3h.1m.3-1.9h.1m.6-.6h.1m2.8 .9h.1m-4.4 4h.1m2-1.3h.1"/><path class="d" stroke-opacity="0.5" d="M51.3 152.9h.1m.2 0h.1m-10.7 1.6h.1m5.1 1.3h.1m2.1-1.5h.1m5.2-.8h.1m.1-.2h.1m4 2.2h.1m-11.2 1.8h.1m.2 .5h.1m1.7 1.1h.1m-.1-1.9h.1m.6 1.8h.1m.4-.3h.1m.1-.2h.1m.9-1.9h.1m.5 .6h.1m.1-.4h.1m-.1-.3h.1m.3 1.2h.1m.2 1.4h.1m1.2-1.2h.1m1.1 1.2h.1m-.1-1.8h.1m0-.6h.1m0 .3h.1m0 .8h.1m0 1.2h.1m0-.4h.1m.1-2.4h.1m1 1.3h.1m.1-1.2h.1m0 2.4h.1m.1 .3h.1m0-1.6h.1m.6-.4h.1m.2 .3h.1m.2-.4h.1m.6 .2h.1m9.3 1.3h.1m-23.4 2h.1m3.2 1.6h.1m1.1-1.1h.1m.8-.9h.1m.1 .2h.1m.1-.6h.1m-.1 2.5h.1m1.1-2.4h.1m0-.5h.1m.6 2.3h.1m-.1-1.2h.1m1.1 1h.1m.3-1.6h.1m.9 1.2h.1m.4 .3h.1m1.3-.8h.1m.2 .5h.1m.4 .7h.1m.1-.8h.1m.1 .6h.1m.5-1.7h.1m.5 .4h.1m1.3 .9h.1m.1 1.1h.1m1.5-2.8h.1m-21.6 5.2h.1m5.6-1.4h.1m3.6-.4h.1m1.3 .6h.1m.5-.4h.1m1.3-.5h.1m1.9 0h.1m.9 .3h.1m2 .8h.1"/><path class="d" stroke-opacity="0.5" d="M53.4 150.9h.1m-3.8 4.3h.1m2.4-.6h.1m2.5 .1h.1m.9-.2h.1m-9.4 3.3h.1m.9-1.2h.1m-.1 .9h.1m.1-1.4h.1m-.1 .6h.1m.4 1.3h.1m0 .4h.1m.3-1.2h.1m1 .5h.1m1-1.3h.1m0 .2h.1m.3 .2h.1m.6-.5h.1m.5-.3h.1m1 .6h.1m0 1.8h.1m0-1.8h.1m.6 1.7h.1m.5 .6h.1m.3-1.6h.1m.1-.1h.1m2.4 0h.1m.6 .7h.1m.7 0h.1m.4-.1h.1m-14.6 2.9h.1m2.1-.7h.1m1 1.8h.1m.5-1.7h.1m.3 .5h.1m.6-.7h.1m.1 0h.1m.1 1h.1m.7 .6h.1m0-2.3h.1m0 1.4h.1m.4 .4h.1m.3-.1h.1m.2-1.6h.1m0 .2h.1m.3 1.4h.1m.5-1.2h.1m.8-.7h.1m0 2.7h.1m.4-.1h.1m.4 .3h.1m.6-2.7h.1m1.2 1.6h.1m.5-.1h.1m.8-1.5h.1m.2 1.8h.1m.2-1.5h.1m-.1 .3h.1m1.6-.1h.1m-18.4 2.9h.1m2.8-.6h.1m.5 .5h.1m3.5-.2h.1m1 1.5h.1m.1-1.1h.1m0 .1h.1m.2 .2h.1m1.1-.3h.1m-.1-.1h.1m2.6 .3h.1m.1 1.5h.1m1.9-1.5h.1m3.1 2.3h.1"/><path class="d" stroke-opacity="0.5" d="M48.7 155h.1m1.6 .9h.1m.1-.1h.1m.8-1h.1m.4 .9h.1m6.3-.2h.1m3.7-.2h.1m-16.1 2h.1m1.2 1.5h.1m.9-.4h.1m.9-.9h.1m.4 .5h.1m.1 .2h.1m.1-.7h.1m.1 .9h.1m-.1 .3h.1m.8 .2h.1m.5-2.2h.1m.9 .9h.1m.5 .6h.1m.8-.6h.1m.2 1.1h.1m0-.5h.1m.3-1.2h.1m0 1.3h.1m.3-.9h.1m.8-1.3h.1m.6 2.1h.1m.3 .3h.1m0-1.5h.1m-.1 1.5h.1m.7 .1h.1m.4-1.1h.1m.4 1.4h.1m0-.6h.1m-13.7 3.1h.1m1.4 .2h.1m.1-2.1h.1m1.3 0h.1m-.1 1.9h.1m1.1-1.8h.1m.1 1.7h.1m.1-1.1h.1m.4-.6h.1m.9 1.1h.1m.5-.5h.1m.8-.6h.1m.4 .2h.1m.1 .8h.1m.2 0h.1m0-.5h.1m-.1 .7h.1m0 .2h.1m.3 .9h.1m.4-1.7h.1m.3-1.2h.1m0 1.5h.1m.5-1.1h.1m.6 .4h.1m.3 .3h.1m.2 .6h.1m-.1 0h.1m2.4-.6h.1m-10.4 2.3h.1m.3 2.3h.1m1.3-1.6h.1m1.4-1h.1m.3 .3h.1m3.2 .1h.1m.1 1.9h.1m.8-.8h.1m.1-.2h.1m-17.6 1.8h.1"/><path class="d" stroke-opacity="0.4" d="M33 154.8h.1m3.1-.3h.1m0 1.3h.1m4.6-.5h.1m.2-.1h.1m-8.9 1.4h.1m1.2 1.3h.1m1.2 .9h.1m.2-1.3h.1m0-1.5h.1m0 .8h.1m.3 1.5h.1m-.1 .2h.1m3-.5h.1m.1-1.5h.1m0 .8h.1m0 .9h.1m1 .1h.1m.3 .6h.1m.4-1.6h.1m.1-.2h.1m.4 0h.1m-.1 1.7h.1m0-1.1h.1m.7 1h.1m0-.6h.1m.7-.5h.1m1-.9h.1m.3 1.8h.1m.2 .2h.1m.1-.1h.1m.2-1.1h.1m.3-.5h.1m-11.3 2.8h.1m1.1 0h.1m.6-.4h.1m3.8 .1h.1m2.6 1.1h.1m.9-.1h.1m.3 .3h.1m.1-1.1h.1m.2-.3h.1m2.2 1.7h.1"/><path class="d" stroke-opacity="0.4" d="M33.5 154.1h.1m3.4 1.4h.1m.2-.8h.1m.4 .1h.1m5.5-.2h.1m.3 .2h.1m2.9 .6h.1m-14.1 2.6h.1m0 .8h.1m.4-1.7h.1m.1 .2h.1m.8-1h.1m.1 1.7h.1m0 .7h.1m2.1-1.9h.1m.2 .1h.1m.5 1.1h.1m.2-.3h.1m1.4-.7h.1m.2 .7h.1m.2 .8h.1m1.2 .1h.1m.4 .1h.1m.2 .2h.1m.6-1.4h.1m-.1 .6h.1m1.3-2h.1m1.1 1.8h.1m-.1 .2h.1m.4-1.6h.1m1.7 1.3h.1m-12.8 1.8h.1m0-.6h.1m.3 .3h.1m-.1-.2h.1m1.4 .4h.1m3.8-.3h.1m3.2 1.3h.1m1-1.1h.1m.3 1.5h.1m.3-1h.1m.1 1.2h.1m-8 1.6h.1"/><path class="d" stroke-opacity="0.4" d="M36 155.8h.1m1.3 .1h.1m.4-2.7h.1m1.3 2.7h.1m.9-.1h.1m8.3-.8h.1m-14.1 1.9h.1m1.1 1.2h.1m.1 .1h.1m0 .4h.1m.2-1.6h.1m.3 .1h.1m-.1-.2h.1m.1-.9h.1m0 1.7h.1m0-.5h.1m.2 .2h.1m.2 1.5h.1m.1-.6h.1m0-.4h.1m1 .9h.1m.3-.8h.1m0-.1h.1m.3-.2h.1m1.8-.6h.1m.1 1.4h.1m0-.5h.1m.7-1h.1m.1 .2h.1m.1-.1h.1m.2 .3h.1m1.3 .1h.1m1.3 .6h.1m1.5-.1h.1m-13.1 1.7h.1m0-.4h.1m-.1-.2h.1m4.3 .3h.1m2.9 .1h.1m.3-.1h.1m.8 .3h.1m.9 .2h.1m1.1-.7h.1"/><path class="d" stroke-opacity="0.4" d="M54.7 161.7h.1m7.1-1.6h.1m-13 4.3h.1m.8-.5h.1m3.4 1h.1m1.4-.8h.1m.7-2h.1m5.1 2.3h.1m-13.1 1.9h.1m2.6 0h.1m.8 .9h.1m0-2h.1m1.1 2.4h.1m5.6-1h.1m-.1-.1h.1m.1 1h.1m2.3-.7h.1m.2 .8h.1m3.7-1.8h.1m4.6 1.9h.1m-22.7 1.2h.1m1.3 .2h.1m2.9-1.1h.1m.2 1.6h.1m0-1.2h.1m3.5-.3h.1m1.6 1.2h.1m2.1 .6h.1m3.9 .1h.1m-11.5 3.5h.1m2.2-.8h.1m3.4-.4h.1m1.9 1.5h.1m-10.7 1.9h.1m1.9-1h.1m5.2-.6h.1m4.9 3.1h.1"/><path class="d" stroke-opacity="0.4" d="M49.1 157.8h.1m5.8 1.1h.1m15.1-2.2h.1m-23.7 2.6h.1m2.9 .4h.1m2.5 2.1h.1m3.4-2.5h.1m-6.5 3.9h.1m1.2 1.6h.1m1-2.2h.1m.6 .2h.1m1.7 1.1h.1m1.3 .9h.1m1.3-1.9h.1m.1 1h.1m2-1.4h.1m-15.6 4.3h.1m3.4 .8h.1m1 .2h.1m.3-1.4h.1m2.8 .9h.1m2.7-.1h.1m2.5-1.9h.1m.1-.2h.1m3.8 2.3h.1m-24.5 1.7h.1m13.9-.3h.1m2 0h.1m4.9 .6h.1m-12 3.9h.1m7.7-2.3h.1m.7 1.9h.1m.8 .7h.1m.3-1.3h.1m-3 4.2h.1m5.3-2.1h.1m.1 .8h.1"/><path class="d" stroke-opacity="0.4" d="M52.6 158.7h.1m-10.6 1.2h.1m0-.7h.1m7.8 2h.1m1.3 .2h.1m4.6-1.4h.1m-6 2.2h.1m4.4 2.4h.1m4.1 .3h.1m-.1-1.6h.1m-11 4.3h.1m2.4 0h.1m2.3-.1h.1m.3-.9h.1m.6 .8h.1m3.4 .2h.1m2-2.1h.1m.3 .7h.1m2.8 1.4h.1m-13.2 .4h.1m1.6 1.1h.1m.5-.8h.1m-.1 1.9h.1m4.2-2.1h.1m.9 1.4h.1m5.4-.1h.1m-11.3 1.6h.1m2.9 2.6h.1m2.4-2.2h.1m.7-.1h.1m1.8 .2h.1m-12.8 3.5h.1m1.6-.4h.1m6.9-.3h.1m3.4 4.9h.1m0-2.1h.1"/><path class="d" stroke-opacity="0.15" d="M48.7 167.9h.1m.9-1.2h.1m3.7 .5h.1m9.2-.8h.1m1.6 .7h.1m-14.8 2h.1m7.8 1.7h.1m-14.7 1.6h.1m.6 .5h.1m12.8-1.1h.1m4.5-.6h.1m-18.6 4.1h.1m4.6 1.3h.1m4.3-1h.1m5.9-.7h.1m4.4 1.7h.1m-17.5 1.2h.1m19.6 0h.1m.2 3.5h.1m-22.8 4.3h.1m7.5 .2h.1m10.4-2.1h.1m-17.8 3.6h.1m9.9 .4h.1m1.2-1.7h.1m9.2 .8h.1"/><path class="d" stroke-opacity="0.15" d="M50.4 167.7h.1m2.5-.9h.1m3.4 .3h.1m-10.3 1.5h.1m2 .9h.1m5.5-1.2h.1m7.5 .3h.1m1-.6h.1m1.4 2.6h.1m.5-.8h.1m-8.3 2.6h.1m-6.4 4h.1m15.4-.7h.1m-20 3.8h.1m-.7 .8h.1m.7 2.6h.1m.2-1.7h.1m.8 .2h.1m10.8-.3h.1m2.1 .3h.1m2.4-.1h.1m-11.6 1.9h.1m11.1 1.7h.1m-10.9 2.8h.1m3.1-.6h.1m3-.2h.1"/><path class="d" stroke-opacity="0.15" d="M43.7 167.6h.1m6.3-1.1h.1m8.9-.1h.1m1.1 .4h.1m-15.3 3h.1m9.9 .1h.1m4.7 1h.1m-17.4 .9h.1m2.9-.5h.1m.1 1.3h.1m3.1 .8h.1m15.2-1.2h.1m-18.3 2.6h.1m12.8 .4h.1m2.9-.6h.1m.8 .4h.1m-15.1 2.4h.1m2.1 4h.1m6.1-1h.1m4.9-.1h.1m1.8 2.6h.1m-16.2 2.7h.1m3-1.8h.1m1.2 1.9h.1m-.1-1.9h.1m.6 4h.1"/><path class="d" stroke-opacity="0.15" d="M39.3 165.8h.1m3.3 0h.1m-3.5 5h.1m4-2.5h.1m-3.8 13.8h.1"/><path class="d" stroke-opacity="0.15" d="M42 175.2h.1m-1.5 5.9h.1m-6.9 3.5h.1m9-.3h.1"/><path class="d" stroke-opacity="0.15" d="M41.7 173.9h.1m1.5 .7h.1m-4.7 9.3h.1m-3.4 2.9h.1"/></g><rect x="31" y="144.8" width="50.599999999999994" height="47.0" fill="none" stroke="#555" stroke-width=".8"/><path d="M43.6 144.8V191.8M31 178.2H81.6" stroke="#444" stroke-width=".8" fill="none"/><path d="M31.5 160.4H81.6" stroke="#222" stroke-width="1.1" stroke-dasharray="2.2 1.8" fill="none"/><text x="80.5" y="150.6" font-size="6.3" font-weight="bold" text-anchor="end" fill="#000">41</text><text x="80.5" y="168.0" font-size="6.3" font-weight="bold" text-anchor="end" fill="#000">56</text><text x="80.5" y="184.4" font-size="6.3" font-weight="bold" text-anchor="end" fill="#000">4</text><text x="31" y="196.4" font-size="4.2" fill="#666" text-anchor="middle" transform="rotate(-30 31 195.3)">10</text><text x="43.6" y="196.4" font-size="4.2" fill="#666" text-anchor="middle" transform="rotate(-30 43.6 195.3)">10</text><text x="56.3" y="196.4" font-size="4.2" fill="#666" text-anchor="middle" transform="rotate(-30 56.3 195.3)">10</text><text x="68.9" y="196.4" font-size="4.2" fill="#666" text-anchor="middle" transform="rotate(-30 68.9 195.3)">10</text><text x="81.6" y="196.4" font-size="4.2" fill="#666" text-anchor="middle" transform="rotate(-30 81.6 195.3)">10</text><text x="28.4" y="191.8" font-size="4.2" fill="#666" text-anchor="middle" transform="rotate(-90 28.4 191.8)">10</text><text x="28.4" y="180.1" font-size="4.2" fill="#666" text-anchor="middle" transform="rotate(-90 28.4 180.1)">10</text><text x="28.4" y="168.3" font-size="4.2" fill="#666" text-anchor="middle" transform="rotate(-90 28.4 168.3)">10</text><text x="28.4" y="156.6" font-size="4.2" fill="#666" text-anchor="middle" transform="rotate(-90 28.4 156.6)">10</text><text x="28.4" y="144.8" font-size="4.2" fill="#666" text-anchor="middle" transform="rotate(-90 28.4 144.8)">10</text><clipPath id="k10"><rect x="98.5" y="144.8" width="50.599999999999994" height="47.0"/></clipPath><g clip-path="url(#k10)"><path class="d" stroke-opacity="0.7" d="M125.6 157.8h.1m4 .3h.1m1.3 0h.1m-.1 .3h.1m.2 .5h.1m-4.1 2.5h.1m.6-2.2h.1m.6 2.1h.1m0-1.8h.1m.7 1.4h.1m.6 .5h.1m.5-1.4h.1m.1 .3h.1m.1 1.2h.1m0-2.3h.1m.4 1.7h.1m-.1-.8h.1m.4 1.7h.1m-.1-1.1h.1m1.3 1.1h.1m-.1-1.8h.1m.1 1h.1m.8 .9h.1m0-.3h.1m.2-1.7h.1m0 1.7h.1m0-.3h.1m.2-.8h.1m.4-.8h.1m-12.7 2.9h.1m1.4 1.6h.1m1.6-1.9h.1m0 .8h.1m0-.2h.1m.1 0h.1m.1-.1h.1m.2 1.3h.1m.2-.9h.1m.2 .2h.1m0 1.2h.1m-.1-1.6h.1m0-.3h.1m-.1-.6h.1m0 1.1h.1m-.1-.7h.1m1 0h.1m0-.1h.1m-.1 1.6h.1m.1-1.4h.1m-.1 1.1h.1m.7-.8h.1m-.1 1.8h.1m.3-2.6h.1m.3 .2h.1m.3 .9h.1m.1-.2h.1m.1 .6h.1m-.1 .6h.1m.2 .2h.1m1.4-.6h.1m1.1-.3h.1m.8 .5h.1m.1-.2h.1m-15 2.9h.1m1.9 1.1h.1m1.3-.1h.1m.4-2h.1m.3 .2h.1m0 1.9h.1m1-.2h.1m.1-.3h.1m.1-1.9h.1m.3 1.4h.1m.2 .5h.1m0 .5h.1m.2-1.4h.1m.2-.8h.1m-.1 .8h.1m0 1.3h.1m0-2h.1m.5 1.4h.1m.2-2.1h.1m.1 .6h.1m.1 2.3h.1m0-1.8h.1m.9 1.2h.1m.2-1h.1m.1 1.3h.1m.1-2.1h.1m.3 1.5h.1m.3-1h.1m.8 .9h.1m.3-1.5h.1m.1 1h.1m.1-.2h.1m-.1 1.6h.1m.3-.8h.1m.2-1.3h.1m.9 1.8h.1m-12.1 3.2h.1m.4-2.3h.1m.4 1.7h.1m.5-1.8h.1m.2 1.1h.1m.1-1h.1m.7 .7h.1m.3-.9h.1m.2 1.8h.1m.1-1.9h.1m.2 .6h.1m-.1 2h.1m.2-2.2h.1m.2 .8h.1m.4-.4h.1m.1 0h.1m.1 1.4h.1m.2 .6h.1m.5-.5h.1m0-1.8h.1m0 .6h.1m.1 1.7h.1m.4-2.5h.1m.2 .9h.1m.1-.4h.1m0 1.6h.1m.3-1.2h.1m0-.5h.1m.8-.8h.1m.2 1.1h.1m0-.4h.1m1.2 1.3h.1m-8.3 1.6h.1m1.3 2.3h.1m2.2-2.6h.1m.2 2.4h.1m1.3-1.7h.1m.1-.3h.1m1.2 .1h.1m-8.4 7.1h.1m7.2-1.7h.1"/><path class="d" stroke-opacity="0.7" d="M131.7 153.6h.1m1.6-.5h.1m-5.2 5.7h.1m2.5-1.5h.1m4 .2h.1m-9.6 3.1h.1m.1 .7h.1m1.9 .1h.1m.9 .3h.1m.5-.9h.1m.9-1.1h.1m.2 2h.1m.2-1.5h.1m1.1 1.3h.1m.4-.8h.1m.3 .2h.1m1 .9h.1m.2-.8h.1m.9-.2h.1m1.5 .3h.1m-12.8 1.1h.1m.2 2.6h.1m.7-1.1h.1m.6 .5h.1m1.2-.4h.1m.1 .4h.1m.2-1.8h.1m.3 .5h.1m.2 1.9h.1m.1 0h.1m-.1-1.7h.1m.2 .3h.1m.1-.6h.1m.1 .4h.1m.2 1.3h.1m.1 0h.1m0-1.1h.1m-.1 .1h.1m1.1 .1h.1m0 .6h.1m-.1-.7h.1m-.1 .6h.1m.3-.8h.1m-.1 .2h.1m0 1.1h.1m.3-1.2h.1m.1 .3h.1m0-1.1h.1m.3 1.2h.1m.2-.1h.1m.4 1h.1m2.3-.8h.1m2.8-1.4h.1m-14.6 5.4h.1m0-.2h.1m-.1-2.1h.1m.9 .1h.1m1.5-.3h.1m.4 1.7h.1m0-1.2h.1m0 1.3h.1m.7-1.8h.1m-.1 .6h.1m.3-.9h.1m-.1 .4h.1m.1 1.8h.1m-.1-1h.1m.3 .1h.1m-.1 1.5h.1m0-1.6h.1m.1 .4h.1m0-.3h.1m.3 .9h.1m.3-1.6h.1m0 .1h.1m0-.5h.1m.1 0h.1m-.1 1.4h.1m.2 0h.1m.4-.3h.1m0 .4h.1m0-.1h.1m0 .3h.1m0-1.2h.1m.1 .7h.1m0 1h.1m.3-2.2h.1m.4 2.3h.1m.2-.7h.1m.1 1h.1m.1-1.3h.1m.3 .5h.1m.4 .5h.1m.6-.5h.1m.5-.7h.1m-12.7 3.5h.1m0-1.7h.1m1.8 2.3h.1m.1-.4h.1m1.3-1.4h.1m.3 1h.1m.1 .6h.1m-.1 .3h.1m.1-2.4h.1m.2 1.7h.1m.2-1.8h.1m0 .1h.1m.1 .6h.1m0 1.7h.1m0 .2h.1m0-1.9h.1m0 .8h.1m.1-1.6h.1m-.1 1.6h.1m.1-.1h.1m0-.8h.1m.2-.6h.1m0 .9h.1m0 0h.1m-.1 1.2h.1m0-.3h.1m.6-.4h.1m.9 .5h.1m.8 .5h.1m0-1.4h.1m0 1.4h.1m.1-1.6h.1m-.1-.8h.1m0 .8h.1m.2 .3h.1m.9 0h.1m.5-.2h.1m-8.9 3.9h.1m1.9 1h.1m.7-2.9h.1m.5 1.1h.1m2.2 1h.1m-4.6 1.3h.1m2.5-.3h.1m1.4 1.7h.1"/><path class="d" stroke-opacity="0.7" d="M126 155.9h.1m.3 2h.1m3.3-.4h.1m-4.4 3.2h.1m-.1-1.7h.1m2.5 .9h.1m0 .1h.1m.2 .3h.1m.3 1.5h.1m.5-.5h.1m1.1 .5h.1m.3-.9h.1m.7 .5h.1m.4-.3h.1m1.1-.4h.1m.4 0h.1m1.1 .8h.1m0-.1h.1m-8.9 .6h.1m0 2.1h.1m0 .8h.1m.2-.7h.1m.1-.4h.1m0 1.1h.1m-.1-1.5h.1m.1-.1h.1m0-1.1h.1m.1 .4h.1m0-.4h.1m.9 1.4h.1m.1 .7h.1m0-1.4h.1m1.1-.1h.1m-.1 1.2h.1m.2-.6h.1m.2 .4h.1m0 .5h.1m.2-.2h.1m.1-.9h.1m.2-.5h.1m.6 1.9h.1m0-.9h.1m.8-1.3h.1m.1 1.8h.1m.3-.9h.1m.1 .8h.1m1.1-1.2h.1m-10.6 3.2h.1m.7-.7h.1m0 1h.1m.6-.6h.1m.2 .8h.1m0-.6h.1m.3-.2h.1m.1 .1h.1m0 .7h.1m.5-.1h.1m0-.3h.1m0 .1h.1m.1 .6h.1m.1-1.8h.1m.1 .6h.1m0 1.4h.1m.2-.8h.1m-.1-.3h.1m-.1 .5h.1m0-.6h.1m.1 .4h.1m-.1 .3h.1m0-.2h.1m-.1-.5h.1m.2-.8h.1m-.1 2.1h.1m-.1-.4h.1m.2 .1h.1m0-1.6h.1m.2 .7h.1m0 1.5h.1m0-2.4h.1m0 1.9h.1m.1-1.1h.1m0 1.4h.1m1.6-1.7h.1m-.1 0h.1m0 2.3h.1m.1-.7h.1m-.1-.6h.1m1.3-.5h.1m.8 1.1h.1m-10.6 3h.1m.5-1.9h.1m1 1.7h.1m.2-.7h.1m.5 0h.1m0 .3h.1m.3-.4h.1m.2 1h.1m0-2.2h.1m0 1.5h.1m0 1.1h.1m.2-1.3h.1m.1 1.4h.1m0-.7h.1m0-1.6h.1m-.1 1.5h.1m.5-.1h.1m0-1.6h.1m.8 2.4h.1m0-2.2h.1m0 2.3h.1m.2-2.5h.1m-.1 2h.1m.5-1.7h.1m.5-.2h.1m.3 1.9h.1m-.1-1.6h.1m.4 1h.1m.1 .8h.1m.8-2.3h.1m0 2.4h.1m1.6-.8h.1m.3-.2h.1m-12.6 1.5h.1m.8 1.4h.1m2.4-1.2h.1m0 1.4h.1m.5-.1h.1m.2-1.3h.1m.8 0h.1m-.1 1h.1m1.5 0h.1m.3 0h.1m0-.4h.1m.1 .2h.1m0 .1h.1m.4 1.4h.1m.1-.4h.1m2.5 .8h.1m-6.4 .9h.1m4.6-.6h.1"/><path class="d" stroke-opacity="0.5" d="M101.1 154.4h.1m1.4 1h.1m.2-.2h.1m.6 .6h.1m.4-.9h.1m2.7 .7h.1m.2-.5h.1m4.3-1.6h.1m.3 1.6h.1m.2 .7h.1m.2-.1h.1m1.7-.9h.1m1.2-.1h.1m.8 1.1h.1m.8-.1h.1m5.1-.1h.1m-22.6 1.8h.1m1.2 0h.1m.3-1.3h.1m.4 2.8h.1m0-1h.1m.7-.8h.1m0 .5h.1m.2 1h.1m.1-.5h.1m.2-1.6h.1m-.1 1.2h.1m.1-.9h.1m.2-.2h.1m0 .4h.1m.1-.9h.1m0 1.9h.1m0-1.6h.1m.1 1.1h.1m0-.4h.1m.5-1h.1m0 0h.1m.7 1.9h.1m.2-1.9h.1m.3 1.3h.1m.2 .4h.1m-.1 .6h.1m-.1 0h.1m0-2h.1m0-.1h.1m1.3 1.8h.1m.1-.6h.1m.4-.3h.1m0-.1h.1m.1-.5h.1m.7 2.2h.1m0-2.2h.1m-.1 .1h.1m.6 2.2h.1m.1-1.6h.1m.3-1.3h.1m.2 2h.1m0-.6h.1m.4-.7h.1m-.1 2h.1m.5-.4h.1m0-1h.1m.5-.4h.1m-.1 1.1h.1m.4 .2h.1m-.1-.2h.1m.4-.1h.1m0-.3h.1m2 .3h.1m0 .3h.1m.2-.1h.1m.3 0h.1m.4 .1h.1m0-.3h.1m.7-.2h.1m.6 .3h.1m-.1 .6h.1m.2-.3h.1m0 .1h.1m0 .1h.1m0-2.5h.1m1 2.9h.1m.5-1.1h.1m.4 .4h.1m1-.1h.1m-.1-.1h.1m.2-.1h.1m.1 .9h.1m0-1.5h.1m.1 .7h.1m.3-1.3h.1m.6 1.8h.1m1.4 .1h.1m-24.8 .8h.1m.3-.2h.1m.8 2h.1m0-.9h.1m.7-1.1h.1m.1-.2h.1m1.7 0h.1m.9 .5h.1m1.4 .2h.1m1.9 1.3h.1m.9-.1h.1m.6-1.5h.1m1.2 .3h.1m.2 .2h.1m.5-.7h.1m1.1 .5h.1m-.1 .1h.1m2.6-.4h.1m.2 2.5h.1m.2-1.8h.1m.7 .2h.1m2.1-1.3h.1m.7 2.6h.1m.2-1.9h.1m.2-.5h.1m.1 1.9h.1m0-1.7h.1m-.1 .5h.1m.1 .5h.1m.1 .4h.1m.1-1.4h.1m0 .9h.1m.8 .4h.1m1.2-.1h.1"/><path class="d" stroke-opacity="0.5" d="M107.2 150.2h.1m-5.7 4.7h.1m.6 .5h.1m.9 .5h.1m1.9-.9h.1m1.9 0h.1m0 .8h.1m2.5-1.1h.1m2.1-.4h.1m1.3 1h.1m1.1 .6h.1m1.5-.1h.1m.4-.1h.1m8.4 .2h.1m.5-.1h.1m.5-.2h.1m-26.3 .8h.1m.5 2.2h.1m1.2-2.1h.1m.2 .7h.1m.3-.4h.1m0-.3h.1m.6-.2h.1m.8 .5h.1m.4 .1h.1m0 .1h.1m.1 .6h.1m0-.4h.1m.1-.6h.1m0 1.2h.1m0-1.4h.1m-.1 .6h.1m0 .2h.1m1.1-.5h.1m.1-.2h.1m.7 .2h.1m-.1 1.3h.1m.1 .4h.1m.2-1.5h.1m.2 .6h.1m.6-.4h.1m.2 .9h.1m0 .2h.1m.8-.9h.1m.4 .1h.1m.2 .8h.1m0-.3h.1m.3 .1h.1m0-.7h.1m.1 1.5h.1m0-1.8h.1m.2 .5h.1m-.1-.4h.1m.3 .8h.1m.3 .7h.1m-.1-1.4h.1m.6-.2h.1m0 1.1h.1m.3-.3h.1m.3 0h.1m-.1-.5h.1m0 .6h.1m.2 .2h.1m0-.3h.1m-.1-.9h.1m.8 1h.1m.7-1.1h.1m.1 .1h.1m0 1.6h.1m-.1-.5h.1m-.1 .1h.1m.6-.8h.1m.1 .1h.1m0 .4h.1m.2-1.2h.1m.1-.2h.1m.1 .3h.1m.7 1.5h.1m.8 .5h.1m.1-1h.1m.4 1.2h.1m.3-1h.1m.3 .2h.1m.3-1.2h.1m-.1 1.8h.1m-.1-1.1h.1m.1 1h.1m-.1-1.4h.1m.1 .6h.1m1-.1h.1m.2 1.2h.1m-.1-1.5h.1m1.5 1.4h.1m-.1-1.8h.1m.4 1.7h.1m0-.8h.1m.8-1.9h.1m-26.2 3.4h.1m1.3-.2h.1m3.6 .1h.1m.5 .6h.1m.5-.5h.1m0-.3h.1m2 .6h.1m3.7 .8h.1m.4-.3h.1m.6-.8h.1m.7 .2h.1m2.8 .9h.1m.8-.4h.1m.3 1.4h.1m.5-2.1h.1m.4 1.6h.1m1.1-2h.1m0 .1h.1m1.1-.1h.1m.1 .1h.1m.1 1h.1m.8-.7h.1m.1 1.9h.1m.3-1.6h.1m1.8 1.1h.1m0-1.1h.1m-1.9 3h.1m.1 .9h.1m.1-1.3h.1m1.2 .7h.1"/><path class="d" stroke-opacity="0.5" d="M99.9 154.4h.1m1 .1h.1m.3 .9h.1m.1 .5h.1m1.2-1.8h.1m.9 1.7h.1m.3-.1h.1m0-.1h.1m1.2-.8h.1m.3 .6h.1m2.2 .3h.1m.1-.2h.1m.8 .1h.1m.8-.3h.1m-.1 .5h.1m5.9-1.4h.1m1.1-.8h.1m3.5 0h.1m2.4 1.1h.1m-22.9 2.5h.1m.1 .2h.1m.4-.3h.1m1 .1h.1m-.1-.6h.1m0 .8h.1m.1-.7h.1m.6-.7h.1m.4 .7h.1m.1 .9h.1m.3-1.6h.1m.1 1.7h.1m.1-1h.1m.1 1.2h.1m.5-.6h.1m0 .3h.1m-.1 .3h.1m.4-1.1h.1m.1-.3h.1m.4 .2h.1m.6 1.5h.1m.4-2.2h.1m-.1 .9h.1m.2-.1h.1m.6 .2h.1m0 .2h.1m.1 1.6h.1m.1-2h.1m.1 1.9h.1m.4-.4h.1m-.1-.9h.1m.5-.5h.1m-.1-.2h.1m-.1 .1h.1m0 .3h.1m0 .6h.1m1.3 .4h.1m.6-1.5h.1m.3-.5h.1m.1 2.7h.1m0-1h.1m.5-.7h.1m.9 .7h.1m.2-1.2h.1m1.1 .5h.1m.1-.1h.1m0 .4h.1m.1 1.5h.1m.4-1.1h.1m-.1 .6h.1m0-1.9h.1m0 0h.1m.8 .1h.1m.4 2.2h.1m.2-.8h.1m0-1.7h.1m.5 1.3h.1m-.1 .9h.1m.1-1.3h.1m.3-.2h.1m-.1 1h.1m.4-.3h.1m0 1.2h.1m0-.3h.1m.6 .2h.1m0-1.6h.1m0 .6h.1m.8 .1h.1m.7-.4h.1m0-.7h.1m.2 1.5h.1m-.1-.3h.1m-.1-.3h.1m.2-1h.1m.2 2h.1m.7-.6h.1m.5 .6h.1m.1-1.9h.1m0 .8h.1m0 .1h.1m.3 1.1h.1m-26.5 .9h.1m3.8 0h.1m3.1-.3h.1m1-.1h.1m1.5-.2h.1m.5 .8h.1m3.4 .8h.1m.5-1.4h.1m1.1-.2h.1m-.1 1.7h.1m.2 .7h.1m.7-1.9h.1m1.9-.6h.1m2.1 1.6h.1m-.1-.8h.1m.4 .6h.1m.1-.3h.1m.2-.8h.1m-.1 .8h.1m.2 .3h.1m1.2-.3h.1m.8-.1h.1m.6-.7h.1m.1 2.5h.1m.1-2.1h.1m.3-.5h.1"/><path class="d" stroke-opacity="0.4" d="M117.1 158.7h.1m13.6 .2h.1m-6.6 3h.1m1.1-2.2h.1m-14.4 3h.1m8.3 2.1h.1m.2-.3h.1m7.5-.7h.1m2.4-1h.1m.9 .9h.1m.2-1.7h.1m-15.8 4.1h.1m1.9 .4h.1m.5 .7h.1m1.4 .6h.1m.7-1h.1m.6-.7h.1m1.5 1.6h.1m.5-1.6h.1m1.6 1.6h.1m3-2.2h.1m-13.4 3.8h.1m5.8 1.5h.1m-.1-1.3h.1m.3-.9h.1m-.1-.5h.1m2.2 .8h.1m.2 1.5h.1m1.2-2h.1m.6 1.7h.1m1.1-1.5h.1m.6 .2h.1m3.1-.4h.1m4.1 1h.1m-23.3 2.8h.1m.8-.8h.1m4 .6h.1m1.1-.3h.1m8.4-.6h.1m7.8 1.8h.1m-20.1 1.6h.1m.2-.5h.1m1.5 .9h.1m.4-.9h.1m7 0h.1m.6 2.9h.1m.2-1.2h.1m-4.3 3.8h.1m9.3 0h.1m-1 1.2h.1"/><path class="d" stroke-opacity="0.4" d="M122.7 154.6h.1m3 .9h.1m1.4 1.3h.1m-7.4 4.9h.1m0 .1h.1m7.5-1.1h.1m-15.7 3h.1m9.3-.1h.1m3.8-1.1h.1m1.1 2.4h.1m.5-1h.1m1.1-1h.1m.2-.8h.1m4.7 2.5h.1m-15.8 1.9h.1m2.9-1h.1m1.2 1.3h.1m3.8 .3h.1m1-.4h.1m.9 1.1h.1m1-.9h.1m2.8-.7h.1m.8-.6h.1m.8-.4h.1m-26.8 3.8h.1m11.6-.2h.1m3.8 0h.1m.9 .9h.1m.6 0h.1m2.4-1.3h.1m.4 0h.1m1 1.6h.1m.6-1.5h.1m.2-.5h.1m8.4 1.3h.1m-25.2 4h.1m6.7-1.4h.1m.5 1.2h.1m.3-.8h.1m3.8-.9h.1m2.5 1.7h.1m.3-.6h.1m-10.9 2.2h.1m1.5 1.9h.1m3.8-.9h.1m0 .5h.1m4.2-1.6h.1m2.9-.3h.1m-1.5 3.1h.1m-1.7 5.4h.1"/><path class="d" stroke-opacity="0.4" d="M130.5 156.3h.1m-10.5 5.1h.1m1.9 .2h.1m.4 0h.1m4.2-.4h.1m.6-1.5h.1m1-.5h.1m-8.4 3.7h.1m1.5 .2h.1m2 0h.1m3.1 1.7h.1m-11.2 1.9h.1m1.2 1.1h.1m3.8-1.4h.1m1 .4h.1m1.2 .8h.1m.9-.4h.1m2.3-1.3h.1m1.8 1.9h.1m.7-1h.1m-12.8 4h.1m.4-1.1h.1m1.2-.1h.1m.7 .3h.1m1-.2h.1m5-1.2h.1m-.1-.1h.1m0 1.2h.1m2.5-.5h.1m1-.6h.1m.8 1h.1m6.3 0h.1m-27.7 1.7h.1m5.6 1.1h.1m2.9 .3h.1m.1 1.3h.1m1.3 0h.1m1.7-.6h.1m.9-1.7h.1m.2 0h.1m2.9-.1h.1m.1 .4h.1m2.5-.4h.1m2.7 .7h.1m.3-.8h.1m1 .4h.1m-8.3 4.8h.1m2.7-1h.1m-9.6 2.2h.1m1.2-.1h.1"/><path class="d" stroke-opacity="0.15" d="M125.6 162.1h.1m19.6 .7h.1m-34.6 3h.1m3 .2h.1m5.7 1.2h.1m5.8-.3h.1m-12.4 2.4h.1m11.9 1h.1m20-2.1h.1m-27.8 3.6h.1m28.1 .8h.1m-40 3.3h.1m30.4 .1h.1m-28.6 3h.1m11.7-.5h.1m-5.4 3.1h.1m.5-.1h.1m-7.5 3h.1m-7.5 2.9h.1m1.8 1.2h.1m9.6-1.6h.1m6.5 .9h.1m18.7 .7h.1m4.8-1h.1m-17.8 1.6h.1m18 .4h.1"/><path class="d" stroke-opacity="0.15" d="M118.2 163.3h.1m13.3 .5h.1m10.7-.8h.1m-14 4.7h.1m-18.2 5h.1m12.5-.3h.1m4.4-1.1h.1m-22.6 3.4h.1m10.8-.4h.1m12.5 2.3h.1m-5.1 1.9h.1m-23.5 2.2h.1m3-.6h.1m3.7 .3h.1m7.5 2.4h.1m0-.9h.1m3.7-1.9h.1m8.2 .4h.1m-4.6 4.4h.1m19.5 1h.1m-27.7 1.2h.1m4.7 1.1h.1m10.6-.7h.1m9.2-.7h.1m-33.3 2.9h.1m1.9 .1h.1"/><path class="d" stroke-opacity="0.15" d="M141.1 164.1h.1m-39.7 1.3h.1m16.8 .6h.1m22-.7h.1m-7.7 4.4h.1m.6 .7h.1m-24.3 1.3h.1m34.3 .9h.1m-27.2 2h.1m9.8 .8h.1m8.8-1h.1m7.3-.4h.1m-29.2 4.7h.1m12.9-.3h.1m-24.8 3.5h.1m8.1-1.6h.1m1.1 .5h.1m14.6 .5h.1m5.3 1.5h.1m2.1 .1h.1m-21.7 3h.1m9-.5h.1m4.2-.4h.1m-15.8 3.7h.1m6.4-1.9h.1m22.8 1.4h.1"/></g><rect x="98.5" y="144.8" width="50.599999999999994" height="47.0" fill="none" stroke="#555" stroke-width=".8"/><path d="M111.6 144.8V191.8M98.5 178.8H149.1" stroke="#444" stroke-width=".8" fill="none"/><path d="M99.0 160.4H149.1" stroke="#222" stroke-width="1.1" stroke-dasharray="2.2 1.8" fill="none"/><text x="148.0" y="150.6" font-size="6.3" font-weight="bold" text-anchor="end" fill="#000">43</text><text x="148.0" y="168.0" font-size="6.3" font-weight="bold" text-anchor="end" fill="#000">54</text><text x="148.0" y="184.4" font-size="6.3" font-weight="bold" text-anchor="end" fill="#000">3</text><text x="98.5" y="196.4" font-size="4.2" fill="#666" text-anchor="middle" transform="rotate(-30 98.5 195.3)">10</text><text x="111.2" y="196.4" font-size="4.2" fill="#666" text-anchor="middle" transform="rotate(-30 111.2 195.3)">10</text><text x="123.8" y="196.4" font-size="4.2" fill="#666" text-anchor="middle" transform="rotate(-30 123.8 195.3)">10</text><text x="136.4" y="196.4" font-size="4.2" fill="#666" text-anchor="middle" transform="rotate(-30 136.4 195.3)">10</text><text x="149.1" y="196.4" font-size="4.2" fill="#666" text-anchor="middle" transform="rotate(-30 149.1 195.3)">10</text><text x="95.9" y="191.8" font-size="4.2" fill="#666" text-anchor="middle" transform="rotate(-90 95.9 191.8)">10</text><text x="95.9" y="180.1" font-size="4.2" fill="#666" text-anchor="middle" transform="rotate(-90 95.9 180.1)">10</text><text x="95.9" y="168.3" font-size="4.2" fill="#666" text-anchor="middle" transform="rotate(-90 95.9 168.3)">10</text><text x="95.9" y="156.6" font-size="4.2" fill="#666" text-anchor="middle" transform="rotate(-90 95.9 156.6)">10</text><text x="95.9" y="144.8" font-size="4.2" fill="#666" text-anchor="middle" transform="rotate(-90 95.9 144.8)">10</text><clipPath id="k11"><rect x="167" y="144.8" width="50.5" height="47.0"/></clipPath><g clip-path="url(#k11)"><path class="d" stroke-opacity="0.5" d="M169 154.8h.1m.5-.2h.1m.4-.2h.1m.1 1h.1m.3-1h.1m.1 .2h.1m1.2 .9h.1m2.3-.6h.1m.3 .9h.1m.3-.5h.1m.9 .4h.1m.1-2h.1m.7 2.1h.1m.1-.2h.1m1.1 .1h.1m.2-.4h.1m.2 .2h.1m.7 0h.1m2 0h.1m0-.6h.1m0 .3h.1m0-.8h.1m.4 1h.1m.3-.9h.1m.6 1.1h.1m.8-.5h.1m.1-.9h.1m.7 1.4h.1m.1 .2h.1m-.1-1.8h.1m.3 1.9h.1m1.4-1.5h.1m0 1.2h.1m1.1 .1h.1m1.6-.2h.1m-.1 0h.1m1.2-.1h.1m-24.1 1.4h.1m.3 .2h.1m.1-.2h.1m.3 .4h.1m1.5 1.1h.1m.2-1.9h.1m.2 .5h.1m-.1 .2h.1m0 .3h.1m0-.8h.1m0 .8h.1m.2 1.3h.1m.3-2.5h.1m0 2h.1m0-1.7h.1m.4-.5h.1m-.1 .3h.1m-.1 .4h.1m0 0h.1m-.1 .1h.1m.8-.7h.1m.2 .2h.1m.4 2.1h.1m.4-.9h.1m0 0h.1m0 .2h.1m0-1.5h.1m.2 .1h.1m.1 1.2h.1m0-1.1h.1m0 .8h.1m0-.5h.1m-.1 .9h.1m.2-1h.1m.4 1.4h.1m.2-1.8h.1m.1 0h.1m0 2.1h.1m.1-1.6h.1m0-.3h.1m.4 2.5h.1m-.1-2.1h.1m-.1 2.1h.1m.1-2.3h.1m0 0h.1m.3 1.9h.1m.3 0h.1m.1-1.8h.1m0 0h.1m.3 1.8h.1m0-.8h.1m.1-1.3h.1m0 2h.1m.6-.5h.1m.3-1.5h.1m.6 2.4h.1m0-.9h.1m.2-.2h.1m.3-.8h.1m.1 .5h.1m.2-.9h.1m-.1-.2h.1m-.1 1.5h.1m.2 .4h.1m.2-.4h.1m.3 .5h.1m.1-1h.1m0 .8h.1m0-.4h.1m0 .6h.1m.1-.6h.1m.1-1.4h.1m0 .5h.1m.2 1.8h.1m.3-.2h.1m.2-2.3h.1m.3 0h.1m.3 1.8h.1m.2-1.4h.1m-.1-.3h.1m.5 1.4h.1m-.1 0h.1m0 .1h.1m0-.5h.1m.6 1.1h.1m0-1.7h.1m-.1 1h.1m0 .3h.1m.1-.9h.1m.4 0h.1m0 .5h.1m-.1 .5h.1m-.1-1h.1m.1-.3h.1m0-.7h.1m-.1 .9h.1m.2 .8h.1m.3 .5h.1m0 0h.1m0-.2h.1m0-.6h.1m.5 1.4h.1m-.1-.8h.1m.1 .9h.1m0-2.8h.1m0 .1h.1m-.1 .3h.1m.5 .4h.1m.7 1.3h.1m.1 .5h.1m0 .1h.1m-24.9 .5h.1m0-.1h.1m1.2-.2h.1m7.6 1.1h.1m3.1-1h.1m5 .1h.1m0-.2h.1m.7 0h.1m.5 .1h.1m1.2 .1h.1m.3 .5h.1m1.8-.1h.1"/><path class="d" stroke-opacity="0.5" d="M168.6 155.8h.1m.6-.4h.1m-.1-.1h.1m.5 .6h.1m.1-.9h.1m.1-1.4h.1m0 1.8h.1m1.7-1.1h.1m.9 .7h.1m.1 .9h.1m.2-1.7h.1m0 .7h.1m0 .4h.1m.9 0h.1m1.8 .2h.1m.2-.9h.1m.4 1.3h.1m.1-1.7h.1m.9 1.4h.1m2.7-.3h.1m.2 .4h.1m.1-1h.1m0 .7h.1m.5 .3h.1m-.1 .1h.1m.4-1.1h.1m1-.1h.1m.5 1h.1m1.6-1.6h.1m1 1.6h.1m.4-.8h.1m1.4-.1h.1m.1 .6h.1m.3 .6h.1m.4-.7h.1m.7-.2h.1m.2 .9h.1m0-1h.1m1.7 0h.1m.2-1.3h.1m-24.5 2.8h.1m.9-.1h.1m.3 .8h.1m0-.2h.1m.3 .5h.1m-.1-.1h.1m.3-1.1h.1m.6 .9h.1m0-.6h.1m-.1 .9h.1m0-.8h.1m0 .5h.1m.2-.7h.1m.1 1.4h.1m-.1-.6h.1m.3 .4h.1m.2 .1h.1m.1-.3h.1m-.1 .4h.1m.4-.1h.1m.1-.2h.1m0-.4h.1m-.1-.2h.1m-.1 1.8h.1m.2-1.5h.1m0 1.3h.1m.2-2h.1m-.1 1h.1m0-1.4h.1m0 1h.1m.1-.2h.1m0-.8h.1m.6 1.3h.1m0-1.1h.1m.1 2.2h.1m-.1-1.4h.1m.5-.8h.1m.3 .7h.1m.2-.4h.1m-.1 .9h.1m.3 .5h.1m0 .4h.1m.3 .3h.1m.2-.8h.1m.2-.8h.1m.2 .7h.1m0-.2h.1m.3-1.1h.1m0-.4h.1m0 1.9h.1m0-.1h.1m.1-.7h.1m.1 .8h.1m.4 .8h.1m0-2h.1m-.1-.8h.1m0 1.3h.1m-.1 1.2h.1m0-1.8h.1m.3-.3h.1m.1 1.6h.1m.2 .5h.1m-.1-1.7h.1m.4-.1h.1m0-.7h.1m-.1 .2h.1m0 .5h.1m.1-.2h.1m.2 2.2h.1m0-2.2h.1m.2 1.7h.1m-.1 .6h.1m.1-2.5h.1m0 1.6h.1m0 .2h.1m1.1-1.3h.1m.1 .4h.1m.1 1h.1m.1-2.2h.1m0 1.3h.1m-.1-.3h.1m0 .2h.1m0 .5h.1m1-1.2h.1m.1 .3h.1m.1 1.2h.1m.4-1.6h.1m.5 1h.1m.3-.6h.1m-.1 1h.1m0 .7h.1m.4-2h.1m.2-.4h.1m.2 2.5h.1m0-1.3h.1m0-.4h.1m0-.9h.1m-.1 .9h.1m0 1h.1m0 1h.1m-.1-1.3h.1m-.1-1.1h.1m.3 .9h.1m0 .1h.1m.1 .1h.1m0 .8h.1m0 0h.1m0-.9h.1m.4 .1h.1m.2 .3h.1m-24.1 2.5h.1m1.1-.1h.1m4.4-1.1h.1m.1 .3h.1m1.8 .3h.1m.1-.6h.1m7.2 .7h.1m4.8-.8h.1m1.1 2.3h.1m1.5-1.6h.1"/><path class="d" stroke-opacity="0.5" d="M168 154.9h.1m1.7-1.2h.1m0 1.7h.1m.4-.2h.1m.2 .3h.1m.2 .1h.1m.2-1h.1m.1 .6h.1m.6 .7h.1m0-.7h.1m.2-.1h.1m.3 .3h.1m.2-.9h.1m.3 .6h.1m2 .6h.1m.5 .2h.1m-.1-.6h.1m1.5 .2h.1m.2-1.7h.1m.9 1.3h.1m1.8-.6h.1m.3-.5h.1m0 1.9h.1m.6-1.5h.1m.1 .3h.1m.3 .4h.1m.2-1.3h.1m.1 1.9h.1m-.1-.3h.1m.7-.8h.1m1 .8h.1m.1 .2h.1m-.1-.3h.1m0-.3h.1m3.8 .6h.1m1.3 0h.1m2.2 .2h.1m0-.2h.1m-24.6 2.6h.1m1.4-1.7h.1m.3 .6h.1m0-.6h.1m.9 2h.1m.2-1.1h.1m0-.4h.1m-.1-.4h.1m.2 1.7h.1m.2-.6h.1m-.1 .7h.1m0-1.3h.1m0-.4h.1m-.1 .5h.1m.1-.5h.1m0 1.7h.1m-.1-1.4h.1m-.1-.4h.1m.1-.2h.1m0 2.4h.1m.1-2.3h.1m0 2.1h.1m.1 .1h.1m.7-1.3h.1m.5 .3h.1m0 .4h.1m-.1-.3h.1m.1-1.5h.1m.3 .2h.1m.2 1.7h.1m.2 .3h.1m.2-1.8h.1m.4 1.5h.1m0-1.4h.1m0-.5h.1m-.1 .2h.1m0 .6h.1m.5-.6h.1m.2 1.6h.1m.1-1h.1m0 .1h.1m.2 .8h.1m.1-1.3h.1m.4-.3h.1m.2 2.3h.1m0-.6h.1m.5-1.7h.1m.3 .2h.1m-.1 .1h.1m1.1-.7h.1m.8 1.2h.1m0 1.4h.1m0-1.4h.1m.3-.5h.1m0 1.2h.1m-.1 .3h.1m.4-2.2h.1m.3 .7h.1m.1 .5h.1m.2 .3h.1m-.1-1.3h.1m.4 1h.1m-.1 1h.1m.6-2h.1m0-.2h.1m0 .4h.1m.2 1.9h.1m-.1-2.2h.1m.1-.1h.1m.1 .9h.1m0 .2h.1m0-1h.1m0 .5h.1m0-.2h.1m-.1 1.2h.1m.3-1.6h.1m0 .9h.1m-.1 1.5h.1m-.1 .3h.1m0-.8h.1m0 .9h.1m.3-1h.1m0 .8h.1m0-.4h.1m.2-.3h.1m0-1.5h.1m.2 .3h.1m.1 .1h.1m0 .2h.1m-.1 1.8h.1m.5-2.7h.1m-.1 1.1h.1m-.1 .1h.1m.2-1.1h.1m.1 .3h.1m.1 .9h.1m.1-1.2h.1m.2 .1h.1m0 0h.1m.3 1.8h.1m.4-.3h.1m0-.7h.1m0 1.6h.1m0-2h.1m.7 1.8h.1m.3-1.4h.1m-22.8 2.3h.1m2.6 0h.1m0 1.4h.1m4.3-1.6h.1m0 .7h.1m1.1-.6h.1m-.1 .2h.1m3.1-.1h.1m3.7 .7h.1m1.3-.2h.1m1.1-.4h.1m.3 .8h.1m0-.4h.1m0-.1h.1m1.8 0h.1m.1-.4h.1"/><path class="d" stroke-opacity="0.7" d="M167.9 155.9h.1m1.3-.3h.1m1.5 .1h.1m.1-1h.1m3 .6h.1m2.5-1.5h.1m-8.8 3.2h.1m2.7 1.7h.1m.3-2.1h.1m.1-.3h.1m.2 .3h.1m1.3 1.6h.1m1.3 .7h.1m1.4-1.2h.1m.3-.8h.1m.2-.9h.1m.6 2.3h.1m-9.6 1h.1m4.7 1.6h.1m.4-.5h.1"/><path class="d" stroke-opacity="0.7" d="M168.9 155.4h.1m.5 .4h.1m1.7-1.2h.1m.1 .6h.1m-3.1 1.2h.1m1.1 1.2h.1m-.1 .9h.1m.3-1.2h.1m.8-1.2h.1m0 1.6h.1m-.1-1.1h.1m0 1.5h.1m.1-2.1h.1m1.2 .3h.1m.7 1.7h.1m1.2-.4h.1m.4-.5h.1m-.1 1.8h.1m.6-2h.1m-2.6 2.5h.1"/><path class="d" stroke-opacity="0.7" d="M170.9 155.2h.1m2.5 .5h.1m-5.5 1.2h.1m.2-.1h.1m.2-.2h.1m.8 .2h.1m1 1.3h.1m.2-1.1h.1m1.1 .1h.1m.7-.7h.1m.5 1.2h.1m.5-.3h.1m.5 .3h.1m.3-.7h.1m.8 0h.1m.1 1.2h.1m1.2-1.1h.1m0-1h.1m-6 3.2h.1"/><path class="d" stroke-opacity="0.5" d="M193.9 163.8h.1m.5 .5h.1m0 0h.1m0-1.7h.1m.2 .1h.1m.4 .5h.1m.2 .2h.1m1 .6h.1m.1-.5h.1m.5 1.3h.1m.6-.8h.1m1.4 .8h.1m.3 0h.1m.5-2.4h.1m3.1 1.4h.1m-13.9 3.4h.1m.1-.9h.1m1.5-.2h.1m.4 .5h.1m.2 .6h.1m0-1.1h.1m.6-1.1h.1m0 .7h.1m0 .6h.1m.3-.2h.1m-.1 .7h.1m.2 .2h.1m0-1.6h.1m.6 2.4h.1m.1-1h.1m.4-.6h.1m0 .1h.1m.1-.9h.1m-.1 .2h.1m.2 .9h.1m-.1 1.2h.1m-.1-1.8h.1m.3 .2h.1m0-.1h.1m.2-.8h.1m.2 2h.1m1.6-1h.1m.1-.3h.1m.3-.2h.1m1 1h.1m.1 1.2h.1m1.4-2.7h.1m-9 2.9h.1m-.1 .7h.1m.3-.3h.1m-.1 .8h.1m.4-.3h.1m.7 .1h.1m0 .7h.1m.7-.5h.1m.3 1.1h.1m0-2h.1m.3-.3h.1m.4 2.8h.1m.8-2.4h.1m2.6 2.4h.1m-11.9 .5h.1m6.6 1.7h.1m1.3-1.8h.1m1 1.3h.1m0-.9h.1m-4.3 4.1h.1"/><path class="d" stroke-opacity="0.5" d="M201.9 158.1h.1m-8.8 3.6h.1m.9-1.2h.1m.5 1.3h.1m1.3-2.4h.1m3.2-.1h.1m1.6 .1h.1m-8.7 4.9h.1m1.8 .6h.1m0-.1h.1m.7-1.3h.1m.6 1.2h.1m1.2-.2h.1m1-.3h.1m0-1.9h.1m-.1 .3h.1m.3 2.2h.1m-.1-.5h.1m.4-1.6h.1m.4-.1h.1m.9 2.3h.1m-.1-.1h.1m1-2.1h.1m-14.2 4.6h.1m4.2 .3h.1m0 0h.1m1-.9h.1m.5-1.7h.1m0 .1h.1m.5 .2h.1m.1 1.8h.1m.1-1.9h.1m.6 .5h.1m.1 2.2h.1m-.1-.1h.1m0-.9h.1m.2-.6h.1m0-.1h.1m0-1.1h.1m.6 1.3h.1m.4 1.3h.1m0 .2h.1m.2-.3h.1m.1-1.1h.1m.4-.8h.1m1.2-.1h.1m.5 .5h.1m-.1-.9h.1m0 .8h.1m.9-.7h.1m.2 1.4h.1m-12.3 3.3h.1m4.4-1h.1m1 1.1h.1m.8-1.6h.1m.7 .7h.1m.6-1.1h.1m.2 2h.1m.1-1.7h.1m1.3-.4h.1m0 .1h.1m1.8 2.2h.1m-9.2 1.4h.1m2.3-.3h.1m.1 .3h.1m3.3 .6h.1m.9 .8h.1"/><path class="d" stroke-opacity="0.5" d="M195.2 157.7h.1m3.8-1h.1m-4.6 3.8h.1m1.4-.3h.1m.1 .1h.1m5.7 .4h.1m.3 .6h.1m-12.8 .8h.1m4.2 2.6h.1m0-1.9h.1m-.1 1h.1m.8 .7h.1m.3-1.7h.1m.3 1.9h.1m0-.7h.1m-.1 .7h.1m0 0h.1m.7 0h.1m0-.9h.1m.5-1.4h.1m.1 1.6h.1m1.4-1h.1m1.5 1.1h.1m.8-1.1h.1m0 .9h.1m-11.9 3.9h.1m1.5-.2h.1m1.7-1.5h.1m.5 0h.1m1.1-.2h.1m.2-.6h.1m0 1.7h.1m.3-1.3h.1m1.2 1.2h.1m-.1-1.6h.1m.5 0h.1m.2 1.8h.1m0-.2h.1m.1-1.2h.1m0 2.1h.1m.4-1.4h.1m.1 1.4h.1m.4-.8h.1m-8.7 1.4h.1m.3 1.1h.1m.8 .4h.1m.2-.8h.1m1 .7h.1m2.4 .2h.1m.2-1.8h.1m0 2.4h.1m.3-1.8h.1m.5-.2h.1m0 2.3h.1m1.2 0h.1m-.1-2.9h.1m.2 .2h.1m.6 2.3h.1m-4.9 2.7h.1m.8-2.2h.1m1 1.5h.1m.7-.9h.1m.9 .3h.1m.1 1.8h.1m.4-.3h.1m2.3-.5h.1"/><path class="d" stroke-opacity="0.4" d="M193.4 158.5h.1m-7.3 .8h.1m2.6 1.4h.1m.3-.2h.1m7 3.5h.1m9.4-1.5h.1m-18.9 3.2h.1m3.4 .9h.1m.1 .1h.1m.9 1h.1m2.9-.9h.1m1.2-1.1h.1m.1 .9h.1m.5 .5h.1m.8-1.5h.1m5.6 2.1h.1m-20.1 1.1h.1m6.1 .6h.1m.3-.3h.1m3.5 1.7h.1m3.6-1.6h.1m2.3 1.5h.1m-22.4 1.2h.1m8.6 1.4h.1m1.5-2h.1m.6 2h.1m0-1.7h.1m5.1 1.7h.1m1.7-.8h.1m.2 .2h.1m1.3-1.1h.1m2 2h.1m-9.7 1.2h.1m4-.5h.1m3 1h.1m-8.1 2.8h.1m.4-.6h.1"/><path class="d" stroke-opacity="0.4" d="M196.9 157.3h.1m-3.8 4.4h.1m-6.5 1h.1m3.7 1.6h.1m.5-.4h.1m11.8-.8h.1m-18.1 2.1h.1m1.1 .8h.1m4.4 1.6h.1m4-.8h.1m4 .9h.1m-13.6 .3h.1m-.1 1.8h.1m-.1-1.4h.1m.2 1.8h.1m1.8-1.3h.1m1.1-.1h.1m.9 1h.1m1.3 .5h.1m1.6-2.1h.1m.9 1.1h.1m4.1-.8h.1m.1 1.1h.1m1.4-1.1h.1m.3 1.7h.1m-11.5 2h.1m2.1-1.1h.1m4 2.1h.1m1-.5h.1m1.1 .8h.1m1.3-1.4h.1m-12.6 3.6h.1m2.2 0h.1m3.8-1h.1m6.3-.6h.1m-9.7 3.9h.1m9.4-.2h.1"/><path class="d" stroke-opacity="0.4" d="M190 158.6h.1m5.2-1.6h.1m-6.2 4.1h.1m4.5-.7h.1m-6.2 3.8h.1m2.1-1.9h.1m3.3 2.1h.1m.7 .1h.1m0-.9h.1m-11.1 3.3h.1m.3 .3h.1m6.1-.5h.1m3.2-.8h.1m.4 1.8h.1m1.9-.7h.1m1.1 .2h.1m.8-.3h.1m0 .3h.1m-.1-.8h.1m1.3 .4h.1m-10.1 3.8h.1m1.4-1h.1m4 .7h.1m.4 .5h.1m2.3-2.5h.1m5.1 1.7h.1m-10.6 1h.1m-.1 1.7h.1m.4-1.3h.1m4.5-.3h.1m2.8 1h.1m-22.5 2.9h.1m22.6-1h.1m-10.3 4.7h.1m7.5 0h.1m6 .3h.1"/><path class="d" stroke-opacity="0.15" d="M171.7 164h.1m10.1-.9h.1m23-.6h.1m-21.9 3.7h.1m-14.1 2.4h.1m14.9 .3h.1m16.6 .9h.1m8.8 .4h.1m-25.9 3.3h.1m2.7-1.1h.1m13.6 4.3h.1m-13 .7h.1m20 .2h.1m-28.3 2.9h.1m11.7 1.8h.1m-20.2 2.5h.1m1.4-.5h.1m5.3-.1h.1m3.4 .7h.1m4.8 .3h.1m-12.9 2.1h.1m.3 2.2h.1"/><path class="d" stroke-opacity="0.15" d="M186.6 160.8h.1m-13.8 3.3h.1m20.3 .5h.1m-24.1 2.3h.1m7.1 2.9h.1m30.8 0h.1m-12.4 2h.1m13 .2h.1m-32.8 3h.1m16.4 1.8h.1m1.5-.3h.1m-10.4 .8h.1m13.3 1.4h.1m16.5-1.3h.1m-4.5 3.2h.1m-38.9 4.4h.1m19.5 .6h.1m11.8-1.4h.1m10.7 1h.1m-17.4 1.9h.1m-8.3 2.5h.1m27.4-.3h.1"/><path class="d" stroke-opacity="0.15" d="M172.7 161h.1m-2.7 1h.1m16.7 .6h.1m20.7 2.2h.1m-30.6 .2h.1m8.9 1.3h.1m0 1.3h.1m-3.3 1.6h.1m19.5 .8h.1m-30.3 1.6h.1m19.3 .1h.1m-6.4 3.1h.1m-15.9 5.7h.1m28.6 1.4h.1m8.6-.3h.1m-6 2.3h.1m1.6 .9h.1m-3.4 1.8h.1m.8 2h.1m11.9-2.4h.1m0 2.8h.1"/></g><rect x="167" y="144.8" width="50.5" height="47.0" fill="none" stroke="#555" stroke-width=".8"/><path d="M180.4 144.8V191.8M167 177.2H217.5" stroke="#444" stroke-width=".8" fill="none"/><path d="M167.5 160H217.5" stroke="#222" stroke-width="1.1" stroke-dasharray="2.2 1.8" fill="none"/><text x="216.4" y="150.6" font-size="6.3" font-weight="bold" text-anchor="end" fill="#000">56</text><text x="216.4" y="167.6" font-size="6.3" font-weight="bold" text-anchor="end" fill="#000">39</text><text x="216.4" y="184.4" font-size="6.3" font-weight="bold" text-anchor="end" fill="#000">2</text><text x="167" y="196.4" font-size="4.2" fill="#666" text-anchor="middle" transform="rotate(-30 167 195.3)">10</text><text x="179.6" y="196.4" font-size="4.2" fill="#666" text-anchor="middle" transform="rotate(-30 179.6 195.3)">10</text><text x="192.2" y="196.4" font-size="4.2" fill="#666" text-anchor="middle" transform="rotate(-30 192.2 195.3)">10</text><text x="204.9" y="196.4" font-size="4.2" fill="#666" text-anchor="middle" transform="rotate(-30 204.9 195.3)">10</text><text x="217.5" y="196.4" font-size="4.2" fill="#666" text-anchor="middle" transform="rotate(-30 217.5 195.3)">10</text><text x="164.4" y="191.8" font-size="4.2" fill="#666" text-anchor="middle" transform="rotate(-90 164.4 191.8)">10</text><text x="164.4" y="180.1" font-size="4.2" fill="#666" text-anchor="middle" transform="rotate(-90 164.4 180.1)">10</text><text x="164.4" y="168.3" font-size="4.2" fill="#666" text-anchor="middle" transform="rotate(-90 164.4 168.3)">10</text><text x="164.4" y="156.6" font-size="4.2" fill="#666" text-anchor="middle" transform="rotate(-90 164.4 156.6)">10</text><text x="164.4" y="144.8" font-size="4.2" fill="#666" text-anchor="middle" transform="rotate(-90 164.4 144.8)">10</text><clipPath id="k12"><rect x="234.5" y="144.8" width="50.80000000000001" height="47.0"/></clipPath><g clip-path="url(#k12)"><path class="d" stroke-opacity="0.7" d="M272.9 153.8h.1m.5-.6h.1m-6.5 4.6h.1m-.1 .3h.1m.7 .3h.1m-.1-.2h.1m.4 0h.1m.5-1.2h.1m3.2-.7h.1m-10.3 4.8h.1m.7-1.7h.1m.2 1.1h.1m1-.6h.1m0 1.9h.1m0-.2h.1m.4-.8h.1m.8-.5h.1m.2-.9h.1m.9 1h.1m-.1 .7h.1m0-1.6h.1m.1 1.4h.1m.2 .5h.1m.5-.9h.1m1.2-.2h.1m1.3 1.5h.1m-.1-.9h.1m.1-.9h.1m.5 .8h.1m-10 2.5h.1m.3 1.1h.1m1.1 .4h.1m.6-2.1h.1m.7 1h.1m-.1 .7h.1m-.1-.9h.1m0-.8h.1m.3 .9h.1m.1-.1h.1m-.1-.6h.1m0 .4h.1m0 1.1h.1m.2-1.5h.1m-.1 1.8h.1m.1-.1h.1m.5-1.5h.1m.3 .3h.1m.2 1.1h.1m-.1-2.2h.1m0 2.5h.1m0-.2h.1m.6-2.3h.1m.1 2.1h.1m.3-1.6h.1m1.2-.4h.1m.5 2.2h.1m.1-.3h.1m.3-1.9h.1m.7 1.8h.1m0-1.6h.1m-.1 2.2h.1m.5-.1h.1m.8-.5h.1m-11.9 2.3h.1m.6 1h.1m.2-.1h.1m.1-.3h.1m.1-1.4h.1m0-.2h.1m.2 .2h.1m.4 1.4h.1m.2-1.9h.1m.2 2.1h.1m.2-1.8h.1m.1-.1h.1m.1 .3h.1m.1 1.6h.1m-.1-1.6h.1m.2-.6h.1m-.1 1.6h.1m.2-.9h.1m0 1.4h.1m-.1-.6h.1m-.1-.7h.1m-.1-.5h.1m-.1 1.5h.1m0 1h.1m0-2.8h.1m.3 1.5h.1m0-1.4h.1m.2-.2h.1m.1 2.6h.1m.1-1h.1m0-1.6h.1m0 1.4h.1m.3 .6h.1m0-.7h.1m-.1 .4h.1m0 .5h.1m.6-.4h.1m.3-1.2h.1m0 1.3h.1m.5 .3h.1m.5-.5h.1m-.1 1h.1m.8-1.5h.1m.9 1.3h.1m.8 .2h.1m0-1.4h.1m-13.4 2h.1m3 .2h.1m.3 .2h.1m.7 .9h.1m-.1-.9h.1m1.3-.3h.1m.5-.4h.1m.1 .5h.1m.2 .9h.1m.1-.6h.1m0 1h.1m.6-1.4h.1m.4 1.9h.1m0-2h.1m0 1.1h.1m.3-1.3h.1m.5-.1h.1m1.4 2.8h.1m.1-2.4h.1m.6 .9h.1m.2 1.4h.1m-9.2 1.8h.1m.3-1h.1m3.3-.5h.1m.8 .9h.1m.5 1.1h.1m0-1.3h.1m0 1.7h.1m.6-.9h.1m-4.5 3.4h.1m3 2.5h.1"/><path class="d" stroke-opacity="0.7" d="M267.8 152.9h.1m-2.7 .3h.1m-2.5 4.3h.1m2.1-1.1h.1m0 1.2h.1m.8-.4h.1m.7 .7h.1m3.2-1.1h.1m4.9 1.1h.1m-11.7 3.6h.1m.6-1.9h.1m.5 .3h.1m0 .7h.1m0 1.1h.1m.1-2.7h.1m.4 2.4h.1m.3-.6h.1m0-.5h.1m-.1 .7h.1m.1-.6h.1m.1 .2h.1m.9-.4h.1m.1 1.6h.1m.4-1.1h.1m0-1.1h.1m.2 .8h.1m2.2 1.1h.1m.2-.2h.1m.9-.3h.1m.8-.7h.1m1-.3h.1m-11.9 3.1h.1m.6 .4h.1m0-.2h.1m.5 1.4h.1m.9-.3h.1m.5-.2h.1m.4-2.1h.1m-.1 2.2h.1m0-1.9h.1m.4 2.1h.1m-.1-.5h.1m.5-1.1h.1m.1 1.5h.1m-.1-1.1h.1m.3 1.5h.1m-.1-1.3h.1m.2 .3h.1m0 1.1h.1m.4-2.6h.1m.2 .3h.1m.4-.3h.1m.1-.1h.1m0-.1h.1m-.1 .1h.1m-.1-.2h.1m.1 1.2h.1m.5-.4h.1m0-.7h.1m.3 2.5h.1m-.1-2.4h.1m.2 2.7h.1m.1-1.4h.1m.8-1.1h.1m.1 .2h.1m.7 1h.1m1.6 1.1h.1m-13.1 1.4h.1m.4 1.3h.1m.5-1.2h.1m.5 .3h.1m0-.4h.1m.5-.2h.1m.5 1.5h.1m.8-2h.1m.3 .3h.1m0-.3h.1m-.1 .1h.1m.5 .2h.1m-.1 1.3h.1m0-1h.1m-.1-.8h.1m-.1 .6h.1m.1 .1h.1m.3 1.7h.1m0-2.5h.1m.2 2.7h.1m.3-2.1h.1m.2 1.1h.1m.1-1.3h.1m0 .7h.1m.4 .7h.1m-.1-1.7h.1m.3 .3h.1m0 2.1h.1m-.1 0h.1m.1-1.8h.1m1.5 1.4h.1m-9.6 1.3h.1m.6 .8h.1m.7-1.3h.1m.8 2.4h.1m.2-1.8h.1m.4 .5h.1m.4-.6h.1m1.6 .4h.1m.5 1.4h.1m-.1-.2h.1m.5 .7h.1m.1-1.9h.1m-.1 1.3h.1m.1-1.8h.1m.2 1.3h.1m.2 .4h.1m0-.7h.1m.1 .6h.1m.1-1.4h.1m.2 1h.1m.2 .9h.1m-6.9 2.1h.1m.5-.4h.1m.8-.8h.1m1 .9h.1m0 .5h.1m.1-.3h.1m.1-.5h.1m.3 0h.1m-.1 .4h.1m-.1-.7h.1m0-.6h.1m0 1.9h.1m1.4-.7h.1m.3-.9h.1m.6 2.4h.1m1.3-1.4h.1m-6.7 2.4h.1m1.2-.1h.1m.7 1.9h.1m2.3-.7h.1m.9-.5h.1"/><path class="d" stroke-opacity="0.7" d="M263.8 151.4h.1m1.3 2.2h.1m3.9 1.6h.1m0 .2h.1m.8-.7h.1m-5.9 3.6h.1m2.3 .4h.1m3.9-1.2h.1m-11.2 2.3h.1m4.2 1.4h.1m.1-.6h.1m.1 0h.1m.7-.8h.1m.6 .6h.1m.2-.9h.1m1.3 .7h.1m0 .8h.1m.2-.1h.1m.3-.2h.1m0 0h.1m.1-1.6h.1m.8 2.8h.1m-.1-.9h.1m1.4 .8h.1m.3-2.1h.1m0 .6h.1m-10.8 3.1h.1m1.8-.6h.1m-.1 .8h.1m.2-.8h.1m.2-.7h.1m.2 2.4h.1m.8-.3h.1m.3-2h.1m.3 .7h.1m.2 0h.1m.1 1.2h.1m-.1 .1h.1m0 .6h.1m-.1-1h.1m-.1-.9h.1m.3 .5h.1m.3 .5h.1m0-1.7h.1m.1 .5h.1m0 1.3h.1m0 .3h.1m0 .5h.1m.3-.9h.1m-.1-1.9h.1m.1 2.9h.1m.2-.8h.1m0-.4h.1m.2 .2h.1m0-1.1h.1m.1-.5h.1m.2 .9h.1m0 1.3h.1m0-.3h.1m.1-1h.1m0 .7h.1m0-.3h.1m-.1-1h.1m.4 .7h.1m0 0h.1m.1 .2h.1m1.6-.4h.1m.1 .6h.1m.5-1.4h.1m-12.1 4.3h.1m1.9-1.4h.1m1.2 .2h.1m.4 .3h.1m.2 1.4h.1m0-1.6h.1m.1 .1h.1m.5 1.4h.1m0 .3h.1m0 .6h.1m.4-2.3h.1m-.1 1.3h.1m-.1-.6h.1m.2 1.5h.1m.2-1.9h.1m0 .3h.1m0-1h.1m-.1 1.4h.1m.1-.3h.1m-.1 .7h.1m-.1-.5h.1m0 1h.1m-.1 .4h.1m.3-1.7h.1m0-1.1h.1m-.1-.1h.1m0 2.9h.1m.6-1.4h.1m-.1 .8h.1m-.1-.9h.1m.8-1h.1m.9 1.3h.1m1.1 .1h.1m.7-1.4h.1m.8 .7h.1m.9-.7h.1m-15.2 3.3h.1m1.1 1h.1m1.7-1.7h.1m.5 1.2h.1m.9-.8h.1m.3 .5h.1m.2 1.1h.1m.6-1.6h.1m.6 .5h.1m.2 1.6h.1m0-1.3h.1m.2 0h.1m.2 1h.1m1.3-1.8h.1m0 1.6h.1m0-1.2h.1m.3-.5h.1m.1 2.6h.1m-.1-1.9h.1m.1-.4h.1m.1 .4h.1m.5-1h.1m4.4 .3h.1m-12.7 2.8h.1m4.4 1.7h.1m.1-1.6h.1m1.4 1.1h.1m.4-.5h.1m.2-.5h.1m-.1-.3h.1m2.4 .6h.1m1.8-.5h.1m-5.9 4.3h.1m1.1 1.6h.1m-.1 2.2h.1"/><path class="d" stroke-opacity="0.5" d="M242.2 152.7h.1m-5.8 2.2h.1m1.8-.1h.1m0-1.5h.1m-.1 2.3h.1m1.2-1.1h.1m-.1 1.3h.1m.2-1.1h.1m0 1h.1m0-.1h.1m.1 .3h.1m1.1-1.2h.1m.9 .2h.1m.6 .1h.1m0 .9h.1m1.7-1.1h.1m.1-.8h.1m.4 .2h.1m1.1 1.4h.1m.2-2.1h.1m2.2 1h.1m3.3 1.1h.1m3.9-.4h.1m1.5-.9h.1m.9 .9h.1m.6 .4h.1m2-.5h.1m-26.1 1.9h.1m.9-1h.1m-.1 1h.1m.1 .7h.1m.1-.9h.1m1.8-.5h.1m1.2 1h.1m1.2-.5h.1m.2-.6h.1m.1-.1h.1m.2 .9h.1m.2-.8h.1m.5 .2h.1m.3 1.8h.1m.8-.9h.1m1.3 .3h.1m.1-.7h.1m.5 1h.1m.5-.4h.1m.2-.4h.1m.2 .8h.1m.2 .9h.1m0-2.6h.1m.1-.1h.1m-.1 1.4h.1m.3-1h.1m-.1-.2h.1m.1 1h.1m.9-.9h.1m0 .2h.1m.1 .8h.1m.2-.5h.1m.4-.1h.1m.1 1.8h.1m.2-1.2h.1m.2 .7h.1m.4-1.1h.1m.8 0h.1m.1 .9h.1m-.1-1.8h.1m.2 1.3h.1m.8-1.3h.1m.3-.1h.1m0 1h.1m.2 1.4h.1m.3-1.6h.1m.6 .9h.1m.4-.7h.1m1.5 1.7h.1m.1-1.8h.1m.7-.2h.1m1.4 1.2h.1m0-.2h.1m.4 1h.1m.1-.1h.1m-.1-.3h.1m.9-1.3h.1m.6 1.4h.1m0-.1h.1m-20.9 1h.1m4.8 2.3h.1m4.5-2.6h.1m2.3 .3h.1m1.2 1.2h.1m.2-1.2h.1m.1 1.1h.1m.7-.1h.1m1.6-1h.1m.2 1.4h.1m.8 .4h.1m0-.9h.1m1.2-.4h.1m.7-.7h.1"/><path class="d" stroke-opacity="0.5" d="M237 153.8h.1m.7 .8h.1m1-1.5h.1m.2 2.2h.1m0-2h.1m.6 2.5h.1m.1-1.9h.1m0 1.2h.1m.7-.2h.1m1.3 .8h.1m1.5 0h.1m.4-1.7h.1m1.3 1.6h.1m.6 .3h.1m.6-1h.1m.1-.4h.1m.8 1h.1m.1 .1h.1m8.3-.1h.1m1.7 0h.1m6.2 .3h.1m-26.9 3.1h.1m-.1-1.9h.1m.7-.2h.1m.1 .5h.1m.1-1h.1m.4 1.8h.1m.8-.2h.1m.5 .6h.1m.7-1.7h.1m-.1 .5h.1m.3-.4h.1m.9 1.2h.1m.9-.4h.1m.6 .2h.1m0-1.1h.1m.1 .4h.1m.1-.4h.1m1.4 1h.1m.6 .4h.1m.3-2.2h.1m0 2.6h.1m1-2.6h.1m.3 2.3h.1m.9-1.8h.1m1-.3h.1m-.1 .1h.1m.6 .7h.1m0 1h.1m.2-.2h.1m.2-1.1h.1m.1 1.1h.1m0-.6h.1m0 .2h.1m.1 0h.1m-.1 1.1h.1m.6 .1h.1m.3-1h.1m0-.7h.1m0 1.5h.1m.7 .1h.1m0-.3h.1m0 .2h.1m0 .2h.1m.1-2.2h.1m-.1-.2h.1m.1 1.9h.1m.4-1.5h.1m.8 .2h.1m-.1 .1h.1m.2 .4h.1m0-.8h.1m-.1 .2h.1m-.1-.3h.1m.1 2.1h.1m1.2 .3h.1m.6-.9h.1m.2 .3h.1m.6-1.2h.1m.4 1.3h.1m0-1.1h.1m.3 .9h.1m1 .5h.1m.1-2.1h.1m.3 1.4h.1m-16.1 1.1h.1m.1 .7h.1m.3-.4h.1m5.3 1.2h.1m.3 .2h.1m.9-1.1h.1m.6 .4h.1m.4-.2h.1m.2-.5h.1m2.4 .1h.1m1.2 1.5h.1m1.1-1.6h.1m.5 .5h.1m1.5-.1h.1m-1.7 2.3h.1"/><path class="d" stroke-opacity="0.5" d="M247.3 152.7h.1m-10.2 2.2h.1m-.1 0h.1m.5-.1h.1m1 .8h.1m-.1-.4h.1m.6 .6h.1m0-2.5h.1m.1 2.4h.1m.9-1h.1m.5 .7h.1m1.1-.9h.1m.6 1.4h.1m.4-.6h.1m1.3 .6h.1m.4-1.8h.1m.1 1.5h.1m.6 0h.1m0 .1h.1m0-1.8h.1m2.5 1.8h.1m.1-2.1h.1m2.1 2.1h.1m1.5-.7h.1m6.6 .7h.1m1-.3h.1m2.5-.2h.1m-27 3.1h.1m1-2.2h.1m1.2 .4h.1m0 1.1h.1m0 1h.1m.9-1.6h.1m.5 1.6h.1m1.1 .2h.1m.5-2.4h.1m1.1 2.3h.1m.2-.8h.1m1.4-1.4h.1m.1 .1h.1m1.7 1.2h.1m-.1-.8h.1m.2-.7h.1m.9 2.2h.1m.8-2.5h.1m.1 2.1h.1m0-.3h.1m.1 1h.1m.2-1.5h.1m.5 .7h.1m.5-1.4h.1m.3 .6h.1m.1 1.5h.1m-.1-.3h.1m.4-1.4h.1m.5-.6h.1m0 1.1h.1m1-1h.1m.2 1.4h.1m.5-1.4h.1m.2 1.1h.1m.5-.4h.1m.6 .1h.1m0 .2h.1m-.1-.1h.1m.7 1h.1m0-1.6h.1m0 1.1h.1m.8-1.3h.1m0-.4h.1m.7 1.2h.1m-.1 0h.1m0-.4h.1m.1 1h.1m.8-.4h.1m.2 .6h.1m.3-.7h.1m.7 .2h.1m.9 .9h.1m.3-2h.1m.2 1.8h.1m-28.3 1.6h.1m3.3-.6h.1m.1 .2h.1m4.3 .4h.1m6.3 .5h.1m1.1-1.2h.1m1.1 .1h.1m3 1h.1m1-.2h.1m3 1h.1m.1-2.1h.1m.5 0h.1m.7 1.5h.1m.1-.8h.1m.8 .8h.1m.4 .1h.1m.7-1.3h.1m1.3 .6h.1"/><path class="d" stroke-opacity="0.4" d="M257 157.9h.1m2.6-.1h.1m.5 3.5h.1m1.6-.3h.1m4.5-.8h.1m-8.1 4.1h.1m.6-1.6h.1m3.3 1.5h.1m1.9-.9h.1m0 .2h.1m.4 .8h.1m7.8-1.5h.1m-23.2 4.4h.1m1.9 0h.1m3.2-1.6h.1m1 .2h.1m3.8 1.1h.1m1.1-1.6h.1m1.9 2.4h.1m2.7 0h.1m1.5-.7h.1m6 .4h.1m-18.9 2.3h.1m3-.6h.1m.2 .3h.1m2.3 1.2h.1m1-.1h.1m.5-1.7h.1m2.2-.3h.1m0 1.4h.1m1.4-.3h.1m.4-.7h.1m2 .7h.1m1.2 .4h.1m-13.7 1.8h.1m1 .9h.1m4.3 .4h.1m.6-1.5h.1m1.4 1.8h.1m9.5-2.2h.1m-16.6 5.1h.1m6.1 .1h.1m1.3-2.2h.1m-2.6 10.5h.1"/><path class="d" stroke-opacity="0.4" d="M259 161.8h.1m-8.8 1.7h.1m4.2 1.3h.1m.4-.6h.1m1.1-.3h.1m.5 1h.1m.8-.6h.1m1.4-1.1h.1m1.3-.8h.1m5.7-.4h.1m2.4 1.7h.1m-11.6 3.9h.1m2.3-.9h.1m2 .2h.1m2.1 .9h.1m.4-.8h.1m0-.7h.1m3 .1h.1m-17 2.7h.1m2-1h.1m.7 .4h.1m1.8 .5h.1m2.3-.5h.1m.3 .1h.1m1.8 .6h.1m1.3 .6h.1m.3-1.6h.1m.4 .2h.1m3.3 .8h.1m1.4-.2h.1m.3 1.1h.1m1.5-.9h.1m-16.9 4.1h.1m1.8-2.1h.1m9.7 1.1h.1m3.6 .4h.1m1.5 .8h.1m-11.2 1.5h.1m2.6 1.8h.1m1.5-.3h.1m4.2-1.8h.1m-8 4.3h.1m3.5 .4h.1"/><path class="d" stroke-opacity="0.4" d="M267.9 154.1h.1m-3.3 2.6h.1m-7.9 2.9h.1m.6 0h.1m.7 .4h.1m4.1 .1h.1m3.7 .3h.1m-9.7 3.9h.1m5.8-1.3h.1m.6 1.5h.1m.5 .4h.1m.5-.7h.1m-10.4 1.2h.1m-.1 .8h.1m.5-1.1h.1m3 .3h.1m4.4 .6h.1m0 .3h.1m1.5-.3h.1m1.5 1.5h.1m-12.4 .5h.1m1.8 2.5h.1m.3-1.1h.1m.2-1.4h.1m.1 0h.1m5 2.3h.1m.1 .3h.1m.9-1h.1m1.3-.7h.1m1.8 .1h.1m.3 .8h.1m2.2 .3h.1m0-.7h.1m.2-.3h.1m-8.5 4.8h.1m1.5-2.3h.1m.7 1.3h.1m-7.3 1.1h.1m3.4 2.5h.1m.9 0h.1m9.2-2.1h.1m-14.5 4h.1m6.8 1h.1"/><path class="d" stroke-opacity="0.15" d="M237.1 162.2h.1m.1 3.7h.1m31 1.5h.1m-29.9 2.8h.1m9.4-.1h.1m12.1-2h.1m16.6 .8h.1m-18.2 4.5h.1m10-1.4h.1m9.5-.3h.1m-11.4 3.3h.1m3.8 1.4h.1m-28.7 1.7h.1m7.4 .2h.1m4.1-.1h.1m12.6 1.7h.1m-15.7 1h.1m16.1 .1h.1m-29.9 2.3h.1m19.6 5.4h.1m18.9-.7h.1m-11.4 1.6h.1"/><path class="d" stroke-opacity="0.15" d="M241.6 162.1h.1m3.4 1.8h.1m22.9-1.1h.1m-9.6 3.5h.1m-1.9 2.7h.1m3.2 1h.1m22.3-.3h.1m-32.1 1.5h.1m3.5-.1h.1m2.4 1.6h.1m-6.5 3.6h.1m13.1-1.2h.1m7.4 1.4h.1m-31.3 2h.1m19.8 1.7h.1m2.7 .9h.1m-13.6 2.1h.1m3.3 2.5h.1m17.1-.2h.1m7.4 0h.1m-23.3 3h.1m17.9-1.4h.1"/><path class="d" stroke-opacity="0.15" d="M273.8 163.5h.1m4.4 .5h.1m-20.3 2.6h.1m9.9-.5h.1m-27.1 2.4h.1m1.3 2.4h.1m7.1-1.4h.1m6.4 1.1h.1m17.3 0h.1m-29.7 1.9h.1m-6.2 3.7h.1m7.4-2.1h.1m5.7 .5h.1m24.3 4.4h.1m-34.3 2h.1m14.1 0h.1m-5.5 2.6h.1m31.5 1.6h.1m-15.4 2.5h.1m11 0h.1m-15.7 2.3h.1"/><path class="d" stroke-opacity="0.3" d="M241.8 174.8h.1m.9 2.6h.1m-6 5.4h.1m18.5-1.1h.1m-11 3.6h.1m2.9-1.2h.1m1.3-.6h.1m1.8-.3h.1m.9 2.5h.1m5.9-.7h.1m-19.4 2.9h.1m5-1.8h.1m4-.1h.1m-2.2 3.9h.1m.3-.1h.1m8.4-.7h.1"/><path class="d" stroke-opacity="0.3" d="M238.1 182.2h.1m7.4-.3h.1m.2 .8h.1m2.8-1.4h.1m4.2 .6h.1m-15.8 3.1h.1m7.9 0h.1m2.9-.8h.1m2.3-.1h.1m2.3 1h.1m3.4-1.9h.1m-10.2 4.5h.1m5.1-.8h.1m1.3-.5h.1m-16.6 3.1h.1m17.3 .9h.1"/><path class="d" stroke-opacity="0.3" d="M239 182.4h.1m4-.9h.1m1.6-.4h.1m.6-.4h.1m.1 .6h.1m1.6 1.3h.1m-7.4 2.5h.1m.4 .2h.1m2-1.8h.1m.1 .3h.1m9.8-.2h.1m8.9 1.8h.1m-8.4 2.8h.1m-14.3 1.8h.1m8.8 .8h.1m7.4-.3h.1"/></g><rect x="234.5" y="144.8" width="50.80000000000001" height="47.0" fill="none" stroke="#555" stroke-width=".8"/><path d="M247.4 144.8V191.8M234.5 178.4H285.3" stroke="#444" stroke-width=".8" fill="none"/><path d="M235.0 160H285.3" stroke="#222" stroke-width="1.1" stroke-dasharray="2.2 1.8" fill="none"/><text x="284.2" y="150.6" font-size="6.3" font-weight="bold" text-anchor="end" fill="#000">34</text><text x="284.2" y="167.6" font-size="6.3" font-weight="bold" text-anchor="end" fill="#000">61</text><text x="284.2" y="184.4" font-size="6.3" font-weight="bold" text-anchor="end" fill="#000">3</text><text x="234.5" y="196.4" font-size="4.2" fill="#666" text-anchor="middle" transform="rotate(-30 234.5 195.3)">10</text><text x="247.2" y="196.4" font-size="4.2" fill="#666" text-anchor="middle" transform="rotate(-30 247.2 195.3)">10</text><text x="259.9" y="196.4" font-size="4.2" fill="#666" text-anchor="middle" transform="rotate(-30 259.9 195.3)">10</text><text x="272.6" y="196.4" font-size="4.2" fill="#666" text-anchor="middle" transform="rotate(-30 272.6 195.3)">10</text><text x="285.3" y="196.4" font-size="4.2" fill="#666" text-anchor="middle" transform="rotate(-30 285.3 195.3)">10</text><text x="231.9" y="191.8" font-size="4.2" fill="#666" text-anchor="middle" transform="rotate(-90 231.9 191.8)">10</text><text x="231.9" y="180.1" font-size="4.2" fill="#666" text-anchor="middle" transform="rotate(-90 231.9 180.1)">10</text><text x="231.9" y="168.3" font-size="4.2" fill="#666" text-anchor="middle" transform="rotate(-90 231.9 168.3)">10</text><text x="231.9" y="156.6" font-size="4.2" fill="#666" text-anchor="middle" transform="rotate(-90 231.9 156.6)">10</text><text x="231.9" y="144.8" font-size="4.2" fill="#666" text-anchor="middle" transform="rotate(-90 231.9 144.8)">10</text><text x="91.8" y="164.5" font-size="4" fill="#888" text-anchor="middle" transform="rotate(-90 91.8 164.5)">CD56</text><text x="227.5" y="169" font-size="4" fill="#888" text-anchor="middle" transform="rotate(-90 227.5 169)">CD56</text><text x="287.5" y="37.7" font-size="6.5" font-weight="bold" text-anchor="start" fill="#000">#1</text><text x="287.5" y="104.6" font-size="6.5" font-weight="bold" text-anchor="start" fill="#000">#2</text><text x="287.5" y="166.2" font-size="6.5" font-weight="bold" text-anchor="start" fill="#000">#3</text><text x="6.6" y="239" font-size="10.8" font-weight="bold" text-anchor="start" fill="#000">B</text><text x="55.6" y="239.3" font-size="7.1" font-weight="bold" text-anchor="middle" fill="#000">healthy donor</text><text x="128.2" y="239.3" font-size="7.1" font-weight="bold" text-anchor="middle" fill="#000" xml:space="preserve">cord  blood</text><text x="17.2" y="264.5" font-size="10.2" font-weight="bold" text-anchor="middle" fill="#000" transform="rotate(-90 17.2 264.5)">CD56</text><path d="M29 302.8H75.5M108 302.8H151" stroke="#111" stroke-width="1.2"/><path d="M156 302.8L149 300.8V304.8Z" fill="#111"/><text x="91.3" y="306" font-size="9.3" font-weight="bold" text-anchor="middle" fill="#000">CD16</text><clipPath id="k13"><rect x="29.6" y="241.8" width="52.99999999999999" height="48.80000000000001"/></clipPath><g clip-path="url(#k13)"><path class="d" stroke-opacity="0.7" d="M64.9 251.3h.1m-5.4 4h.1m8.7 1.2h.1m-8.9 3.8h.1m0-1h.1m1.7-1.2h.1m.4 1.3h.1m.3 .9h.1m.1-1.6h.1m.2 1.2h.1m.2 .7h.1m1 .3h.1m.5-.8h.1m0 .2h.1m0-.5h.1m.1-1.8h.1m.2 1.8h.1m0 .2h.1m.6 0h.1m.1 .3h.1m-.1-1.7h.1m.2 2.2h.1m-.1-1.5h.1m-.1 .9h.1m.4 .4h.1m0-1.3h.1m1.6 1.6h.1m1.4-1.2h.1m.5-.5h.1m2.3-.6h.1m-14.7 5h.1m.4-.4h.1m.7-1.4h.1m.2 .2h.1m0 1h.1m.2-.2h.1m.1-.3h.1m-.1 .5h.1m.1 .8h.1m.3-2.1h.1m0 1.7h.1m.1-1.9h.1m.4 .4h.1m-.1 1h.1m-.1 .5h.1m.7-.7h.1m-.1 1h.1m0-2.6h.1m-.1 1h.1m-.1-.3h.1m.5 1.8h.1m0-.4h.1m.2-1.2h.1m0 .1h.1m0 0h.1m-.1 .3h.1m0 1h.1m.1-1.9h.1m.1 1.3h.1m0-1.6h.1m-.1 .2h.1m0 1h.1m0 .8h.1m.1-.9h.1m0 0h.1m.1 .8h.1m.1 .7h.1m.1-2.1h.1m0 1.1h.1m-.1 .6h.1m0 .1h.1m0 .2h.1m0-1.9h.1m-.1 0h.1m-.1 1.4h.1m0-.4h.1m.3 .7h.1m.1-1.9h.1m0 2.2h.1m-.1-2.2h.1m0 2h.1m0-.9h.1m-.1-1h.1m0 .5h.1m0 .5h.1m-.1-1.2h.1m.1 1.2h.1m0-.8h.1m.2-.6h.1m0 .8h.1m0 0h.1m.1 1.7h.1m.3-1.9h.1m.1-.4h.1m-.1 2.3h.1m.3-1.1h.1m.9-.5h.1m.4-1.2h.1m0 2.6h.1m.8-.8h.1m.8-.6h.1m1.3-.5h.1m-16.7 3.8h.1m.2 1h.1m.3-1.8h.1m1.5-.3h.1m1.5-.4h.1m.3 1.6h.1m.9-1.6h.1m.2 1.3h.1m-.1-1.2h.1m.5 1h.1m-.1 .6h.1m.1-.8h.1m0-.9h.1m.3 1.1h.1m-.1 .8h.1m.3 .1h.1m.4-.4h.1m0-1.3h.1m.6 .4h.1m.1-.7h.1m0 .2h.1m0 0h.1m-.1 1.9h.1m.2-1.9h.1m.4 .3h.1m.6 1.3h.1m.3-.6h.1m0 .5h.1m.7 1.2h.1m.1-2.4h.1m.1 1.1h.1m-.1-.8h.1m.1 .9h.1m.6-.9h.1m.2-.6h.1m1 .9h.1m.6-.7h.1m.4 .5h.1m2.1 0h.1m-6.6 4h.1m.5-1.1h.1m.2-.7h.1"/><path class="d" stroke-opacity="0.7" d="M63.8 257.1h.1m.2 .6h.1m1.9-1.6h.1m1.7 .3h.1m3.4-.2h.1m-11.3 3.8h.1m1.4 .1h.1m1.3-.6h.1m-.1-1.4h.1m0 1.5h.1m.3-.6h.1m-.1-.4h.1m-.1 1.1h.1m.7 1.2h.1m-.1-.5h.1m0-1.7h.1m-.1 .3h.1m.1 1.9h.1m.8-1.7h.1m.1 .7h.1m.2-.5h.1m.9 .4h.1m.3 .1h.1m.1 .7h.1m0-.1h.1m0-.1h.1m.2-1.7h.1m-.1 .2h.1m.2 1.7h.1m.3-1.1h.1m-.1-.8h.1m0 1.8h.1m0 0h.1m.5-1.8h.1m0 .8h.1m.4 1.1h.1m.2-.7h.1m1.2-.8h.1m.5 .7h.1m.2 .7h.1m0-.8h.1m-14.4 1.8h.1m.4 1.7h.1m.7 .7h.1m.1-.5h.1m0-.7h.1m1-.4h.1m.2 .9h.1m.3-1.4h.1m.3 .8h.1m.1 .9h.1m-.1-1.8h.1m.2 .5h.1m0 1.6h.1m0-2.7h.1m.1 .1h.1m.4 2.6h.1m-.1-.5h.1m-.1-.8h.1m.2-.7h.1m.4 .7h.1m0-.4h.1m.6 1.2h.1m.3-1.6h.1m.1 .5h.1m-.1-.8h.1m0 2.5h.1m0-2.1h.1m0 2.1h.1m0-.9h.1m.7-.2h.1m0-1.1h.1m.2 2.1h.1m.2-.5h.1m0-.8h.1m.7-1.1h.1m.2 .2h.1m-.1 1.6h.1m0-.1h.1m0-1.1h.1m.1 1.8h.1m0-.9h.1m.1-1.1h.1m.5 2.1h.1m-.1-1.3h.1m-.1-.5h.1m.1 1.8h.1m0-2.3h.1m.4 2.2h.1m.1-1.7h.1m.2-.9h.1m.6 .5h.1m0-.6h.1m.4 1.7h.1m-12.4 2.5h.1m.2 1.2h.1m1-.2h.1m0-.2h.1m.1 .1h.1m.6-.1h.1m.1-.1h.1m.1-1h.1m-.1 .2h.1m.8-.9h.1m-.1-.3h.1m0 2.3h.1m-.1-.4h.1m.2-.8h.1m.1-.5h.1m0 2.1h.1m.1-1.6h.1m0 1.5h.1m-.1-.7h.1m0-.6h.1m0-1.3h.1m.2 1.3h.1m.2-1.3h.1m0 .8h.1m.1 .9h.1m.1-1.6h.1m-.1 .7h.1m0-.2h.1m.2 .3h.1m.1 .9h.1m0-1.2h.1m.4 .6h.1m.1 1.1h.1m.2-2h.1m.4 1h.1m1.1-.4h.1m.3-.3h.1m.2 2.1h.1m.5-.1h.1m.3-.1h.1m3.2-1.5h.1m-8.7 2.3h.1m1.3 .3h.1m.2 1.4h.1m.2-1.7h.1m.4 2h.1m1.9-1.3h.1m1-.5h.1m.2 .6h.1"/><path class="d" stroke-opacity="0.7" d="M62.6 257.9h.1m1.9-.2h.1m4.2-2h.1m-10.8 3.3h.1m.7 1.9h.1m2.1-.4h.1m1.4-1.1h.1m.1 .1h.1m.5 1.3h.1m.4-.1h.1m.1-1.3h.1m1.3 1.4h.1m1.1-2.3h.1m-.1 1.5h.1m.1-.2h.1m.7 1h.1m.3-.9h.1m0 .9h.1m0-.7h.1m.3 .7h.1m0-1.5h.1m.3 .4h.1m.4 1h.1m1.9-2h.1m.7 .9h.1m.8-.3h.1m2.9 1.2h.1m-18.5 1.3h.1m1 2h.1m.4-1.6h.1m.5-.7h.1m1.4 1h.1m.9-1.4h.1m0 .1h.1m.3 .2h.1m-.1 1.3h.1m.6 .6h.1m0 .6h.1m.1-.6h.1m0-2.3h.1m.1 .6h.1m.1 .7h.1m0 .1h.1m0-.2h.1m0 .9h.1m0-.3h.1m.2-1.4h.1m.1 .2h.1m0 1.7h.1m.1 .4h.1m.1-1.3h.1m.4-1.3h.1m-.1 1.6h.1m-.1-.6h.1m-.1 0h.1m-.1 1.8h.1m.4-1.7h.1m.1-1.1h.1m.1 .5h.1m-.1 2.3h.1m-.1-1.3h.1m.4 1.3h.1m0-1.9h.1m.1 .9h.1m0-.6h.1m0 1.2h.1m.3-1h.1m.1 .6h.1m.1-1.5h.1m.1 1.4h.1m0 .2h.1m.3-1.3h.1m0 1h.1m-.1-.3h.1m.3-1.2h.1m.5 2.3h.1m.2-2.2h.1m2.1 1.3h.1m.1 .7h.1m3-.7h.1m-17.5 1.6h.1m-.1 0h.1m1.5 .2h.1m.3 1.2h.1m0-.9h.1m-.1 2h.1m0-2.8h.1m.6 2.3h.1m0-1.9h.1m0 1.2h.1m.1-1.6h.1m0 1h.1m.1-.8h.1m.1-.2h.1m.3 1.3h.1m-.1-1.1h.1m.3 1.5h.1m.3 .3h.1m.1-1.7h.1m.2 2.1h.1m.2-.9h.1m0 .1h.1m.2 .2h.1m.1-1.8h.1m0 1h.1m-.1-.8h.1m.3 .2h.1m.1-.4h.1m-.1 2.1h.1m.7-1.7h.1m.2 .4h.1m.2 0h.1m0 .9h.1m-.1-1.7h.1m-.1 2.6h.1m-.1-2h.1m.1-.4h.1m.2-.3h.1m-.1 .8h.1m.1-.3h.1m.6 1.7h.1m0-1.2h.1m.2-.1h.1m.3 1.3h.1m0-1.5h.1m.5 0h.1m.1 .6h.1m1 1.3h.1m2.2-1.5h.1m.2-.1h.1m.9 .4h.1m-13.2 2.3h.1m-.1-.3h.1m.5 0h.1m.3-.3h.1m1.6 .5h.1m1.5 .9h.1m.4-1.5h.1m.9 .2h.1m0 1.9h.1m3.3-.6h.1m-6.1 1.7h.1m1.5 0h.1"/><path class="d" stroke-opacity="0.4" d="M54.1 257.7h.1m6.3 .2h.1m.5 .2h.1m3.8 1.1h.1m-6.9 4.1h.1m0-2.2h.1m.7 1.6h.1m4 .5h.1m1.7 .4h.1m0-1.1h.1m6.9 0h.1m1.8-.8h.1m-22.4 4.1h.1m1.3-1.3h.1m0 2h.1m1.3-2.5h.1m.6 .3h.1m.6 1.6h.1m.2-1.4h.1m.9 .5h.1m3.4 1.9h.1m.6-.3h.1m.4-.6h.1m0-1h.1m1.6 1.3h.1m.6-1.9h.1m1.8 .9h.1m4.5 1h.1m-17.6 3.5h.1m2.6-.6h.1m.7-1.9h.1m.3 .1h.1m.6-.4h.1m1.3 1.6h.1m.3-1.4h.1m2.6 .3h.1m.2 2.4h.1m.3-2.6h.1m.9 1h.1m.4-1h.1m1.4 .5h.1m1.4 .6h.1m-14.1 2.8h.1m1.1 1.3h.1m1.6-2.4h.1m.6 1.3h.1m.5-1.3h.1m3.1 0h.1m0 2.4h.1m.8-2h.1m.1 1.5h.1m2-.4h.1m5.7-1.5h.1m-16.6 4.9h.1m2.2 .2h.1m5.8-.6h.1m4.7 0h.1"/><path class="d" stroke-opacity="0.4" d="M55.2 258.1h.1m1.9 2.5h.1m0-.1h.1m3.4-1.8h.1m6.9 1.5h.1m5.6 .5h.1m-31.7 1.1h.1m14.4 .4h.1m.3 1.7h.1m2.6-1.5h.1m2.2 1.5h.1m.5-2.1h.1m1.4 .2h.1m.5-.4h.1m-.1 1.1h.1m.8 .3h.1m.5-1.3h.1m.5-.2h.1m5-.4h.1m.6 1.5h.1m-23 1.5h.1m1.5 1.4h.1m2.9-1h.1m2.9 .6h.1m1.4-1h.1m.9 2.3h.1m.8-.3h.1m.5-.9h.1m.3-.6h.1m1.1 1.6h.1m.9 .1h.1m.7-1.5h.1m3.8 .3h.1m3.5 .7h.1m-22.4 2.8h.1m2.9-1h.1m5.5 1.1h.1m-.1-1h.1m1.1-.3h.1m.2 1.3h.1m0 .9h.1m.2 .2h.1m0-2.5h.1m.4 1.1h.1m.2-1.4h.1m0 2h.1m.1-.6h.1m3.3-.7h.1m0-.3h.1m1.8 1.5h.1m3.1 0h.1m4.2 0h.1m-18.3 3.5h.1m5.3-1.6h.1m.5 1.1h.1m.9 .2h.1m-2.5 3.8h.1"/><path class="d" stroke-opacity="0.4" d="M53.7 258.9h.1m4.4-.8h.1m5.2 2h.1m.6 .8h.1m5.5-1.1h.1m1.1 .4h.1m0-.2h.1m-17.4 1.4h.1m.4 1.7h.1m1.9-.7h.1m.7-.1h.1m.1 1.5h.1m.6-1.7h.1m.4-.9h.1m.5 2.5h.1m-.1-1.6h.1m1.2 .7h.1m3.3-1.6h.1m-.1 .2h.1m.6 1.9h.1m-16.6 2.3h.1m4.9 .8h.1m3.6 .5h.1m.2-.4h.1m.2 .3h.1m1.3-2.8h.1m.8 1.2h.1m1.8 .3h.1m.4 1.3h.1m.8-.8h.1m1-1.8h.1m.6 2.2h.1m2.4-2.2h.1m0 2h.1m.5 0h.1m-16.6 2.7h.1m2 .5h.1m1.2-1.7h.1m3.3 1.2h.1m.3 .3h.1m.7-1.2h.1m.1 1.5h.1m0-2.2h.1m1.3 1.4h.1m2.9-1.1h.1m11 .8h.1m-21.4 2.5h.1m6.9 .4h.1m.1-.5h.1m1.5-.1h.1m.2 .7h.1m1.4 .2h.1m3-1.4h.1m1.6 0h.1m-12.7 3h.1m9.9 .4h.1"/><path class="d" stroke-opacity="0.3" d="M41.2 247.5h.1m4.7 .8h.1m0-1h.1m1.9 1.4h.1m-10 1.3h.1m3.9 .6h.1m.7 1.1h.1m.5-1.6h.1m0 .9h.1m2.5-.6h.1m5.3-.2h.1m2.5 1.4h.1m4.3-2.1h.1m.9 1h.1m.2 .1h.1m-22.5 1.4h.1m0 1.4h.1m.4-.6h.1m1.8 .9h.1m.2-.8h.1m1.9 0h.1m5.3-.9h.1m1.3 1.9h.1m1.9-1.4h.1m2.6-.2h.1m.5 .9h.1m1.1-.2h.1m2.6 1.2h.1m-15.4 .8h.1m9.6 .4h.1"/><path class="d" stroke-opacity="0.3" d="M34.1 251.5h.1m2.8 .2h.1m.2 .1h.1m2.6-2.8h.1m1.7 2.7h.1m0-.6h.1m.6-1.6h.1m2.4 .1h.1m.7 2.2h.1m1.2-.1h.1m1-.9h.1m.3 1.1h.1m1.7-1.4h.1m4.1 1.3h.1m-19.2 .6h.1m2 1.3h.1m1.7-1.5h.1m1 .5h.1m1.5 1.5h.1m5.5-.9h.1m0-.8h.1m2.6 .3h.1m.2-.4h.1m.4-.3h.1m.2 .4h.1m.3 .4h.1m.6-.1h.1m.5-.5h.1m3.7 1h.1m-4 1.7h.1"/><path class="d" stroke-opacity="0.3" d="M35.3 246.6h.1m12.4 2.1h.1m-13.3 1.3h.1m3.1-.3h.1m1.2 1.6h.1m.8-.2h.1m2-1.4h.1m.3 1h.1m.4-.5h.1m1.2-.3h.1m5.8 .4h.1m1.2-.1h.1m.6 1.6h.1m.2 .1h.1m3.4-.4h.1m3.7 0h.1m-21.5 1.7h.1m1.3 .1h.1m2.2-.3h.1m1.7 .5h.1m1.1 .1h.1m.6-.8h.1m1.8 1.1h.1m3.1-1.4h.1m1.9 1.5h.1m1.6-.9h.1m.9-.4h.1m.3 0h.1m1.5 0h.1m-16.9 3h.1"/><path class="d" stroke-opacity="0.15" d="M78.2 258h.1m-19.6 3.1h.1m.5 2.4h.1m5-2.1h.1m3.5 1.9h.1m-12.7 2.9h.1m7.7-1.3h.1m-21.5 4.6h.1m37.9-1.7h.1m-46.8 4.5h.1m1.6 .1h.1m.8-.7h.1m10.2-.7h.1m-13 3.9h.1m.3 .2h.1m22.4 3.4h.1m17-.1h.1m-10.7 1h.1m6.7 .2h.1m1.8 4h.1m-25.4 3.6h.1m1.8 .7h.1m20.4-.4h.1m7-.1h.1"/><path class="d" stroke-opacity="0.15" d="M49.2 257.7h.1m28 1.4h.1m-26.1 4.3h.1m21.2 0h.1m-39.6 1.8h.1m12.2 1.5h.1m-9.6 3.8h.1m3.6 1.9h.1m10.2 .5h.1m3.7-1.2h.1m5.8 .4h.1m14 .3h.1m4.2 .5h.1m-41.2 2.6h.1m4.6-.3h.1m9.6 .4h.1m9.8-2.5h.1m10.9 4h.1m-38.3 3.3h.1m0-1.2h.1m.3 1.1h.1m44.4 1.8h.1m-37.2 5.8h.1"/><path class="d" stroke-opacity="0.15" d="M51.4 259.2h.1m-13.7 3.4h.1m5.4-.5h.1m-10.9 1.9h.1m3.1 4.5h.1m40.8-.4h.1m.5 1.1h.1m-15.9 3.3h.1m-13.8 .6h.1m4.7 5.7h.1m12.6-1.1h.1m6.2 .1h.1m-37.9 2.5h.1m3.5-1.2h.1m11.7 2.7h.1m10.2-1h.1m11.8-1.5h.1m-23.3 4.9h.1m11-.6h.1m-7.5 3.8h.1m2.8 .4h.1m14.8-1.7h.1m1.4-.4h.1"/><path class="d" stroke-opacity="0.3" d="M47.2 265h.1m3.5 1.7h.1m13.4 0h.1m.6-.9h.1m-14 1.6h.1m6.7 2h.1m.1 0h.1m.6-1.7h.1m-10.4 2.5h.1m2 .6h.1m6.3-.8h.1m0 1.5h.1m-.7 2.5h.1m.2 .2h.1m1.7 .1h.1m3.4-.2h.1m-10.6 2.6h.1"/><path class="d" stroke-opacity="0.3" d="M46.2 266.6h.1m-4.1 3h.1m12.4-.9h.1m1.6 .1h.1m.5-1.1h.1m1.6 1.1h.1m3.1-.5h.1m4.7-.5h.1m-18.8 3.7h.1m7.3-.6h.1m3.3 1.1h.1m1.4 0h.1m-6.1 1.6h.1m1.4 1h.1m2.8-.9h.1m.2-.3h.1m-6.3 2.8h.1"/><path class="d" stroke-opacity="0.3" d="M52.7 266.5h.1m6.8-1.3h.1m4.4 1.7h.1m-8.8 2.8h.1m.2-2h.1m1.3 .4h.1m2-.5h.1m2.4 2.3h.1m1.9-.7h.1m-13.7 1.1h.1m4.6 1.1h.1m.3 .2h.1m.2 0h.1m3.2 1.2h.1m2.1-2.6h.1m-4.6 3.9h.1"/></g><rect x="29.6" y="241.8" width="52.99999999999999" height="48.80000000000001" fill="none" stroke="#555" stroke-width=".8"/><path d="M46.7 241.8V290.6M29.6 275.5H82.6" stroke="#444" stroke-width=".8" fill="none"/><path d="M30.1 257.3H82.6" stroke="#222" stroke-width="1.1" stroke-dasharray="2.2 1.8" fill="none"/><text x="81.5" y="247.5" font-size="6.3" font-weight="bold" text-anchor="end" fill="#000">10</text><text x="81.5" y="265" font-size="6.3" font-weight="bold" text-anchor="end" fill="#000">88</text><text x="81.5" y="283.3" font-size="6.3" font-weight="bold" text-anchor="end" fill="#000">2</text><text x="29.6" y="295.2" font-size="4.2" fill="#666" text-anchor="middle" transform="rotate(-30 29.6 294.1)">10</text><text x="42.9" y="295.2" font-size="4.2" fill="#666" text-anchor="middle" transform="rotate(-30 42.9 294.1)">10</text><text x="56.1" y="295.2" font-size="4.2" fill="#666" text-anchor="middle" transform="rotate(-30 56.1 294.1)">10</text><text x="69.3" y="295.2" font-size="4.2" fill="#666" text-anchor="middle" transform="rotate(-30 69.3 294.1)">10</text><text x="82.6" y="295.2" font-size="4.2" fill="#666" text-anchor="middle" transform="rotate(-30 82.6 294.1)">10</text><text x="27" y="290.6" font-size="4.2" fill="#666" text-anchor="middle" transform="rotate(-90 27 290.6)">10</text><text x="27" y="278.4" font-size="4.2" fill="#666" text-anchor="middle" transform="rotate(-90 27 278.4)">10</text><text x="27" y="266.2" font-size="4.2" fill="#666" text-anchor="middle" transform="rotate(-90 27 266.2)">10</text><text x="27" y="254" font-size="4.2" fill="#666" text-anchor="middle" transform="rotate(-90 27 254)">10</text><text x="27" y="241.8" font-size="4.2" fill="#666" text-anchor="middle" transform="rotate(-90 27 241.8)">10</text><clipPath id="k14"><rect x="100.8" y="242.5" width="52.89999999999999" height="48.30000000000001"/></clipPath><g clip-path="url(#k14)"><path class="d" stroke-opacity="0.5" d="M133.2 255.4h.1m.8 2.2h.1m-5.7 3.1h.1m3.3-.4h.1m2.2 .5h.1m-6.9 2.4h.1m1-1.7h.1m1.2 .4h.1m.2 .9h.1m.3-.4h.1m.7-.6h.1m.7-.2h.1m-.1 1.5h.1m.2-.2h.1m.4-.8h.1m1.1 1.7h.1m.1-1.1h.1m.2-.1h.1m.7-.4h.1m.8-.4h.1m-8.3 3.7h.1m2.4-.9h.1m-.1 2.2h.1m.3-1h.1m.3-.7h.1m0 .8h.1m.1 .5h.1m.1-.8h.1m.5-.4h.1m-.1-.1h.1m.2 .6h.1m-.1 1h.1m-.1-1.8h.1m.1 1.9h.1m0-2h.1m.1 .2h.1m.3 1.6h.1m-.1-.2h.1m.3 .3h.1m.7-.2h.1m-.1 0h.1m.5-.3h.1m-.1 .2h.1m1.3-1.4h.1m.1 .7h.1m.2-.9h.1m-12.3 4.5h.1m2.1-1.4h.1m-.1-.1h.1m1.4 2.1h.1m-.1-1.3h.1m1.2-.3h.1m.8-.4h.1m.1-.3h.1m-.1 .2h.1m.8-.8h.1m.5 .8h.1m.8 .3h.1m.4-.6h.1m0 1.1h.1m.1-.5h.1m.3-.5h.1m.6 1.2h.1m.1-1h.1m.2 1.2h.1m-.1 .2h.1m1.5-.7h.1m-11.5 3.6h.1m.6 0h.1m1.2 .6h.1m1.8-.7h.1m1.9-1.7h.1m.7 1.7h.1m.3-.9h.1m-.1-1h.1m.1 1.4h.1m.2-1.1h.1m.1 1.8h.1m.5 0h.1m.1-1.8h.1m-.1-.4h.1m0 .3h.1m.3 0h.1m-.1 0h.1m.2 2.2h.1m.7-1.7h.1m.6 1.7h.1m1.5-2h.1m-12.7 4.1h.1m3.3 .7h.1m1.7-1.8h.1m.4 1.1h.1m2.9-1.6h.1m.9 1.1h.1m-.1-.7h.1m0-.1h.1m.1-.3h.1m.5 1h.1m-11.1 3.1h.1m8.8 3.1h.1"/><path class="d" stroke-opacity="0.5" d="M134.1 257.7h.1m-3.8 2.6h.1m1.6 .4h.1m1.4-1.7h.1m.4 1.9h.1m0-1h.1m-5 3.5h.1m.4 .2h.1m.3-1.7h.1m.1-.8h.1m.3 2.3h.1m.5-.6h.1m.2 .6h.1m0-1.6h.1m.1 1.4h.1m.1-1.8h.1m.3 .2h.1m1.7 1.9h.1m.1-1.2h.1m1.3 .7h.1m-.1 0h.1m1-1.1h.1m0 .2h.1m-6.8 4h.1m.5-.8h.1m-.1 .8h.1m.4-.1h.1m.6-.7h.1m-.1-.5h.1m.1 1.2h.1m-.1-1.2h.1m0 .2h.1m.9 1.6h.1m.2-.3h.1m.6-1.3h.1m.3 1.9h.1m.3-1.1h.1m.1-.5h.1m.7-.3h.1m1.5 .4h.1m-10.5 2.5h.1m1.1-.2h.1m.2-.5h.1m1.4 1.4h.1m.4 .3h.1m0-1.8h.1m-.1 .9h.1m.4-.5h.1m.7-.4h.1m.2 2.2h.1m.4 0h.1m.2-1.2h.1m0 .6h.1m.5 .2h.1m.5-1.9h.1m0 .3h.1m.3 1.7h.1m.1-1.8h.1m.2-.2h.1m0 .9h.1m.1 0h.1m0 .5h.1m1.1 .6h.1m2.7 .7h.1m-11.9 1h.1m1.1 1.9h.1m.3-.5h.1m.7 0h.1m.2-.4h.1m.2 .6h.1m-.1-2.1h.1m.1 .1h.1m.2 1.1h.1m-.1 .4h.1m.3-1h.1m.5 1.8h.1m0 .2h.1m.5-2.7h.1m.8 2.6h.1m-.1-1.4h.1m.9 0h.1m.2 1.3h.1m-.1-1.9h.1m.4 1.5h.1m.2-1.4h.1m.4 .2h.1m-11.3 4.5h.1m2.3-1h.1m.3 .1h.1m3.7 .1h.1m2.3-1.7h.1m1.6 1h.1m.5-.1h.1m.1-.5h.1m-8.7 3.8h.1m1.6-.4h.1m2 .6h.1m2.4-1.2h.1m.2 1.6h.1m.8-.7h.1"/><path class="d" stroke-opacity="0.5" d="M134.5 257.2h.1m-7.4 2.2h.1m.9 1.1h.1m4.1-1.8h.1m3.6 1.2h.1m1.7 .6h.1m-12.2 1.6h.1m.7-.2h.1m1.5 .3h.1m.5 1h.1m.4 .6h.1m.4-.3h.1m.9 .4h.1m.1-1.6h.1m.4 1.4h.1m.3-1.4h.1m0 .1h.1m.3-.6h.1m.3 .5h.1m-.1 1.3h.1m.1 .1h.1m0-1.3h.1m.4 .7h.1m0 .3h.1m-8.2 3.4h.1m3.5-.1h.1m.9-1.1h.1m0 .2h.1m1 .8h.1m.3-.8h.1m0-.1h.1m0-.8h.1m.4-.6h.1m.4 2.5h.1m.2-2.3h.1m.7 1.5h.1m.1-1.6h.1m.1 1.8h.1m.1-.3h.1m.5-.9h.1m.1 .7h.1m.2-.3h.1m1.2 .3h.1m-10.2 2.2h.1m.3-.4h.1m.5-.4h.1m.8 1.8h.1m1-.2h.1m.2 .9h.1m.1-2.6h.1m.5 1.2h.1m0 0h.1m-.1-.3h.1m0-.9h.1m.1 1.4h.1m0 0h.1m0-.2h.1m.5 1.6h.1m.2 .1h.1m0 0h.1m-.1-2.5h.1m.1 2.3h.1m.4-1.5h.1m.3 .2h.1m.1-1h.1m.6 .5h.1m-.1 .4h.1m.4 1.1h.1m0 .4h.1m.5-.4h.1m.1-.9h.1m.4 .6h.1m0-1.4h.1m1.1 .2h.1m-9.9 2.6h.1m.5 1h.1m.5-.8h.1m.1 .5h.1m.6 .8h.1m.2 .4h.1m.5-2.4h.1m1 .1h.1m.2 .8h.1m.1 1.7h.1m.6-2.1h.1m0-.5h.1m.1 1.7h.1m.1-1h.1m-.1 1h.1m.5-.9h.1m.4 2.1h.1m.3-2.6h.1m-5.8 5.2h.1m.6-1.2h.1m0-.1h.1m1.3 .7h.1m3.2-.1h.1m2.2-1.5h.1m-1 3.1h.1m1.8-.3h.1"/><path class="d" stroke-opacity="0.4" d="M132 263h.1m-2.6 2.5h.1m1.6 1.5h.1m3.2 1.6h.1m-2 2.2h.1m0-.7h.1m.7 2.1h.1m1.7-.1h.1m-7.5 3.7h.1m2.8-.9h.1m0 0h.1m1.2-1.2h.1m.5-.4h.1m.7 1.7h.1m.2 .7h.1m.3-2.5h.1m2.1 0h.1m-7 3.6h.1m.1 2h.1m1.2-1.6h.1m.8 1.1h.1m1.8-2.2h.1m.4 .8h.1m.1 .5h.1m.2-.1h.1m-8.8 2.2h.1m.1 0h.1m4.6 1.2h.1m.2 .7h.1m-.1-1.6h.1m.3 1.2h.1m.3-1h.1m-3.3 2.8h.1m1.1 .9h.1m.2-.6h.1m1.1 1.5h.1m.1-.4h.1m.3 .7h.1m.1-1.4h.1m.8-1h.1m0 2.1h.1m2.2 .3h.1m-8.8 1.8h.1m4.3-1.2h.1m0 .1h.1m.6-.3h.1m.8 1.4h.1m0 .7h.1m.9-.8h.1m.8-1.3h.1m.3-.2h.1m-5.4 4.4h.1m5-1.1h.1m.5 .4h.1"/><path class="d" stroke-opacity="0.4" d="M131.2 266.8h.1m5.8 .1h.1m-7.5 3.6h.1m9.4 .7h.1m-8.9 1.8h.1m.3 2h.1m.1-1.2h.1m-.1 .8h.1m.1 .6h.1m1.1-1.3h.1m1 .6h.1m0 1.3h.1m0-2.7h.1m1 2.4h.1m-4.5 .6h.1m.8 .9h.1m.6 .9h.1m.3-1.9h.1m.1 2.5h.1m.5-.3h.1m0 .4h.1m1.4-.9h.1m3.2-1.4h.1m-7.3 4.1h.1m1 1.1h.1m1.1-2.1h.1m.3 1.9h.1m0-1.3h.1m1.2-.6h.1m3.5 .4h.1m-12.1 3.2h.1m.9 .8h.1m3.6-1.5h.1m.6 .3h.1m.7 1.5h.1m.4 .3h.1m2.2 .5h.1m.2-2h.1m-7.5 2.7h.1m2.5 1.6h.1m0 .3h.1m.8-1.6h.1m.1-.2h.1m.2 1.7h.1m-.1 .1h.1m.1-.6h.1m.7 .1h.1m0-.3h.1m.3 1h.1m-4.5 2.2h.1m2.2-.7h.1m.3-.4h.1m.3 .6h.1"/><path class="d" stroke-opacity="0.4" d="M130.1 260.2h.1m.9 .9h.1m.7 11.7h.1m2-1.2h.1m.2-1.4h.1m-3.8 5.2h.1m1.1-.2h.1m.9 .4h.1m.3-1.1h.1m.4-1h.1m.1-.1h.1m1.2 1.4h.1m-3.9 2h.1m.5 .3h.1m.5 1.8h.1m1-1.8h.1m0-1.1h.1m.1 .5h.1m1.5 1.4h.1m1.1-.9h.1m-7.8 4.7h.1m.1-.7h.1m1.6-1.2h.1m2.3-.2h.1m0 .2h.1m.6 1.4h.1m.4-2.2h.1m0 .2h.1m-.1 .4h.1m.7 .4h.1m.1 1.3h.1m.8 .6h.1m.2-2.5h.1m-7.7 2.9h.1m1.3-.2h.1m.1 1.4h.1m-.1-.6h.1m.8 .6h.1m1.5 .4h.1m0-1.3h.1m.4 1.5h.1m0-1.4h.1m.2 .9h.1m-5.9 4.3h.1m1.1-1.3h.1m1.2-1.6h.1m1.7 2.5h.1m2-.9h.1m.3 1.1h.1m-5.3 1.5h.1m2.8-.3h.1m.1-.9h.1m2.7 .7h.1"/><path class="d" stroke-opacity="0.4" d="M124.5 250.2h.1m1.9 1.3h.1m12.6 4.7h.1m1.6 .9h.1m-15.5 3h.1m4.8 .5h.1m-14.6 1.7h.1m7.2 .1h.1m1.2-.1h.1m2.6 0h.1m.5 1.6h.1m3.3-1.5h.1m.8 .1h.1m.1 .6h.1m-13.7 2.9h.1m.9-2h.1m5.1 1.5h.1m6.5 .9h.1m3.1 0h.1m0-.6h.1m-10.8 3.4h.1m2.9-.1h.1m4.1 .8h.1m-11.2 1.1h.1m1.6-.8h.1m3.5 2.5h.1m2.4-1.8h.1m3 1.6h.1m2.7-1.1h.1m4.1-1h.1m-17.5 4.5h.1m10.6 .5h.1m1.5-1.9h.1m.5 .3h.1m3 .6h.1m-21.1 1.8h.1m12.3 .3h.1m2.6 2h.1m1.6-2h.1m2.1 1.3h.1m3.2 .5h.1m-11 4.3h.1m-5.3 2.5h.1m0 0h.1"/><path class="d" stroke-opacity="0.4" d="M123.3 255.9h.1m3.8 1.1h.1m.1 3.9h.1m-4.9 4.6h.1m2.7-.8h.1m3.4 .5h.1m.2-.6h.1m1.7 .6h.1m3.3-.2h.1m1.3 .6h.1m-17 3h.1m1.4-1.5h.1m1.7 1.1h.1m1.6-1.1h.1m.8 1.8h.1m1-1.1h.1m14.2 2h.1m-23.8 .2h.1m0 .3h.1m.2 .6h.1m5.6 1.2h.1m.5-1.2h.1m.8 1.2h.1m2.5-.6h.1m.5 .3h.1m8.3-1.5h.1m5.6 1.7h.1m-23.6 3.4h.1m.3-.2h.1m0-1h.1m5.8-.5h.1m1.3-.1h.1m.6 .4h.1m1.7-.7h.1m.2 1.7h.1m.8-1.9h.1m4.2 .4h.1m3.2 .7h.1m2.8 1.7h.1m-20.8 .2h.1m18.9 2.6h.1m-14 3.3h.1m12 3.2h.1"/><path class="d" stroke-opacity="0.4" d="M119.6 258.6h.1m-3.1 3.1h.1m.5 .2h.1m6.7-.8h.1m4.5 .1h.1m4.5 1.7h.1m-10.4 3.6h.1m2.6-1.8h.1m7.1 1.7h.1m-13.1 3h.1m.6-1.3h.1m1.5 1.3h.1m9.2-2h.1m.5 .7h.1m.8 .3h.1m3.6-.9h.1m.3 1.1h.1m-14.7 2h.1m2.3 .7h.1m.6 1h.1m.6-1.4h.1m2.8-.6h.1m2.4 2h.1m.6-2h.1m-16.1 4.6h.1m7.8-.8h.1m-.1-.6h.1m4-.3h.1m.5 .3h.1m5.5-.4h.1m.9-.1h.1m1.2 2.4h.1m-11.4 2.3h.1m.2-1.6h.1m4.5 .8h.1m1.7-.3h.1m.6 .8h.1m2-.7h.1m2 2.2h.1m-14.9 .3h.1m10.7-.2h.1m-.6 3.5h.1m6.2 .2h.1"/><path class="d" stroke-opacity="0.7" d="M136.7 260.9h.1m-2.6 2h.1m2.4-.5h.1m-6.5 2.1h.1m0 .4h.1m0 1.9h.1m1-2.5h.1m1.3 2.4h.1m0-2h.1m0 .3h.1m-.1-1h.1m.4 .7h.1m0 0h.1m0 1.2h.1m.1-1.3h.1m.2 0h.1m0-.1h.1m.2 2.2h.1m-.1-2.1h.1m-.1 .4h.1m.9 1.4h.1m1.7-.7h.1m-6.5 2.6h.1m1.4 1h.1m.2-.4h.1m.6-1.3h.1m-1 3h.1"/><path class="d" stroke-opacity="0.7" d="M131.2 260.4h.1m.4 .4h.1m-.6 3h.1m.1 .1h.1m.8-1.5h.1m.2-.3h.1m-.1 .9h.1m1.6-.4h.1m.1 .7h.1m-6.1 2.1h.1m2.3 1.3h.1m0-2.7h.1m1.5 1.3h.1m-.1 1.3h.1m0 .3h.1m.4-2.7h.1m.5 1h.1m0 .9h.1m.4-1.5h.1m0-.4h.1m.6-.1h.1m-3.3 3h.1m.4 .2h.1m.1-.2h.1m3.2 1.7h.1m-3.1 2.1h.1m2.8 .4h.1"/><path class="d" stroke-opacity="0.7" d="M131.4 260.1h.1m-.7 3.7h.1m1.2-.4h.1m1.2-2.2h.1m1.6 2.3h.1m-3 3.4h.1m.3-.8h.1m0 .1h.1m.5 0h.1m.2-1.7h.1m0-.3h.1m.2 1.6h.1m0-.9h.1m-.1-.1h.1m.6 .1h.1m1.2 1h.1m-5.4 3.8h.1m2-2.1h.1m0 0h.1m1.2 2.3h.1m.3-2h.1m-.1 0h.1m0-.5h.1m1-.1h.1m-1.2 3.2h.1m3.2 .1h.1"/><path class="d" stroke-opacity="0.15" d="M113.4 250.5h.1m8.3-.3h.1m1.1 1.1h.1m9.8-.8h.1m-26.3 2.4h.1m6.2-.9h.1m3.8 1.3h.1m7.4-.1h.1m-.1-1.2h.1m9.8 1.9h.1m2.8 .8h.1m1.1-1.8h.1m-34.3 2.6h.1m4.2-.4h.1m8.3 1.9h.1m22.5-.8h.1m-28.8 3.4h.1m23.3-.1h.1m4.4-.4h.1m-17.8 1.9h.1"/><path class="d" stroke-opacity="0.15" d="M120.6 250.5h.1m3.9-.3h.1m9.3 .4h.1m3.1-.1h.1m-21.1 1.9h.1m22.1 1.5h.1m-34.8 2.9h.1m1.4-.4h.1m4.2-.5h.1m-5.1 3.1h.1m1.4 0h.1m.4 .9h.1m4.5-1.5h.1m3.1 2.1h.1m7.1-.3h.1m5.8 .2h.1m.4 .1h.1m5.5-1.8h.1m4.1 2h.1m-2 .3h.1"/><path class="d" stroke-opacity="0.15" d="M104.2 251.5h.1m.7-.7h.1m.4 .4h.1m2.1 .2h.1m4.1-.2h.1m22.1 .1h.1m-28 1.3h.1m5.9 .4h.1m7.7 1.6h.1m13.6-.2h.1m-26 1.3h.1m2.5 1.5h.1m8.4 .3h.1m7.9-1.6h.1m9.5 1.7h.1m-33.6 .6h.1m3.1 0h.1m8.5 .6h.1m3 1.9h.1m1-1.3h.1"/><path class="d" stroke-opacity="0.15" d="M131.6 262h.1m-25.3 4.1h.1m15.2-.6h.1m-18.3 4.2h.1m18.1-1.4h.1m4.4-.4h.1m8.6-.9h.1m-23.8 4.5h.1m17.3 1.2h.1m9.2-.2h.1m-34.4 2.4h.1m22.2-1.2h.1m3.4 2.5h.1m-18.5 3h.1m13 2h.1m9.9-2.2h.1m1.3 1.1h.1m3.9 1.8h.1m-25.5 2.7h.1m20.4-2.4h.1"/><path class="d" stroke-opacity="0.15" d="M113.4 261.7h.1m-4.4 4.9h.1m8-.5h.1m12-.7h.1m14.2 1.4h.1m3.8-.3h.1m-36.6 1h.1m1.4 2.4h.1m14-.8h.1m-16.5 1.5h.1m-2.6 5.3h.1m3.8-1h.1m-1.9 3.2h.1m15.9 .1h.1m-20 3.2h.1m7.8-2h.1m28.4 2.3h.1m-7.9 .4h.1m8 1.2h.1m-15.3 3.1h.1"/><path class="d" stroke-opacity="0.15" d="M130.4 263.4h.1m4.5-.8h.1m5.1 .8h.1m-14.1 3h.1m-18.4 3h.1m26.3-1.1h.1m-20.6 3.5h.1m12.6 .7h.1m-13.1 .8h.1m12.6 2.4h.1m.1 2.3h.1m4.4-1.1h.1m-19.6 3.1h.1m11.3-.4h.1m23.2 2h.1m-16.7 1.7h.1m11-1.3h.1m-30 5.5h.1m11.6-.9h.1m15.1-1.2h.1"/></g><rect x="100.8" y="242.5" width="52.89999999999999" height="48.30000000000001" fill="none" stroke="#555" stroke-width=".8"/><path d="M113.4 242.5V290.8M100.8 278.6H153.7" stroke="#444" stroke-width=".8" fill="none"/><path d="M101.3 260.5H153.7" stroke="#222" stroke-width="1.1" stroke-dasharray="2.2 1.8" fill="none"/><text x="152.6" y="248" font-size="6.3" font-weight="bold" text-anchor="end" fill="#000">8</text><text x="152.6" y="267.6" font-size="6.3" font-weight="bold" text-anchor="end" fill="#000">77</text><text x="152.6" y="285" font-size="6.3" font-weight="bold" text-anchor="end" fill="#000">15</text><text x="100.8" y="295.4" font-size="4.2" fill="#666" text-anchor="middle" transform="rotate(-30 100.8 294.3)">10</text><text x="114" y="295.4" font-size="4.2" fill="#666" text-anchor="middle" transform="rotate(-30 114 294.3)">10</text><text x="127.2" y="295.4" font-size="4.2" fill="#666" text-anchor="middle" transform="rotate(-30 127.2 294.3)">10</text><text x="140.5" y="295.4" font-size="4.2" fill="#666" text-anchor="middle" transform="rotate(-30 140.5 294.3)">10</text><text x="153.7" y="295.4" font-size="4.2" fill="#666" text-anchor="middle" transform="rotate(-30 153.7 294.3)">10</text><text x="98.2" y="290.8" font-size="4.2" fill="#666" text-anchor="middle" transform="rotate(-90 98.2 290.8)">10</text><text x="98.2" y="278.7" font-size="4.2" fill="#666" text-anchor="middle" transform="rotate(-90 98.2 278.7)">10</text><text x="98.2" y="266.6" font-size="4.2" fill="#666" text-anchor="middle" transform="rotate(-90 98.2 266.6)">10</text><text x="98.2" y="254.6" font-size="4.2" fill="#666" text-anchor="middle" transform="rotate(-90 98.2 254.6)">10</text><text x="98.2" y="242.5" font-size="4.2" fill="#666" text-anchor="middle" transform="rotate(-90 98.2 242.5)">10</text><text x="304.6" y="9.6" font-size="11.5" font-weight="bold" text-anchor="start" fill="#000">C</text><path d="M321.4 17V70M321.4 145.7V194.6" stroke="#111" stroke-width="1.3"/><path d="M321.4 11.5L319 19H323.8Z" fill="#111"/><text x="326.2" y="107.4" font-size="9.2" font-weight="bold" text-anchor="middle" fill="#000" transform="rotate(-90 326.2 107.4)">%CD56-CD16+</text><rect x="338.1" y="12.3" width="70.39999999999998" height="49.7" fill="none" stroke="#888" stroke-width=".8"/><text x="336.3" y="16.699999999999996" font-size="7" text-anchor="end" fill="#222">60</text><path d="M338.1 14.299999999999997h1.5" stroke="#666" stroke-width=".6"/><text x="336.3" y="31.833333333333332" font-size="7" text-anchor="end" fill="#222">40</text><path d="M338.1 29.433333333333334h1.5" stroke="#666" stroke-width=".6"/><text x="336.3" y="46.96666666666667" font-size="7" text-anchor="end" fill="#222">20</text><path d="M338.1 44.56666666666667h1.5" stroke="#666" stroke-width=".6"/><text x="336.3" y="62.1" font-size="7" text-anchor="end" fill="#222">0</text><path d="M338.1 59.7h1.5" stroke="#666" stroke-width=".6"/><text x="341.90000000000003" y="20.1" font-size="7.2" text-anchor="start" fill="#111">group 1</text><path d="M346.9 62v1.3" stroke="#888" stroke-width=".5"/><path d="M357.8 62v1.3" stroke="#888" stroke-width=".5"/><path d="M368.5 62v1.3" stroke="#888" stroke-width=".5"/><path d="M379.3 62v1.3" stroke="#888" stroke-width=".5"/><path d="M389.4 62v1.3" stroke="#888" stroke-width=".5"/><path d="M400.2 62v1.3" stroke="#888" stroke-width=".5"/><rect x="338" y="78.8" width="70.19999999999999" height="49.500000000000014" fill="none" stroke="#888" stroke-width=".8"/><text x="336.2" y="83.2" font-size="7" text-anchor="end" fill="#222">60</text><path d="M338 80.8h1.5" stroke="#666" stroke-width=".6"/><text x="336.2" y="98.26666666666668" font-size="7" text-anchor="end" fill="#222">40</text><path d="M338 95.86666666666667h1.5" stroke="#666" stroke-width=".6"/><text x="336.2" y="113.33333333333334" font-size="7" text-anchor="end" fill="#222">20</text><path d="M338 110.93333333333334h1.5" stroke="#666" stroke-width=".6"/><text x="336.2" y="128.4" font-size="7" text-anchor="end" fill="#222">0</text><path d="M338 126.00000000000001h1.5" stroke="#666" stroke-width=".6"/><text x="341.8" y="86.6" font-size="7.2" text-anchor="start" fill="#111">group 2</text><path d="M346.9 128.3v1.3" stroke="#888" stroke-width=".5"/><path d="M357.8 128.3v1.3" stroke="#888" stroke-width=".5"/><path d="M368.5 128.3v1.3" stroke="#888" stroke-width=".5"/><path d="M379.3 128.3v1.3" stroke="#888" stroke-width=".5"/><path d="M389.4 128.3v1.3" stroke="#888" stroke-width=".5"/><path d="M400.2 128.3v1.3" stroke="#888" stroke-width=".5"/><rect x="337.5" y="144.3" width="71.10000000000002" height="49.19999999999999" fill="none" stroke="#888" stroke-width=".8"/><text x="335.7" y="148.70000000000002" font-size="7" text-anchor="end" fill="#222">60</text><path d="M337.5 146.3h1.5" stroke="#666" stroke-width=".6"/><text x="335.7" y="163.66666666666669" font-size="7" text-anchor="end" fill="#222">40</text><path d="M337.5 161.26666666666668h1.5" stroke="#666" stroke-width=".6"/><text x="335.7" y="178.63333333333333" font-size="7" text-anchor="end" fill="#222">20</text><path d="M337.5 176.23333333333332h1.5" stroke="#666" stroke-width=".6"/><text x="335.7" y="193.6" font-size="7" text-anchor="end" fill="#222">0</text><path d="M337.5 191.2h1.5" stroke="#666" stroke-width=".6"/><text x="341.3" y="152.10000000000002" font-size="7.2" text-anchor="start" fill="#111">group 3</text><path d="M346.9 193.5v1.3" stroke="#888" stroke-width=".5"/><path d="M357.8 193.5v1.3" stroke="#888" stroke-width=".5"/><path d="M368.5 193.5v1.3" stroke="#888" stroke-width=".5"/><path d="M379.3 193.5v1.3" stroke="#888" stroke-width=".5"/><path d="M389.4 193.5v1.3" stroke="#888" stroke-width=".5"/><path d="M400.2 193.5v1.3" stroke="#888" stroke-width=".5"/><path d="M346.9 55.8L357.8 50.8L368.5 33.5L379.3 27.7" fill="none" stroke="#777" stroke-width=".7"/><path d="M346.9 50.3V61.2" stroke="#555" stroke-width=".7"/><path d="M357.8 45V56.5" stroke="#555" stroke-width=".7"/><path d="M368.5 24.2V42.7" stroke="#555" stroke-width=".7"/><path d="M379.3 15V40.4" stroke="#555" stroke-width=".7"/><circle cx="346.9" cy="55.8" r="1.95" fill="#000"/><circle cx="357.8" cy="50.8" r="1.95" fill="#000"/><circle cx="368.5" cy="33.5" r="1.95" fill="#000"/><circle cx="379.3" cy="27.7" r="1.95" fill="#000"/><rect x="388.0" y="56.900000000000006" width="2.8" height="2.6" fill="#fff" stroke="#333" stroke-width=".7"/><path d="M400.2 44.3V51.2" stroke="#666" stroke-width=".7"/><path d="M400.2 46.5L401.5 48.5L400.2 50.5L398.9 48.5Z" fill="#fff" stroke="#444" stroke-width=".7"/><path d="M346.9 121.6L357.8 117.7L368.5 114.9L379.3 114.9" fill="none" stroke="#777" stroke-width=".7"/><path d="M346.9 118V125.3" stroke="#555" stroke-width=".7"/><path d="M357.8 113.7V122.4" stroke="#555" stroke-width=".7"/><path d="M368.5 110V119.5" stroke="#555" stroke-width=".7"/><rect x="345.15" y="119.85" width="3.5" height="3.5" rx=".3" fill="#000"/><rect x="356.05" y="115.95" width="3.5" height="3.5" rx=".3" fill="#000"/><rect x="366.75" y="113.15" width="3.5" height="3.5" rx=".3" fill="#000"/><rect x="377.55" y="113.15" width="3.5" height="3.5" rx=".3" fill="#000"/><rect x="388.0" y="122.5" width="2.8" height="2.6" fill="#fff" stroke="#333" stroke-width=".7"/><path d="M400.2 110.8V117.3" stroke="#666" stroke-width=".7"/><path d="M400.2 112.4L401.5 114.4L400.2 116.4L398.9 114.4Z" fill="#fff" stroke="#444" stroke-width=".7"/><path d="M346.9 188.5L357.8 187L368.5 185.8L379.3 185.8" fill="none" stroke="#777" stroke-width=".7"/><path d="M357.8 184V190.5" stroke="#555" stroke-width=".7"/><path d="M346.9 186.3L349.09999999999997 190.0H344.7Z" fill="#000" stroke="#000" stroke-width=".4"/><path d="M357.8 184.8L360.0 188.5H355.6Z" fill="#000" stroke="#000" stroke-width=".4"/><path d="M368.5 183.60000000000002L370.7 187.3H366.3Z" fill="#000" stroke="#000" stroke-width=".4"/><path d="M379.3 183.60000000000002L381.5 187.3H377.1Z" fill="#000" stroke="#000" stroke-width=".4"/><rect x="388.0" y="188.7" width="2.8" height="2.6" fill="#fff" stroke="#333" stroke-width=".7"/><path d="M400.2 176.2V183.5" stroke="#666" stroke-width=".7"/><path d="M400.2 177.6L401.5 179.6L400.2 181.6L398.9 179.6Z" fill="#fff" stroke="#444" stroke-width=".7"/><text x="345.4" y="200.9" font-size="7.2" text-anchor="middle" fill="#111">1</text><text x="356.6" y="200.9" font-size="7.2" text-anchor="middle" fill="#111">3</text><text x="366.8" y="200.9" font-size="7.2" text-anchor="middle" fill="#111">6</text><text x="377" y="200.9" font-size="7.2" text-anchor="middle" fill="#111">12</text><text x="388.8" y="200.9" font-size="7.2" text-anchor="middle" fill="#111">A</text><text x="399.2" y="200.9" font-size="7.2" text-anchor="middle" fill="#111">CB</text><text x="420.8" y="9.8" font-size="11.5" font-weight="bold" text-anchor="start" fill="#000">D</text><path d="M430.6 19V71M430.6 143.3V195.1" stroke="#111" stroke-width="1.3"/><path d="M430.6 13.3L428.2 20.8H433Z" fill="#111"/><text x="435" y="108.3" font-size="9.2" font-weight="bold" text-anchor="middle" fill="#000" transform="rotate(-90 435 108.3)">%CD56bright</text><rect x="446.6" y="12.6" width="70.29999999999995" height="49.0" fill="none" stroke="#888" stroke-width=".8"/><text x="444.8" y="17.200000000000003" font-size="7" text-anchor="end" fill="#222">80</text><path d="M446.6 14.800000000000004h1.5" stroke="#666" stroke-width=".6"/><text x="444.8" y="28.450000000000003" font-size="7" text-anchor="end" fill="#222">60</text><path d="M446.6 26.050000000000004h1.5" stroke="#666" stroke-width=".6"/><text x="444.8" y="39.7" font-size="7" text-anchor="end" fill="#222">40</text><path d="M446.6 37.300000000000004h1.5" stroke="#666" stroke-width=".6"/><text x="444.8" y="50.95" font-size="7" text-anchor="end" fill="#222">20</text><path d="M446.6 48.550000000000004h1.5" stroke="#666" stroke-width=".6"/><text x="444.8" y="62.2" font-size="7" text-anchor="end" fill="#222">0</text><path d="M446.6 59.800000000000004h1.5" stroke="#666" stroke-width=".6"/><text x="450.1" y="20.1" font-size="7.2" text-anchor="start" fill="#111">group 1</text><path d="M455.5 61.6v1.3" stroke="#888" stroke-width=".5"/><path d="M466.3 61.6v1.3" stroke="#888" stroke-width=".5"/><path d="M477 61.6v1.3" stroke="#888" stroke-width=".5"/><path d="M487.6 61.6v1.3" stroke="#888" stroke-width=".5"/><path d="M498.1 61.6v1.3" stroke="#888" stroke-width=".5"/><path d="M508.6 61.6v1.3" stroke="#888" stroke-width=".5"/><rect x="447.4" y="78.8" width="69.89999999999998" height="49.500000000000014" fill="none" stroke="#888" stroke-width=".8"/><text x="445.59999999999997" y="83.4" font-size="7" text-anchor="end" fill="#222">80</text><path d="M447.4 81.0h1.5" stroke="#666" stroke-width=".6"/><text x="445.59999999999997" y="94.775" font-size="7" text-anchor="end" fill="#222">60</text><path d="M447.4 92.375h1.5" stroke="#666" stroke-width=".6"/><text x="445.59999999999997" y="106.15" font-size="7" text-anchor="end" fill="#222">40</text><path d="M447.4 103.75h1.5" stroke="#666" stroke-width=".6"/><text x="445.59999999999997" y="117.52500000000002" font-size="7" text-anchor="end" fill="#222">20</text><path d="M447.4 115.12500000000001h1.5" stroke="#666" stroke-width=".6"/><text x="445.59999999999997" y="128.9" font-size="7" text-anchor="end" fill="#222">0</text><path d="M447.4 126.50000000000001h1.5" stroke="#666" stroke-width=".6"/><text x="450.9" y="86.3" font-size="7.2" text-anchor="start" fill="#111">group 2</text><path d="M455.5 128.3v1.3" stroke="#888" stroke-width=".5"/><path d="M466.3 128.3v1.3" stroke="#888" stroke-width=".5"/><path d="M477 128.3v1.3" stroke="#888" stroke-width=".5"/><path d="M487.6 128.3v1.3" stroke="#888" stroke-width=".5"/><path d="M498.1 128.3v1.3" stroke="#888" stroke-width=".5"/><path d="M508.6 128.3v1.3" stroke="#888" stroke-width=".5"/><rect x="446.4" y="143.9" width="70.30000000000007" height="49.29999999999998" fill="none" stroke="#888" stroke-width=".8"/><text x="444.59999999999997" y="148.5" font-size="7" text-anchor="end" fill="#222">80</text><path d="M446.4 146.1h1.5" stroke="#666" stroke-width=".6"/><text x="444.59999999999997" y="159.825" font-size="7" text-anchor="end" fill="#222">60</text><path d="M446.4 157.42499999999998h1.5" stroke="#666" stroke-width=".6"/><text x="444.59999999999997" y="171.15" font-size="7" text-anchor="end" fill="#222">40</text><path d="M446.4 168.75h1.5" stroke="#666" stroke-width=".6"/><text x="444.59999999999997" y="182.475" font-size="7" text-anchor="end" fill="#222">20</text><path d="M446.4 180.075h1.5" stroke="#666" stroke-width=".6"/><text x="444.59999999999997" y="193.79999999999998" font-size="7" text-anchor="end" fill="#222">0</text><path d="M446.4 191.39999999999998h1.5" stroke="#666" stroke-width=".6"/><text x="449.9" y="151.4" font-size="7.2" text-anchor="start" fill="#111">group 3</text><path d="M455.5 193.2v1.3" stroke="#888" stroke-width=".5"/><path d="M466.3 193.2v1.3" stroke="#888" stroke-width=".5"/><path d="M477 193.2v1.3" stroke="#888" stroke-width=".5"/><path d="M487.6 193.2v1.3" stroke="#888" stroke-width=".5"/><path d="M498.1 193.2v1.3" stroke="#888" stroke-width=".5"/><path d="M508.6 193.2v1.3" stroke="#888" stroke-width=".5"/><path d="M455.5 37L466.3 43.8L477 51.1L487.6 53.9" fill="none" stroke="#777" stroke-width=".7"/><path d="M455.5 29.7V44.5" stroke="#555" stroke-width=".7"/><path d="M466.3 33.8V53.6" stroke="#555" stroke-width=".7"/><path d="M487.6 49.7V57.5" stroke="#555" stroke-width=".7"/><circle cx="455.5" cy="37" r="1.95" fill="#000"/><circle cx="466.3" cy="43.8" r="1.95" fill="#000"/><circle cx="477" cy="51.1" r="1.95" fill="#000"/><circle cx="487.6" cy="53.9" r="1.95" fill="#000"/><path d="M498.1 49V57.5" stroke="#666" stroke-width=".7"/><circle cx="498.1" cy="53.2" r="1.5" fill="#fff" stroke="#444" stroke-width=".7"/><path d="M508.6 49V56" stroke="#666" stroke-width=".7"/><circle cx="508.6" cy="52.5" r="1.5" fill="#fff" stroke="#444" stroke-width=".7"/><path d="M455.5 105.6L466.3 108.2L477 115.5L487.6 117.4" fill="none" stroke="#777" stroke-width=".7"/><path d="M455.5 93.9V117.4" stroke="#555" stroke-width=".7"/><path d="M466.3 101V116" stroke="#555" stroke-width=".7"/><path d="M477 107V124.6" stroke="#555" stroke-width=".7"/><path d="M487.6 114.7V120" stroke="#555" stroke-width=".7"/><rect x="453.75" y="103.85" width="3.5" height="3.5" rx=".3" fill="#000"/><rect x="464.55" y="106.45" width="3.5" height="3.5" rx=".3" fill="#000"/><rect x="475.25" y="113.75" width="3.5" height="3.5" rx=".3" fill="#000"/><rect x="485.85" y="115.65" width="3.5" height="3.5" rx=".3" fill="#000"/><path d="M498.1 115.3V123.1" stroke="#666" stroke-width=".7"/><circle cx="498.1" cy="119.4" r="1.5" fill="#fff" stroke="#444" stroke-width=".7"/><path d="M508.6 115.3V122.6" stroke="#666" stroke-width=".7"/><circle cx="508.6" cy="118.7" r="1.5" fill="#fff" stroke="#444" stroke-width=".7"/><path d="M455.5 166L466.3 161L477 161.9L487.6 175.2" fill="none" stroke="#777" stroke-width=".7"/><path d="M455.5 164V168.8" stroke="#555" stroke-width=".7"/><path d="M466.3 156.3V167.4" stroke="#555" stroke-width=".7"/><path d="M477 153.5V171.6" stroke="#555" stroke-width=".7"/><path d="M487.6 168.2V184" stroke="#555" stroke-width=".7"/><path d="M455.5 163.8L457.7 167.5H453.3Z" fill="#000" stroke="#000" stroke-width=".4"/><path d="M466.3 158.8L468.5 162.5H464.1Z" fill="#000" stroke="#000" stroke-width=".4"/><path d="M477 159.70000000000002L479.2 163.4H474.8Z" fill="#000" stroke="#000" stroke-width=".4"/><path d="M487.6 173.0L489.8 176.7H485.40000000000003Z" fill="#000" stroke="#000" stroke-width=".4"/><path d="M498.1 181.2V189.6" stroke="#666" stroke-width=".7"/><circle cx="498.1" cy="185.4" r="1.5" fill="#fff" stroke="#444" stroke-width=".7"/><path d="M508.6 180.7V188.2" stroke="#666" stroke-width=".7"/><circle cx="508.6" cy="184.6" r="1.5" fill="#fff" stroke="#444" stroke-width=".7"/><text x="455.5" y="201.3" font-size="7.2" text-anchor="middle" fill="#222">1</text><text x="466.3" y="201.3" font-size="7.2" text-anchor="middle" fill="#222">3</text><text x="477" y="201.3" font-size="7.2" text-anchor="middle" fill="#222">6</text><text x="487.6" y="201.3" font-size="7.2" text-anchor="middle" fill="#222">12</text><text x="498.1" y="201.3" font-size="7.2" text-anchor="middle" fill="#222">A</text><text x="508.6" y="201.3" font-size="7.2" text-anchor="middle" fill="#222">CB</text><text x="190.8" y="238.3" font-size="10.5" font-weight="bold" text-anchor="start" fill="#000">E</text><text x="199.1" y="270.7" font-size="6.7" font-weight="bold" text-anchor="middle" fill="#000" transform="rotate(-90 199.1 270.7)">%CD56-CD16+</text><rect x="210.6" y="241.6" width="85.20000000000002" height="55.20000000000002" fill="none" stroke="#888" stroke-width=".8"/><text x="208.4" y="247.1" font-size="7.2" text-anchor="end" fill="#111">60</text><text x="208.4" y="264.5" font-size="7.2" text-anchor="end" fill="#111">40</text><text x="208.4" y="282.0" font-size="7.2" text-anchor="end" fill="#111">20</text><text x="208.4" y="299.5" font-size="7.2" text-anchor="end" fill="#111">0</text><path d="M222 255.6V266.3" stroke="#555" stroke-width=".7"/><path d="M237.3 275.3V290.8" stroke="#666" stroke-width=".7"/><path d="M268.3 244.3V259.8" stroke="#555" stroke-width=".7"/><path d="M283.7 279.8V291.8" stroke="#666" stroke-width=".7"/><rect x="216.2" y="266.3" width="11.4" height="30.5" fill="#000"/><rect x="231.5" y="283" width="12" height="13.800000000000011" fill="none" stroke="#555" stroke-width=".7"/><rect x="262.7" y="259.8" width="11.5" height="37.0" fill="#000"/><rect x="277.4" y="284.4" width="12.8" height="12.400000000000034" fill="none" stroke="#555" stroke-width=".7"/><path d="M237.3 283.2V290.8" stroke="#666" stroke-width=".7"/><path d="M283.7 284.6V291.8" stroke="#666" stroke-width=".7"/><path d="M218.5 253V251Q218.5 250.2 219.5 250.2H239.5Q240.5 250.2 240.5 251V253M265.4 246.6V245Q265.4 244.2 266.4 244.2H285.8Q286.8 244.2 286.8 245V246.6" fill="none" stroke="#222" stroke-width=".9"/><text x="229.3" y="256.6" font-size="9.5" font-weight="bold" text-anchor="middle" fill="#000">*</text><text x="276.4" y="250.3" font-size="9.5" font-weight="bold" text-anchor="middle" fill="#000">*</text><text x="229.8" y="303.6" font-size="7.5" text-anchor="middle" fill="#000">6 m</text><text x="275.6" y="303.6" font-size="7.5" text-anchor="middle" fill="#000">12 m</text></svg></body></html>
